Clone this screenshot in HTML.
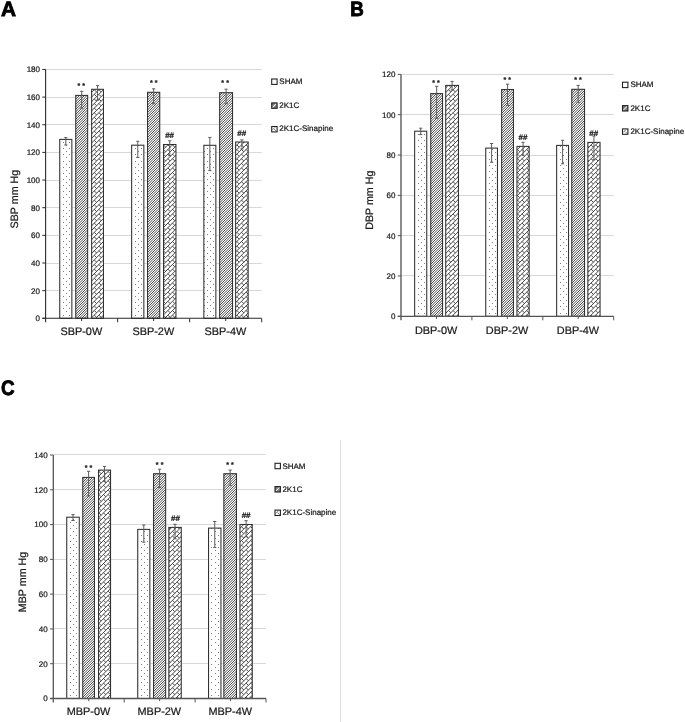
<!DOCTYPE html>
<html><head><meta charset="utf-8"><title>Figure</title>
<style>
html,body{margin:0;padding:0;background:#fff;}
body{width:685px;height:722px;overflow:hidden;}
svg{display:block;text-rendering:geometricPrecision;stroke:none;font-family:"Liberation Sans",Arial,sans-serif;fill:#1a1a1a;}
svg text{stroke:#1a1a1a;stroke-width:0.22px;}
svg text.pl{fill:#000;stroke:#000;stroke-width:0.9px;stroke-linejoin:miter;}
</style></head><body>
<svg width="685" height="722" viewBox="0 0 685 722">

<rect width="685" height="722" fill="#fff"/>
<line x1="45.6" y1="290.50" x2="261.7" y2="290.50" stroke="#d8d8d8" stroke-width="1"/>
<line x1="45.6" y1="263.50" x2="261.7" y2="263.50" stroke="#d8d8d8" stroke-width="1"/>
<line x1="45.6" y1="235.50" x2="261.7" y2="235.50" stroke="#d8d8d8" stroke-width="1"/>
<line x1="45.6" y1="207.50" x2="261.7" y2="207.50" stroke="#d8d8d8" stroke-width="1"/>
<line x1="45.6" y1="180.50" x2="261.7" y2="180.50" stroke="#d8d8d8" stroke-width="1"/>
<line x1="45.6" y1="152.50" x2="261.7" y2="152.50" stroke="#d8d8d8" stroke-width="1"/>
<line x1="45.6" y1="124.50" x2="261.7" y2="124.50" stroke="#d8d8d8" stroke-width="1"/>
<line x1="45.6" y1="97.50" x2="261.7" y2="97.50" stroke="#d8d8d8" stroke-width="1"/>
<line x1="45.6" y1="69.50" x2="261.7" y2="69.50" stroke="#d8d8d8" stroke-width="1"/>
<clipPath id="c1"><rect x="59.75" y="139.40" width="12.10" height="178.90"/></clipPath>
<rect x="59.75" y="139.40" width="12.10" height="178.90" fill="#fff"/>
<g clip-path="url(#c1)"><path d="M59 318.5h1M63 315.5h1M66 318.5h1M69 315.5h1M59 311.5h1M63 308.5h1M66 311.5h1M69 308.5h1M59 305.5h1M63 302.5h1M66 305.5h1M69 302.5h1M59 299.5h1M63 296.5h1M66 299.5h1M69 296.5h1M59 293.5h1M63 290.5h1M66 293.5h1M69 290.5h1M59 287.5h1M63 284.5h1M66 287.5h1M69 284.5h1M59 281.5h1M63 278.5h1M66 281.5h1M69 278.5h1M59 274.5h1M63 271.5h1M66 274.5h1M69 271.5h1M59 268.5h1M63 265.5h1M66 268.5h1M69 265.5h1M59 262.5h1M63 259.5h1M66 262.5h1M69 259.5h1M59 256.5h1M63 253.5h1M66 256.5h1M69 253.5h1M59 250.5h1M63 247.5h1M66 250.5h1M69 247.5h1M59 244.5h1M63 241.5h1M66 244.5h1M69 241.5h1M59 238.5h1M63 234.5h1M66 238.5h1M69 234.5h1M59 231.5h1M63 228.5h1M66 231.5h1M69 228.5h1M59 225.5h1M63 222.5h1M66 225.5h1M69 222.5h1M59 219.5h1M63 216.5h1M66 219.5h1M69 216.5h1M59 213.5h1M63 210.5h1M66 213.5h1M69 210.5h1M59 207.5h1M63 204.5h1M66 207.5h1M69 204.5h1M59 201.5h1M63 197.5h1M66 201.5h1M69 197.5h1M59 194.5h1M63 191.5h1M66 194.5h1M69 191.5h1M59 188.5h1M63 185.5h1M66 188.5h1M69 185.5h1M59 182.5h1M63 179.5h1M66 182.5h1M69 179.5h1M59 176.5h1M63 173.5h1M66 176.5h1M69 173.5h1M59 170.5h1M63 167.5h1M66 170.5h1M69 167.5h1M59 164.5h1M63 161.5h1M66 164.5h1M69 161.5h1M59 157.5h1M63 154.5h1M66 157.5h1M69 154.5h1M59 151.5h1M63 148.5h1M66 151.5h1M69 148.5h1M59 145.5h1M63 142.5h1M66 145.5h1M69 142.5h1M59 139.5h1M63 136.5h1M66 139.5h1M69 136.5h1M59 133.5h1M63 130.5h1M66 133.5h1M69 130.5h1" stroke="#808080" stroke-width="1" fill="none"/></g>
<rect x="59.75" y="139.40" width="12.10" height="178.90" fill="none" stroke="#2e2e2e" stroke-width="1.05"/>
<path d="M65.80 137.60V145.00M64.20 137.60H67.40M64.20 145.00H67.40" stroke="#5c5c5c" stroke-width="1" fill="none"/>
<clipPath id="c2"><rect x="75.75" y="95.40" width="11.90" height="222.90"/></clipPath>
<rect x="75.75" y="95.40" width="11.90" height="222.90" fill="#fff"/>
<g clip-path="url(#c2)"><path d="M74.75 92.75L88.65 78.85M74.75 95.25L88.65 81.35M74.75 97.75L88.65 83.85M74.75 100.25L88.65 86.35M74.75 102.75L88.65 88.85M74.75 105.25L88.65 91.35M74.75 107.75L88.65 93.85M74.75 110.25L88.65 96.35M74.75 112.75L88.65 98.85M74.75 115.25L88.65 101.35M74.75 117.75L88.65 103.85M74.75 120.25L88.65 106.35M74.75 122.75L88.65 108.85M74.75 125.25L88.65 111.35M74.75 127.75L88.65 113.85M74.75 130.25L88.65 116.35M74.75 132.75L88.65 118.85M74.75 135.25L88.65 121.35M74.75 137.75L88.65 123.85M74.75 140.25L88.65 126.35M74.75 142.75L88.65 128.85M74.75 145.25L88.65 131.35M74.75 147.75L88.65 133.85M74.75 150.25L88.65 136.35M74.75 152.75L88.65 138.85M74.75 155.25L88.65 141.35M74.75 157.75L88.65 143.85M74.75 160.25L88.65 146.35M74.75 162.75L88.65 148.85M74.75 165.25L88.65 151.35M74.75 167.75L88.65 153.85M74.75 170.25L88.65 156.35M74.75 172.75L88.65 158.85M74.75 175.25L88.65 161.35M74.75 177.75L88.65 163.85M74.75 180.25L88.65 166.35M74.75 182.75L88.65 168.85M74.75 185.25L88.65 171.35M74.75 187.75L88.65 173.85M74.75 190.25L88.65 176.35M74.75 192.75L88.65 178.85M74.75 195.25L88.65 181.35M74.75 197.75L88.65 183.85M74.75 200.25L88.65 186.35M74.75 202.75L88.65 188.85M74.75 205.25L88.65 191.35M74.75 207.75L88.65 193.85M74.75 210.25L88.65 196.35M74.75 212.75L88.65 198.85M74.75 215.25L88.65 201.35M74.75 217.75L88.65 203.85M74.75 220.25L88.65 206.35M74.75 222.75L88.65 208.85M74.75 225.25L88.65 211.35M74.75 227.75L88.65 213.85M74.75 230.25L88.65 216.35M74.75 232.75L88.65 218.85M74.75 235.25L88.65 221.35M74.75 237.75L88.65 223.85M74.75 240.25L88.65 226.35M74.75 242.75L88.65 228.85M74.75 245.25L88.65 231.35M74.75 247.75L88.65 233.85M74.75 250.25L88.65 236.35M74.75 252.75L88.65 238.85M74.75 255.25L88.65 241.35M74.75 257.75L88.65 243.85M74.75 260.25L88.65 246.35M74.75 262.75L88.65 248.85M74.75 265.25L88.65 251.35M74.75 267.75L88.65 253.85M74.75 270.25L88.65 256.35M74.75 272.75L88.65 258.85M74.75 275.25L88.65 261.35M74.75 277.75L88.65 263.85M74.75 280.25L88.65 266.35M74.75 282.75L88.65 268.85M74.75 285.25L88.65 271.35M74.75 287.75L88.65 273.85M74.75 290.25L88.65 276.35M74.75 292.75L88.65 278.85M74.75 295.25L88.65 281.35M74.75 297.75L88.65 283.85M74.75 300.25L88.65 286.35M74.75 302.75L88.65 288.85M74.75 305.25L88.65 291.35M74.75 307.75L88.65 293.85M74.75 310.25L88.65 296.35M74.75 312.75L88.65 298.85M74.75 315.25L88.65 301.35M74.75 317.75L88.65 303.85M74.75 320.25L88.65 306.35M74.75 322.75L88.65 308.85M74.75 325.25L88.65 311.35M74.75 327.75L88.65 313.85M74.75 330.25L88.65 316.35M74.75 332.75L88.65 318.85M74.75 335.25L88.65 321.35" stroke="#2c2c2c" stroke-width="0.86" fill="none"/></g>
<rect x="75.75" y="95.40" width="11.90" height="222.90" fill="none" stroke="#2e2e2e" stroke-width="1.05"/>
<path d="M81.70 91.30V108.10M80.10 91.30H83.30M80.10 108.10H83.30" stroke="#5c5c5c" stroke-width="1" fill="none"/>
<clipPath id="c3"><rect x="91.65" y="89.30" width="11.80" height="229.00"/></clipPath>
<rect x="91.65" y="89.30" width="11.80" height="229.00" fill="#fff"/>
<g clip-path="url(#c3)"><path d="M90.65 84.15L104.45 70.35M90.65 88.75L104.45 74.95M90.65 93.35L104.45 79.55M90.65 97.95L104.45 84.15M90.65 102.55L104.45 88.75M90.65 107.15L104.45 93.35M90.65 111.75L104.45 97.95M90.65 116.35L104.45 102.55M90.65 120.95L104.45 107.15M90.65 125.55L104.45 111.75M90.65 130.15L104.45 116.35M90.65 134.75L104.45 120.95M90.65 139.35L104.45 125.55M90.65 143.95L104.45 130.15M90.65 148.55L104.45 134.75M90.65 153.15L104.45 139.35M90.65 157.75L104.45 143.95M90.65 162.35L104.45 148.55M90.65 166.95L104.45 153.15M90.65 171.55L104.45 157.75M90.65 176.15L104.45 162.35M90.65 180.75L104.45 166.95M90.65 185.35L104.45 171.55M90.65 189.95L104.45 176.15M90.65 194.55L104.45 180.75M90.65 199.15L104.45 185.35M90.65 203.75L104.45 189.95M90.65 208.35L104.45 194.55M90.65 212.95L104.45 199.15M90.65 217.55L104.45 203.75M90.65 222.15L104.45 208.35M90.65 226.75L104.45 212.95M90.65 231.35L104.45 217.55M90.65 235.95L104.45 222.15M90.65 240.55L104.45 226.75M90.65 245.15L104.45 231.35M90.65 249.75L104.45 235.95M90.65 254.35L104.45 240.55M90.65 258.95L104.45 245.15M90.65 263.55L104.45 249.75M90.65 268.15L104.45 254.35M90.65 272.75L104.45 258.95M90.65 277.35L104.45 263.55M90.65 281.95L104.45 268.15M90.65 286.55L104.45 272.75M90.65 291.15L104.45 277.35M90.65 295.75L104.45 281.95M90.65 300.35L104.45 286.55M90.65 304.95L104.45 291.15M90.65 309.55L104.45 295.75M90.65 314.15L104.45 300.35M90.65 318.75L104.45 304.95M90.65 323.35L104.45 309.55M90.65 327.95L104.45 314.15M90.65 332.55L104.45 318.75M90.65 337.15L104.45 323.35M85.10 85.10l2.30 2.30M85.10 89.70l2.30 2.30M85.10 94.30l2.30 2.30M85.10 98.90l2.30 2.30M85.10 103.50l2.30 2.30M85.10 108.10l2.30 2.30M85.10 112.70l2.30 2.30M85.10 117.30l2.30 2.30M85.10 121.90l2.30 2.30M85.10 126.50l2.30 2.30M85.10 131.10l2.30 2.30M85.10 135.70l2.30 2.30M85.10 140.30l2.30 2.30M85.10 144.90l2.30 2.30M85.10 149.50l2.30 2.30M85.10 154.10l2.30 2.30M85.10 158.70l2.30 2.30M85.10 163.30l2.30 2.30M85.10 167.90l2.30 2.30M85.10 172.50l2.30 2.30M85.10 177.10l2.30 2.30M85.10 181.70l2.30 2.30M85.10 186.30l2.30 2.30M85.10 190.90l2.30 2.30M85.10 195.50l2.30 2.30M85.10 200.10l2.30 2.30M85.10 204.70l2.30 2.30M85.10 209.30l2.30 2.30M85.10 213.90l2.30 2.30M85.10 218.50l2.30 2.30M85.10 223.10l2.30 2.30M85.10 227.70l2.30 2.30M85.10 232.30l2.30 2.30M85.10 236.90l2.30 2.30M85.10 241.50l2.30 2.30M85.10 246.10l2.30 2.30M85.10 250.70l2.30 2.30M85.10 255.30l2.30 2.30M85.10 259.90l2.30 2.30M85.10 264.50l2.30 2.30M85.10 269.10l2.30 2.30M85.10 273.70l2.30 2.30M85.10 278.30l2.30 2.30M85.10 282.90l2.30 2.30M85.10 287.50l2.30 2.30M85.10 292.10l2.30 2.30M85.10 296.70l2.30 2.30M85.10 301.30l2.30 2.30M85.10 305.90l2.30 2.30M85.10 310.50l2.30 2.30M85.10 315.10l2.30 2.30M85.10 319.70l2.30 2.30M85.10 324.30l2.30 2.30M85.10 328.90l2.30 2.30M89.70 85.10l2.30 2.30M89.70 89.70l2.30 2.30M89.70 94.30l2.30 2.30M89.70 98.90l2.30 2.30M89.70 103.50l2.30 2.30M89.70 108.10l2.30 2.30M89.70 112.70l2.30 2.30M89.70 117.30l2.30 2.30M89.70 121.90l2.30 2.30M89.70 126.50l2.30 2.30M89.70 131.10l2.30 2.30M89.70 135.70l2.30 2.30M89.70 140.30l2.30 2.30M89.70 144.90l2.30 2.30M89.70 149.50l2.30 2.30M89.70 154.10l2.30 2.30M89.70 158.70l2.30 2.30M89.70 163.30l2.30 2.30M89.70 167.90l2.30 2.30M89.70 172.50l2.30 2.30M89.70 177.10l2.30 2.30M89.70 181.70l2.30 2.30M89.70 186.30l2.30 2.30M89.70 190.90l2.30 2.30M89.70 195.50l2.30 2.30M89.70 200.10l2.30 2.30M89.70 204.70l2.30 2.30M89.70 209.30l2.30 2.30M89.70 213.90l2.30 2.30M89.70 218.50l2.30 2.30M89.70 223.10l2.30 2.30M89.70 227.70l2.30 2.30M89.70 232.30l2.30 2.30M89.70 236.90l2.30 2.30M89.70 241.50l2.30 2.30M89.70 246.10l2.30 2.30M89.70 250.70l2.30 2.30M89.70 255.30l2.30 2.30M89.70 259.90l2.30 2.30M89.70 264.50l2.30 2.30M89.70 269.10l2.30 2.30M89.70 273.70l2.30 2.30M89.70 278.30l2.30 2.30M89.70 282.90l2.30 2.30M89.70 287.50l2.30 2.30M89.70 292.10l2.30 2.30M89.70 296.70l2.30 2.30M89.70 301.30l2.30 2.30M89.70 305.90l2.30 2.30M89.70 310.50l2.30 2.30M89.70 315.10l2.30 2.30M89.70 319.70l2.30 2.30M89.70 324.30l2.30 2.30M89.70 328.90l2.30 2.30M94.30 85.10l2.30 2.30M94.30 89.70l2.30 2.30M94.30 94.30l2.30 2.30M94.30 98.90l2.30 2.30M94.30 103.50l2.30 2.30M94.30 108.10l2.30 2.30M94.30 112.70l2.30 2.30M94.30 117.30l2.30 2.30M94.30 121.90l2.30 2.30M94.30 126.50l2.30 2.30M94.30 131.10l2.30 2.30M94.30 135.70l2.30 2.30M94.30 140.30l2.30 2.30M94.30 144.90l2.30 2.30M94.30 149.50l2.30 2.30M94.30 154.10l2.30 2.30M94.30 158.70l2.30 2.30M94.30 163.30l2.30 2.30M94.30 167.90l2.30 2.30M94.30 172.50l2.30 2.30M94.30 177.10l2.30 2.30M94.30 181.70l2.30 2.30M94.30 186.30l2.30 2.30M94.30 190.90l2.30 2.30M94.30 195.50l2.30 2.30M94.30 200.10l2.30 2.30M94.30 204.70l2.30 2.30M94.30 209.30l2.30 2.30M94.30 213.90l2.30 2.30M94.30 218.50l2.30 2.30M94.30 223.10l2.30 2.30M94.30 227.70l2.30 2.30M94.30 232.30l2.30 2.30M94.30 236.90l2.30 2.30M94.30 241.50l2.30 2.30M94.30 246.10l2.30 2.30M94.30 250.70l2.30 2.30M94.30 255.30l2.30 2.30M94.30 259.90l2.30 2.30M94.30 264.50l2.30 2.30M94.30 269.10l2.30 2.30M94.30 273.70l2.30 2.30M94.30 278.30l2.30 2.30M94.30 282.90l2.30 2.30M94.30 287.50l2.30 2.30M94.30 292.10l2.30 2.30M94.30 296.70l2.30 2.30M94.30 301.30l2.30 2.30M94.30 305.90l2.30 2.30M94.30 310.50l2.30 2.30M94.30 315.10l2.30 2.30M94.30 319.70l2.30 2.30M94.30 324.30l2.30 2.30M94.30 328.90l2.30 2.30M98.90 85.10l2.30 2.30M98.90 89.70l2.30 2.30M98.90 94.30l2.30 2.30M98.90 98.90l2.30 2.30M98.90 103.50l2.30 2.30M98.90 108.10l2.30 2.30M98.90 112.70l2.30 2.30M98.90 117.30l2.30 2.30M98.90 121.90l2.30 2.30M98.90 126.50l2.30 2.30M98.90 131.10l2.30 2.30M98.90 135.70l2.30 2.30M98.90 140.30l2.30 2.30M98.90 144.90l2.30 2.30M98.90 149.50l2.30 2.30M98.90 154.10l2.30 2.30M98.90 158.70l2.30 2.30M98.90 163.30l2.30 2.30M98.90 167.90l2.30 2.30M98.90 172.50l2.30 2.30M98.90 177.10l2.30 2.30M98.90 181.70l2.30 2.30M98.90 186.30l2.30 2.30M98.90 190.90l2.30 2.30M98.90 195.50l2.30 2.30M98.90 200.10l2.30 2.30M98.90 204.70l2.30 2.30M98.90 209.30l2.30 2.30M98.90 213.90l2.30 2.30M98.90 218.50l2.30 2.30M98.90 223.10l2.30 2.30M98.90 227.70l2.30 2.30M98.90 232.30l2.30 2.30M98.90 236.90l2.30 2.30M98.90 241.50l2.30 2.30M98.90 246.10l2.30 2.30M98.90 250.70l2.30 2.30M98.90 255.30l2.30 2.30M98.90 259.90l2.30 2.30M98.90 264.50l2.30 2.30M98.90 269.10l2.30 2.30M98.90 273.70l2.30 2.30M98.90 278.30l2.30 2.30M98.90 282.90l2.30 2.30M98.90 287.50l2.30 2.30M98.90 292.10l2.30 2.30M98.90 296.70l2.30 2.30M98.90 301.30l2.30 2.30M98.90 305.90l2.30 2.30M98.90 310.50l2.30 2.30M98.90 315.10l2.30 2.30M98.90 319.70l2.30 2.30M98.90 324.30l2.30 2.30M98.90 328.90l2.30 2.30M103.50 85.10l2.30 2.30M103.50 89.70l2.30 2.30M103.50 94.30l2.30 2.30M103.50 98.90l2.30 2.30M103.50 103.50l2.30 2.30M103.50 108.10l2.30 2.30M103.50 112.70l2.30 2.30M103.50 117.30l2.30 2.30M103.50 121.90l2.30 2.30M103.50 126.50l2.30 2.30M103.50 131.10l2.30 2.30M103.50 135.70l2.30 2.30M103.50 140.30l2.30 2.30M103.50 144.90l2.30 2.30M103.50 149.50l2.30 2.30M103.50 154.10l2.30 2.30M103.50 158.70l2.30 2.30M103.50 163.30l2.30 2.30M103.50 167.90l2.30 2.30M103.50 172.50l2.30 2.30M103.50 177.10l2.30 2.30M103.50 181.70l2.30 2.30M103.50 186.30l2.30 2.30M103.50 190.90l2.30 2.30M103.50 195.50l2.30 2.30M103.50 200.10l2.30 2.30M103.50 204.70l2.30 2.30M103.50 209.30l2.30 2.30M103.50 213.90l2.30 2.30M103.50 218.50l2.30 2.30M103.50 223.10l2.30 2.30M103.50 227.70l2.30 2.30M103.50 232.30l2.30 2.30M103.50 236.90l2.30 2.30M103.50 241.50l2.30 2.30M103.50 246.10l2.30 2.30M103.50 250.70l2.30 2.30M103.50 255.30l2.30 2.30M103.50 259.90l2.30 2.30M103.50 264.50l2.30 2.30M103.50 269.10l2.30 2.30M103.50 273.70l2.30 2.30M103.50 278.30l2.30 2.30M103.50 282.90l2.30 2.30M103.50 287.50l2.30 2.30M103.50 292.10l2.30 2.30M103.50 296.70l2.30 2.30M103.50 301.30l2.30 2.30M103.50 305.90l2.30 2.30M103.50 310.50l2.30 2.30M103.50 315.10l2.30 2.30M103.50 319.70l2.30 2.30M103.50 324.30l2.30 2.30M103.50 328.90l2.30 2.30M108.10 85.10l2.30 2.30M108.10 89.70l2.30 2.30M108.10 94.30l2.30 2.30M108.10 98.90l2.30 2.30M108.10 103.50l2.30 2.30M108.10 108.10l2.30 2.30M108.10 112.70l2.30 2.30M108.10 117.30l2.30 2.30M108.10 121.90l2.30 2.30M108.10 126.50l2.30 2.30M108.10 131.10l2.30 2.30M108.10 135.70l2.30 2.30M108.10 140.30l2.30 2.30M108.10 144.90l2.30 2.30M108.10 149.50l2.30 2.30M108.10 154.10l2.30 2.30M108.10 158.70l2.30 2.30M108.10 163.30l2.30 2.30M108.10 167.90l2.30 2.30M108.10 172.50l2.30 2.30M108.10 177.10l2.30 2.30M108.10 181.70l2.30 2.30M108.10 186.30l2.30 2.30M108.10 190.90l2.30 2.30M108.10 195.50l2.30 2.30M108.10 200.10l2.30 2.30M108.10 204.70l2.30 2.30M108.10 209.30l2.30 2.30M108.10 213.90l2.30 2.30M108.10 218.50l2.30 2.30M108.10 223.10l2.30 2.30M108.10 227.70l2.30 2.30M108.10 232.30l2.30 2.30M108.10 236.90l2.30 2.30M108.10 241.50l2.30 2.30M108.10 246.10l2.30 2.30M108.10 250.70l2.30 2.30M108.10 255.30l2.30 2.30M108.10 259.90l2.30 2.30M108.10 264.50l2.30 2.30M108.10 269.10l2.30 2.30M108.10 273.70l2.30 2.30M108.10 278.30l2.30 2.30M108.10 282.90l2.30 2.30M108.10 287.50l2.30 2.30M108.10 292.10l2.30 2.30M108.10 296.70l2.30 2.30M108.10 301.30l2.30 2.30M108.10 305.90l2.30 2.30M108.10 310.50l2.30 2.30M108.10 315.10l2.30 2.30M108.10 319.70l2.30 2.30M108.10 324.30l2.30 2.30M108.10 328.90l2.30 2.30M112.70 85.10l2.30 2.30M112.70 89.70l2.30 2.30M112.70 94.30l2.30 2.30M112.70 98.90l2.30 2.30M112.70 103.50l2.30 2.30M112.70 108.10l2.30 2.30M112.70 112.70l2.30 2.30M112.70 117.30l2.30 2.30M112.70 121.90l2.30 2.30M112.70 126.50l2.30 2.30M112.70 131.10l2.30 2.30M112.70 135.70l2.30 2.30M112.70 140.30l2.30 2.30M112.70 144.90l2.30 2.30M112.70 149.50l2.30 2.30M112.70 154.10l2.30 2.30M112.70 158.70l2.30 2.30M112.70 163.30l2.30 2.30M112.70 167.90l2.30 2.30M112.70 172.50l2.30 2.30M112.70 177.10l2.30 2.30M112.70 181.70l2.30 2.30M112.70 186.30l2.30 2.30M112.70 190.90l2.30 2.30M112.70 195.50l2.30 2.30M112.70 200.10l2.30 2.30M112.70 204.70l2.30 2.30M112.70 209.30l2.30 2.30M112.70 213.90l2.30 2.30M112.70 218.50l2.30 2.30M112.70 223.10l2.30 2.30M112.70 227.70l2.30 2.30M112.70 232.30l2.30 2.30M112.70 236.90l2.30 2.30M112.70 241.50l2.30 2.30M112.70 246.10l2.30 2.30M112.70 250.70l2.30 2.30M112.70 255.30l2.30 2.30M112.70 259.90l2.30 2.30M112.70 264.50l2.30 2.30M112.70 269.10l2.30 2.30M112.70 273.70l2.30 2.30M112.70 278.30l2.30 2.30M112.70 282.90l2.30 2.30M112.70 287.50l2.30 2.30M112.70 292.10l2.30 2.30M112.70 296.70l2.30 2.30M112.70 301.30l2.30 2.30M112.70 305.90l2.30 2.30M112.70 310.50l2.30 2.30M112.70 315.10l2.30 2.30M112.70 319.70l2.30 2.30M112.70 324.30l2.30 2.30M112.70 328.90l2.30 2.30" stroke="#404040" stroke-width="0.95" fill="none"/></g>
<rect x="91.65" y="89.30" width="11.80" height="229.00" fill="none" stroke="#2e2e2e" stroke-width="1.05"/>
<path d="M97.55 85.60V100.20M95.95 85.60H99.15M95.95 100.20H99.15" stroke="#5c5c5c" stroke-width="1" fill="none"/>
<clipPath id="c4"><rect x="131.65" y="145.20" width="12.20" height="173.10"/></clipPath>
<rect x="131.65" y="145.20" width="12.20" height="173.10" fill="#fff"/>
<g clip-path="url(#c4)"><path d="M131 318.5h1M135 315.5h1M138 318.5h1M141 315.5h1M144 318.5h1M148 315.5h1M131 311.5h1M135 308.5h1M138 311.5h1M141 308.5h1M144 311.5h1M148 308.5h1M131 305.5h1M135 302.5h1M138 305.5h1M141 302.5h1M144 305.5h1M148 302.5h1M131 299.5h1M135 296.5h1M138 299.5h1M141 296.5h1M144 299.5h1M148 296.5h1M131 293.5h1M135 290.5h1M138 293.5h1M141 290.5h1M144 293.5h1M148 290.5h1M131 287.5h1M135 284.5h1M138 287.5h1M141 284.5h1M144 287.5h1M148 284.5h1M131 281.5h1M135 278.5h1M138 281.5h1M141 278.5h1M144 281.5h1M148 278.5h1M131 274.5h1M135 271.5h1M138 274.5h1M141 271.5h1M144 274.5h1M148 271.5h1M131 268.5h1M135 265.5h1M138 268.5h1M141 265.5h1M144 268.5h1M148 265.5h1M131 262.5h1M135 259.5h1M138 262.5h1M141 259.5h1M144 262.5h1M148 259.5h1M131 256.5h1M135 253.5h1M138 256.5h1M141 253.5h1M144 256.5h1M148 253.5h1M131 250.5h1M135 247.5h1M138 250.5h1M141 247.5h1M144 250.5h1M148 247.5h1M131 244.5h1M135 241.5h1M138 244.5h1M141 241.5h1M144 244.5h1M148 241.5h1M131 238.5h1M135 234.5h1M138 238.5h1M141 234.5h1M144 238.5h1M148 234.5h1M131 231.5h1M135 228.5h1M138 231.5h1M141 228.5h1M144 231.5h1M148 228.5h1M131 225.5h1M135 222.5h1M138 225.5h1M141 222.5h1M144 225.5h1M148 222.5h1M131 219.5h1M135 216.5h1M138 219.5h1M141 216.5h1M144 219.5h1M148 216.5h1M131 213.5h1M135 210.5h1M138 213.5h1M141 210.5h1M144 213.5h1M148 210.5h1M131 207.5h1M135 204.5h1M138 207.5h1M141 204.5h1M144 207.5h1M148 204.5h1M131 201.5h1M135 197.5h1M138 201.5h1M141 197.5h1M144 201.5h1M148 197.5h1M131 194.5h1M135 191.5h1M138 194.5h1M141 191.5h1M144 194.5h1M148 191.5h1M131 188.5h1M135 185.5h1M138 188.5h1M141 185.5h1M144 188.5h1M148 185.5h1M131 182.5h1M135 179.5h1M138 182.5h1M141 179.5h1M144 182.5h1M148 179.5h1M131 176.5h1M135 173.5h1M138 176.5h1M141 173.5h1M144 176.5h1M148 173.5h1M131 170.5h1M135 167.5h1M138 170.5h1M141 167.5h1M144 170.5h1M148 167.5h1M131 164.5h1M135 161.5h1M138 164.5h1M141 161.5h1M144 164.5h1M148 161.5h1M131 157.5h1M135 154.5h1M138 157.5h1M141 154.5h1M144 157.5h1M148 154.5h1M131 151.5h1M135 148.5h1M138 151.5h1M141 148.5h1M144 151.5h1M148 148.5h1M131 145.5h1M135 142.5h1M138 145.5h1M141 142.5h1M144 145.5h1M148 142.5h1M131 139.5h1M135 136.5h1M138 139.5h1M141 136.5h1M144 139.5h1M148 136.5h1" stroke="#808080" stroke-width="1" fill="none"/></g>
<rect x="131.65" y="145.20" width="12.20" height="173.10" fill="none" stroke="#2e2e2e" stroke-width="1.05"/>
<path d="M137.75 141.30V157.50M136.15 141.30H139.35M136.15 157.50H139.35" stroke="#5c5c5c" stroke-width="1" fill="none"/>
<clipPath id="c5"><rect x="147.55" y="92.30" width="12.20" height="226.00"/></clipPath>
<rect x="147.55" y="92.30" width="12.20" height="226.00" fill="#fff"/>
<g clip-path="url(#c5)"><path d="M146.55 88.45L160.75 74.25M146.55 90.95L160.75 76.75M146.55 93.45L160.75 79.25M146.55 95.95L160.75 81.75M146.55 98.45L160.75 84.25M146.55 100.95L160.75 86.75M146.55 103.45L160.75 89.25M146.55 105.95L160.75 91.75M146.55 108.45L160.75 94.25M146.55 110.95L160.75 96.75M146.55 113.45L160.75 99.25M146.55 115.95L160.75 101.75M146.55 118.45L160.75 104.25M146.55 120.95L160.75 106.75M146.55 123.45L160.75 109.25M146.55 125.95L160.75 111.75M146.55 128.45L160.75 114.25M146.55 130.95L160.75 116.75M146.55 133.45L160.75 119.25M146.55 135.95L160.75 121.75M146.55 138.45L160.75 124.25M146.55 140.95L160.75 126.75M146.55 143.45L160.75 129.25M146.55 145.95L160.75 131.75M146.55 148.45L160.75 134.25M146.55 150.95L160.75 136.75M146.55 153.45L160.75 139.25M146.55 155.95L160.75 141.75M146.55 158.45L160.75 144.25M146.55 160.95L160.75 146.75M146.55 163.45L160.75 149.25M146.55 165.95L160.75 151.75M146.55 168.45L160.75 154.25M146.55 170.95L160.75 156.75M146.55 173.45L160.75 159.25M146.55 175.95L160.75 161.75M146.55 178.45L160.75 164.25M146.55 180.95L160.75 166.75M146.55 183.45L160.75 169.25M146.55 185.95L160.75 171.75M146.55 188.45L160.75 174.25M146.55 190.95L160.75 176.75M146.55 193.45L160.75 179.25M146.55 195.95L160.75 181.75M146.55 198.45L160.75 184.25M146.55 200.95L160.75 186.75M146.55 203.45L160.75 189.25M146.55 205.95L160.75 191.75M146.55 208.45L160.75 194.25M146.55 210.95L160.75 196.75M146.55 213.45L160.75 199.25M146.55 215.95L160.75 201.75M146.55 218.45L160.75 204.25M146.55 220.95L160.75 206.75M146.55 223.45L160.75 209.25M146.55 225.95L160.75 211.75M146.55 228.45L160.75 214.25M146.55 230.95L160.75 216.75M146.55 233.45L160.75 219.25M146.55 235.95L160.75 221.75M146.55 238.45L160.75 224.25M146.55 240.95L160.75 226.75M146.55 243.45L160.75 229.25M146.55 245.95L160.75 231.75M146.55 248.45L160.75 234.25M146.55 250.95L160.75 236.75M146.55 253.45L160.75 239.25M146.55 255.95L160.75 241.75M146.55 258.45L160.75 244.25M146.55 260.95L160.75 246.75M146.55 263.45L160.75 249.25M146.55 265.95L160.75 251.75M146.55 268.45L160.75 254.25M146.55 270.95L160.75 256.75M146.55 273.45L160.75 259.25M146.55 275.95L160.75 261.75M146.55 278.45L160.75 264.25M146.55 280.95L160.75 266.75M146.55 283.45L160.75 269.25M146.55 285.95L160.75 271.75M146.55 288.45L160.75 274.25M146.55 290.95L160.75 276.75M146.55 293.45L160.75 279.25M146.55 295.95L160.75 281.75M146.55 298.45L160.75 284.25M146.55 300.95L160.75 286.75M146.55 303.45L160.75 289.25M146.55 305.95L160.75 291.75M146.55 308.45L160.75 294.25M146.55 310.95L160.75 296.75M146.55 313.45L160.75 299.25M146.55 315.95L160.75 301.75M146.55 318.45L160.75 304.25M146.55 320.95L160.75 306.75M146.55 323.45L160.75 309.25M146.55 325.95L160.75 311.75M146.55 328.45L160.75 314.25M146.55 330.95L160.75 316.75M146.55 333.45L160.75 319.25M146.55 335.95L160.75 321.75" stroke="#2c2c2c" stroke-width="0.86" fill="none"/></g>
<rect x="147.55" y="92.30" width="12.20" height="226.00" fill="none" stroke="#2e2e2e" stroke-width="1.05"/>
<path d="M153.65 88.80V103.70M152.05 88.80H155.25M152.05 103.70H155.25" stroke="#5c5c5c" stroke-width="1" fill="none"/>
<clipPath id="c6"><rect x="163.55" y="144.50" width="12.40" height="173.80"/></clipPath>
<rect x="163.55" y="144.50" width="12.40" height="173.80" fill="#fff"/>
<g clip-path="url(#c6)"><path d="M162.55 136.45L176.95 122.05M162.55 141.05L176.95 126.65M162.55 145.65L176.95 131.25M162.55 150.25L176.95 135.85M162.55 154.85L176.95 140.45M162.55 159.45L176.95 145.05M162.55 164.05L176.95 149.65M162.55 168.65L176.95 154.25M162.55 173.25L176.95 158.85M162.55 177.85L176.95 163.45M162.55 182.45L176.95 168.05M162.55 187.05L176.95 172.65M162.55 191.65L176.95 177.25M162.55 196.25L176.95 181.85M162.55 200.85L176.95 186.45M162.55 205.45L176.95 191.05M162.55 210.05L176.95 195.65M162.55 214.65L176.95 200.25M162.55 219.25L176.95 204.85M162.55 223.85L176.95 209.45M162.55 228.45L176.95 214.05M162.55 233.05L176.95 218.65M162.55 237.65L176.95 223.25M162.55 242.25L176.95 227.85M162.55 246.85L176.95 232.45M162.55 251.45L176.95 237.05M162.55 256.05L176.95 241.65M162.55 260.65L176.95 246.25M162.55 265.25L176.95 250.85M162.55 269.85L176.95 255.45M162.55 274.45L176.95 260.05M162.55 279.05L176.95 264.65M162.55 283.65L176.95 269.25M162.55 288.25L176.95 273.85M162.55 292.85L176.95 278.45M162.55 297.45L176.95 283.05M162.55 302.05L176.95 287.65M162.55 306.65L176.95 292.25M162.55 311.25L176.95 296.85M162.55 315.85L176.95 301.45M162.55 320.45L176.95 306.05M162.55 325.05L176.95 310.65M162.55 329.65L176.95 315.25M162.55 334.25L176.95 319.85M162.55 338.85L176.95 324.45M158.70 140.30l2.30 2.30M158.70 144.90l2.30 2.30M158.70 149.50l2.30 2.30M158.70 154.10l2.30 2.30M158.70 158.70l2.30 2.30M158.70 163.30l2.30 2.30M158.70 167.90l2.30 2.30M158.70 172.50l2.30 2.30M158.70 177.10l2.30 2.30M158.70 181.70l2.30 2.30M158.70 186.30l2.30 2.30M158.70 190.90l2.30 2.30M158.70 195.50l2.30 2.30M158.70 200.10l2.30 2.30M158.70 204.70l2.30 2.30M158.70 209.30l2.30 2.30M158.70 213.90l2.30 2.30M158.70 218.50l2.30 2.30M158.70 223.10l2.30 2.30M158.70 227.70l2.30 2.30M158.70 232.30l2.30 2.30M158.70 236.90l2.30 2.30M158.70 241.50l2.30 2.30M158.70 246.10l2.30 2.30M158.70 250.70l2.30 2.30M158.70 255.30l2.30 2.30M158.70 259.90l2.30 2.30M158.70 264.50l2.30 2.30M158.70 269.10l2.30 2.30M158.70 273.70l2.30 2.30M158.70 278.30l2.30 2.30M158.70 282.90l2.30 2.30M158.70 287.50l2.30 2.30M158.70 292.10l2.30 2.30M158.70 296.70l2.30 2.30M158.70 301.30l2.30 2.30M158.70 305.90l2.30 2.30M158.70 310.50l2.30 2.30M158.70 315.10l2.30 2.30M158.70 319.70l2.30 2.30M158.70 324.30l2.30 2.30M158.70 328.90l2.30 2.30M163.30 140.30l2.30 2.30M163.30 144.90l2.30 2.30M163.30 149.50l2.30 2.30M163.30 154.10l2.30 2.30M163.30 158.70l2.30 2.30M163.30 163.30l2.30 2.30M163.30 167.90l2.30 2.30M163.30 172.50l2.30 2.30M163.30 177.10l2.30 2.30M163.30 181.70l2.30 2.30M163.30 186.30l2.30 2.30M163.30 190.90l2.30 2.30M163.30 195.50l2.30 2.30M163.30 200.10l2.30 2.30M163.30 204.70l2.30 2.30M163.30 209.30l2.30 2.30M163.30 213.90l2.30 2.30M163.30 218.50l2.30 2.30M163.30 223.10l2.30 2.30M163.30 227.70l2.30 2.30M163.30 232.30l2.30 2.30M163.30 236.90l2.30 2.30M163.30 241.50l2.30 2.30M163.30 246.10l2.30 2.30M163.30 250.70l2.30 2.30M163.30 255.30l2.30 2.30M163.30 259.90l2.30 2.30M163.30 264.50l2.30 2.30M163.30 269.10l2.30 2.30M163.30 273.70l2.30 2.30M163.30 278.30l2.30 2.30M163.30 282.90l2.30 2.30M163.30 287.50l2.30 2.30M163.30 292.10l2.30 2.30M163.30 296.70l2.30 2.30M163.30 301.30l2.30 2.30M163.30 305.90l2.30 2.30M163.30 310.50l2.30 2.30M163.30 315.10l2.30 2.30M163.30 319.70l2.30 2.30M163.30 324.30l2.30 2.30M163.30 328.90l2.30 2.30M167.90 140.30l2.30 2.30M167.90 144.90l2.30 2.30M167.90 149.50l2.30 2.30M167.90 154.10l2.30 2.30M167.90 158.70l2.30 2.30M167.90 163.30l2.30 2.30M167.90 167.90l2.30 2.30M167.90 172.50l2.30 2.30M167.90 177.10l2.30 2.30M167.90 181.70l2.30 2.30M167.90 186.30l2.30 2.30M167.90 190.90l2.30 2.30M167.90 195.50l2.30 2.30M167.90 200.10l2.30 2.30M167.90 204.70l2.30 2.30M167.90 209.30l2.30 2.30M167.90 213.90l2.30 2.30M167.90 218.50l2.30 2.30M167.90 223.10l2.30 2.30M167.90 227.70l2.30 2.30M167.90 232.30l2.30 2.30M167.90 236.90l2.30 2.30M167.90 241.50l2.30 2.30M167.90 246.10l2.30 2.30M167.90 250.70l2.30 2.30M167.90 255.30l2.30 2.30M167.90 259.90l2.30 2.30M167.90 264.50l2.30 2.30M167.90 269.10l2.30 2.30M167.90 273.70l2.30 2.30M167.90 278.30l2.30 2.30M167.90 282.90l2.30 2.30M167.90 287.50l2.30 2.30M167.90 292.10l2.30 2.30M167.90 296.70l2.30 2.30M167.90 301.30l2.30 2.30M167.90 305.90l2.30 2.30M167.90 310.50l2.30 2.30M167.90 315.10l2.30 2.30M167.90 319.70l2.30 2.30M167.90 324.30l2.30 2.30M167.90 328.90l2.30 2.30M172.50 140.30l2.30 2.30M172.50 144.90l2.30 2.30M172.50 149.50l2.30 2.30M172.50 154.10l2.30 2.30M172.50 158.70l2.30 2.30M172.50 163.30l2.30 2.30M172.50 167.90l2.30 2.30M172.50 172.50l2.30 2.30M172.50 177.10l2.30 2.30M172.50 181.70l2.30 2.30M172.50 186.30l2.30 2.30M172.50 190.90l2.30 2.30M172.50 195.50l2.30 2.30M172.50 200.10l2.30 2.30M172.50 204.70l2.30 2.30M172.50 209.30l2.30 2.30M172.50 213.90l2.30 2.30M172.50 218.50l2.30 2.30M172.50 223.10l2.30 2.30M172.50 227.70l2.30 2.30M172.50 232.30l2.30 2.30M172.50 236.90l2.30 2.30M172.50 241.50l2.30 2.30M172.50 246.10l2.30 2.30M172.50 250.70l2.30 2.30M172.50 255.30l2.30 2.30M172.50 259.90l2.30 2.30M172.50 264.50l2.30 2.30M172.50 269.10l2.30 2.30M172.50 273.70l2.30 2.30M172.50 278.30l2.30 2.30M172.50 282.90l2.30 2.30M172.50 287.50l2.30 2.30M172.50 292.10l2.30 2.30M172.50 296.70l2.30 2.30M172.50 301.30l2.30 2.30M172.50 305.90l2.30 2.30M172.50 310.50l2.30 2.30M172.50 315.10l2.30 2.30M172.50 319.70l2.30 2.30M172.50 324.30l2.30 2.30M172.50 328.90l2.30 2.30M177.10 140.30l2.30 2.30M177.10 144.90l2.30 2.30M177.10 149.50l2.30 2.30M177.10 154.10l2.30 2.30M177.10 158.70l2.30 2.30M177.10 163.30l2.30 2.30M177.10 167.90l2.30 2.30M177.10 172.50l2.30 2.30M177.10 177.10l2.30 2.30M177.10 181.70l2.30 2.30M177.10 186.30l2.30 2.30M177.10 190.90l2.30 2.30M177.10 195.50l2.30 2.30M177.10 200.10l2.30 2.30M177.10 204.70l2.30 2.30M177.10 209.30l2.30 2.30M177.10 213.90l2.30 2.30M177.10 218.50l2.30 2.30M177.10 223.10l2.30 2.30M177.10 227.70l2.30 2.30M177.10 232.30l2.30 2.30M177.10 236.90l2.30 2.30M177.10 241.50l2.30 2.30M177.10 246.10l2.30 2.30M177.10 250.70l2.30 2.30M177.10 255.30l2.30 2.30M177.10 259.90l2.30 2.30M177.10 264.50l2.30 2.30M177.10 269.10l2.30 2.30M177.10 273.70l2.30 2.30M177.10 278.30l2.30 2.30M177.10 282.90l2.30 2.30M177.10 287.50l2.30 2.30M177.10 292.10l2.30 2.30M177.10 296.70l2.30 2.30M177.10 301.30l2.30 2.30M177.10 305.90l2.30 2.30M177.10 310.50l2.30 2.30M177.10 315.10l2.30 2.30M177.10 319.70l2.30 2.30M177.10 324.30l2.30 2.30M177.10 328.90l2.30 2.30M181.70 140.30l2.30 2.30M181.70 144.90l2.30 2.30M181.70 149.50l2.30 2.30M181.70 154.10l2.30 2.30M181.70 158.70l2.30 2.30M181.70 163.30l2.30 2.30M181.70 167.90l2.30 2.30M181.70 172.50l2.30 2.30M181.70 177.10l2.30 2.30M181.70 181.70l2.30 2.30M181.70 186.30l2.30 2.30M181.70 190.90l2.30 2.30M181.70 195.50l2.30 2.30M181.70 200.10l2.30 2.30M181.70 204.70l2.30 2.30M181.70 209.30l2.30 2.30M181.70 213.90l2.30 2.30M181.70 218.50l2.30 2.30M181.70 223.10l2.30 2.30M181.70 227.70l2.30 2.30M181.70 232.30l2.30 2.30M181.70 236.90l2.30 2.30M181.70 241.50l2.30 2.30M181.70 246.10l2.30 2.30M181.70 250.70l2.30 2.30M181.70 255.30l2.30 2.30M181.70 259.90l2.30 2.30M181.70 264.50l2.30 2.30M181.70 269.10l2.30 2.30M181.70 273.70l2.30 2.30M181.70 278.30l2.30 2.30M181.70 282.90l2.30 2.30M181.70 287.50l2.30 2.30M181.70 292.10l2.30 2.30M181.70 296.70l2.30 2.30M181.70 301.30l2.30 2.30M181.70 305.90l2.30 2.30M181.70 310.50l2.30 2.30M181.70 315.10l2.30 2.30M181.70 319.70l2.30 2.30M181.70 324.30l2.30 2.30M181.70 328.90l2.30 2.30M186.30 140.30l2.30 2.30M186.30 144.90l2.30 2.30M186.30 149.50l2.30 2.30M186.30 154.10l2.30 2.30M186.30 158.70l2.30 2.30M186.30 163.30l2.30 2.30M186.30 167.90l2.30 2.30M186.30 172.50l2.30 2.30M186.30 177.10l2.30 2.30M186.30 181.70l2.30 2.30M186.30 186.30l2.30 2.30M186.30 190.90l2.30 2.30M186.30 195.50l2.30 2.30M186.30 200.10l2.30 2.30M186.30 204.70l2.30 2.30M186.30 209.30l2.30 2.30M186.30 213.90l2.30 2.30M186.30 218.50l2.30 2.30M186.30 223.10l2.30 2.30M186.30 227.70l2.30 2.30M186.30 232.30l2.30 2.30M186.30 236.90l2.30 2.30M186.30 241.50l2.30 2.30M186.30 246.10l2.30 2.30M186.30 250.70l2.30 2.30M186.30 255.30l2.30 2.30M186.30 259.90l2.30 2.30M186.30 264.50l2.30 2.30M186.30 269.10l2.30 2.30M186.30 273.70l2.30 2.30M186.30 278.30l2.30 2.30M186.30 282.90l2.30 2.30M186.30 287.50l2.30 2.30M186.30 292.10l2.30 2.30M186.30 296.70l2.30 2.30M186.30 301.30l2.30 2.30M186.30 305.90l2.30 2.30M186.30 310.50l2.30 2.30M186.30 315.10l2.30 2.30M186.30 319.70l2.30 2.30M186.30 324.30l2.30 2.30M186.30 328.90l2.30 2.30" stroke="#404040" stroke-width="0.95" fill="none"/></g>
<rect x="163.55" y="144.50" width="12.40" height="173.80" fill="none" stroke="#2e2e2e" stroke-width="1.05"/>
<path d="M169.75 140.80V155.70M168.15 140.80H171.35M168.15 155.70H171.35" stroke="#5c5c5c" stroke-width="1" fill="none"/>
<clipPath id="c7"><rect x="203.85" y="145.30" width="12.00" height="173.00"/></clipPath>
<rect x="203.85" y="145.30" width="12.00" height="173.00" fill="#fff"/>
<g clip-path="url(#c7)"><path d="M204 318.5h1M207 315.5h1M210 318.5h1M213 315.5h1M204 311.5h1M207 308.5h1M210 311.5h1M213 308.5h1M204 305.5h1M207 302.5h1M210 305.5h1M213 302.5h1M204 299.5h1M207 296.5h1M210 299.5h1M213 296.5h1M204 293.5h1M207 290.5h1M210 293.5h1M213 290.5h1M204 287.5h1M207 284.5h1M210 287.5h1M213 284.5h1M204 281.5h1M207 278.5h1M210 281.5h1M213 278.5h1M204 274.5h1M207 271.5h1M210 274.5h1M213 271.5h1M204 268.5h1M207 265.5h1M210 268.5h1M213 265.5h1M204 262.5h1M207 259.5h1M210 262.5h1M213 259.5h1M204 256.5h1M207 253.5h1M210 256.5h1M213 253.5h1M204 250.5h1M207 247.5h1M210 250.5h1M213 247.5h1M204 244.5h1M207 241.5h1M210 244.5h1M213 241.5h1M204 238.5h1M207 234.5h1M210 238.5h1M213 234.5h1M204 231.5h1M207 228.5h1M210 231.5h1M213 228.5h1M204 225.5h1M207 222.5h1M210 225.5h1M213 222.5h1M204 219.5h1M207 216.5h1M210 219.5h1M213 216.5h1M204 213.5h1M207 210.5h1M210 213.5h1M213 210.5h1M204 207.5h1M207 204.5h1M210 207.5h1M213 204.5h1M204 201.5h1M207 197.5h1M210 201.5h1M213 197.5h1M204 194.5h1M207 191.5h1M210 194.5h1M213 191.5h1M204 188.5h1M207 185.5h1M210 188.5h1M213 185.5h1M204 182.5h1M207 179.5h1M210 182.5h1M213 179.5h1M204 176.5h1M207 173.5h1M210 176.5h1M213 173.5h1M204 170.5h1M207 167.5h1M210 170.5h1M213 167.5h1M204 164.5h1M207 161.5h1M210 164.5h1M213 161.5h1M204 157.5h1M207 154.5h1M210 157.5h1M213 154.5h1M204 151.5h1M207 148.5h1M210 151.5h1M213 148.5h1M204 145.5h1M207 142.5h1M210 145.5h1M213 142.5h1M204 139.5h1M207 136.5h1M210 139.5h1M213 136.5h1" stroke="#808080" stroke-width="1" fill="none"/></g>
<rect x="203.85" y="145.30" width="12.00" height="173.00" fill="none" stroke="#2e2e2e" stroke-width="1.05"/>
<path d="M209.85 137.40V170.60M208.25 137.40H211.45M208.25 170.60H211.45" stroke="#5c5c5c" stroke-width="1" fill="none"/>
<clipPath id="c8"><rect x="219.65" y="92.70" width="12.90" height="225.60"/></clipPath>
<rect x="219.65" y="92.70" width="12.90" height="225.60" fill="#fff"/>
<g clip-path="url(#c8)"><path d="M218.65 88.85L233.55 73.95M218.65 91.35L233.55 76.45M218.65 93.85L233.55 78.95M218.65 96.35L233.55 81.45M218.65 98.85L233.55 83.95M218.65 101.35L233.55 86.45M218.65 103.85L233.55 88.95M218.65 106.35L233.55 91.45M218.65 108.85L233.55 93.95M218.65 111.35L233.55 96.45M218.65 113.85L233.55 98.95M218.65 116.35L233.55 101.45M218.65 118.85L233.55 103.95M218.65 121.35L233.55 106.45M218.65 123.85L233.55 108.95M218.65 126.35L233.55 111.45M218.65 128.85L233.55 113.95M218.65 131.35L233.55 116.45M218.65 133.85L233.55 118.95M218.65 136.35L233.55 121.45M218.65 138.85L233.55 123.95M218.65 141.35L233.55 126.45M218.65 143.85L233.55 128.95M218.65 146.35L233.55 131.45M218.65 148.85L233.55 133.95M218.65 151.35L233.55 136.45M218.65 153.85L233.55 138.95M218.65 156.35L233.55 141.45M218.65 158.85L233.55 143.95M218.65 161.35L233.55 146.45M218.65 163.85L233.55 148.95M218.65 166.35L233.55 151.45M218.65 168.85L233.55 153.95M218.65 171.35L233.55 156.45M218.65 173.85L233.55 158.95M218.65 176.35L233.55 161.45M218.65 178.85L233.55 163.95M218.65 181.35L233.55 166.45M218.65 183.85L233.55 168.95M218.65 186.35L233.55 171.45M218.65 188.85L233.55 173.95M218.65 191.35L233.55 176.45M218.65 193.85L233.55 178.95M218.65 196.35L233.55 181.45M218.65 198.85L233.55 183.95M218.65 201.35L233.55 186.45M218.65 203.85L233.55 188.95M218.65 206.35L233.55 191.45M218.65 208.85L233.55 193.95M218.65 211.35L233.55 196.45M218.65 213.85L233.55 198.95M218.65 216.35L233.55 201.45M218.65 218.85L233.55 203.95M218.65 221.35L233.55 206.45M218.65 223.85L233.55 208.95M218.65 226.35L233.55 211.45M218.65 228.85L233.55 213.95M218.65 231.35L233.55 216.45M218.65 233.85L233.55 218.95M218.65 236.35L233.55 221.45M218.65 238.85L233.55 223.95M218.65 241.35L233.55 226.45M218.65 243.85L233.55 228.95M218.65 246.35L233.55 231.45M218.65 248.85L233.55 233.95M218.65 251.35L233.55 236.45M218.65 253.85L233.55 238.95M218.65 256.35L233.55 241.45M218.65 258.85L233.55 243.95M218.65 261.35L233.55 246.45M218.65 263.85L233.55 248.95M218.65 266.35L233.55 251.45M218.65 268.85L233.55 253.95M218.65 271.35L233.55 256.45M218.65 273.85L233.55 258.95M218.65 276.35L233.55 261.45M218.65 278.85L233.55 263.95M218.65 281.35L233.55 266.45M218.65 283.85L233.55 268.95M218.65 286.35L233.55 271.45M218.65 288.85L233.55 273.95M218.65 291.35L233.55 276.45M218.65 293.85L233.55 278.95M218.65 296.35L233.55 281.45M218.65 298.85L233.55 283.95M218.65 301.35L233.55 286.45M218.65 303.85L233.55 288.95M218.65 306.35L233.55 291.45M218.65 308.85L233.55 293.95M218.65 311.35L233.55 296.45M218.65 313.85L233.55 298.95M218.65 316.35L233.55 301.45M218.65 318.85L233.55 303.95M218.65 321.35L233.55 306.45M218.65 323.85L233.55 308.95M218.65 326.35L233.55 311.45M218.65 328.85L233.55 313.95M218.65 331.35L233.55 316.45M218.65 333.85L233.55 318.95M218.65 336.35L233.55 321.45" stroke="#2c2c2c" stroke-width="0.86" fill="none"/></g>
<rect x="219.65" y="92.70" width="12.90" height="225.60" fill="none" stroke="#2e2e2e" stroke-width="1.05"/>
<path d="M226.10 89.20V103.70M224.50 89.20H227.70M224.50 103.70H227.70" stroke="#5c5c5c" stroke-width="1" fill="none"/>
<clipPath id="c9"><rect x="235.65" y="142.00" width="12.50" height="176.30"/></clipPath>
<rect x="235.65" y="142.00" width="12.50" height="176.30" fill="#fff"/>
<g clip-path="url(#c9)"><path d="M234.65 137.95L249.15 123.45M234.65 142.55L249.15 128.05M234.65 147.15L249.15 132.65M234.65 151.75L249.15 137.25M234.65 156.35L249.15 141.85M234.65 160.95L249.15 146.45M234.65 165.55L249.15 151.05M234.65 170.15L249.15 155.65M234.65 174.75L249.15 160.25M234.65 179.35L249.15 164.85M234.65 183.95L249.15 169.45M234.65 188.55L249.15 174.05M234.65 193.15L249.15 178.65M234.65 197.75L249.15 183.25M234.65 202.35L249.15 187.85M234.65 206.95L249.15 192.45M234.65 211.55L249.15 197.05M234.65 216.15L249.15 201.65M234.65 220.75L249.15 206.25M234.65 225.35L249.15 210.85M234.65 229.95L249.15 215.45M234.65 234.55L249.15 220.05M234.65 239.15L249.15 224.65M234.65 243.75L249.15 229.25M234.65 248.35L249.15 233.85M234.65 252.95L249.15 238.45M234.65 257.55L249.15 243.05M234.65 262.15L249.15 247.65M234.65 266.75L249.15 252.25M234.65 271.35L249.15 256.85M234.65 275.95L249.15 261.45M234.65 280.55L249.15 266.05M234.65 285.15L249.15 270.65M234.65 289.75L249.15 275.25M234.65 294.35L249.15 279.85M234.65 298.95L249.15 284.45M234.65 303.55L249.15 289.05M234.65 308.15L249.15 293.65M234.65 312.75L249.15 298.25M234.65 317.35L249.15 302.85M234.65 321.95L249.15 307.45M234.65 326.55L249.15 312.05M234.65 331.15L249.15 316.65M234.65 335.75L249.15 321.25M234.65 340.35L249.15 325.85M232.30 135.70l2.30 2.30M232.30 140.30l2.30 2.30M232.30 144.90l2.30 2.30M232.30 149.50l2.30 2.30M232.30 154.10l2.30 2.30M232.30 158.70l2.30 2.30M232.30 163.30l2.30 2.30M232.30 167.90l2.30 2.30M232.30 172.50l2.30 2.30M232.30 177.10l2.30 2.30M232.30 181.70l2.30 2.30M232.30 186.30l2.30 2.30M232.30 190.90l2.30 2.30M232.30 195.50l2.30 2.30M232.30 200.10l2.30 2.30M232.30 204.70l2.30 2.30M232.30 209.30l2.30 2.30M232.30 213.90l2.30 2.30M232.30 218.50l2.30 2.30M232.30 223.10l2.30 2.30M232.30 227.70l2.30 2.30M232.30 232.30l2.30 2.30M232.30 236.90l2.30 2.30M232.30 241.50l2.30 2.30M232.30 246.10l2.30 2.30M232.30 250.70l2.30 2.30M232.30 255.30l2.30 2.30M232.30 259.90l2.30 2.30M232.30 264.50l2.30 2.30M232.30 269.10l2.30 2.30M232.30 273.70l2.30 2.30M232.30 278.30l2.30 2.30M232.30 282.90l2.30 2.30M232.30 287.50l2.30 2.30M232.30 292.10l2.30 2.30M232.30 296.70l2.30 2.30M232.30 301.30l2.30 2.30M232.30 305.90l2.30 2.30M232.30 310.50l2.30 2.30M232.30 315.10l2.30 2.30M232.30 319.70l2.30 2.30M232.30 324.30l2.30 2.30M232.30 328.90l2.30 2.30M236.90 135.70l2.30 2.30M236.90 140.30l2.30 2.30M236.90 144.90l2.30 2.30M236.90 149.50l2.30 2.30M236.90 154.10l2.30 2.30M236.90 158.70l2.30 2.30M236.90 163.30l2.30 2.30M236.90 167.90l2.30 2.30M236.90 172.50l2.30 2.30M236.90 177.10l2.30 2.30M236.90 181.70l2.30 2.30M236.90 186.30l2.30 2.30M236.90 190.90l2.30 2.30M236.90 195.50l2.30 2.30M236.90 200.10l2.30 2.30M236.90 204.70l2.30 2.30M236.90 209.30l2.30 2.30M236.90 213.90l2.30 2.30M236.90 218.50l2.30 2.30M236.90 223.10l2.30 2.30M236.90 227.70l2.30 2.30M236.90 232.30l2.30 2.30M236.90 236.90l2.30 2.30M236.90 241.50l2.30 2.30M236.90 246.10l2.30 2.30M236.90 250.70l2.30 2.30M236.90 255.30l2.30 2.30M236.90 259.90l2.30 2.30M236.90 264.50l2.30 2.30M236.90 269.10l2.30 2.30M236.90 273.70l2.30 2.30M236.90 278.30l2.30 2.30M236.90 282.90l2.30 2.30M236.90 287.50l2.30 2.30M236.90 292.10l2.30 2.30M236.90 296.70l2.30 2.30M236.90 301.30l2.30 2.30M236.90 305.90l2.30 2.30M236.90 310.50l2.30 2.30M236.90 315.10l2.30 2.30M236.90 319.70l2.30 2.30M236.90 324.30l2.30 2.30M236.90 328.90l2.30 2.30M241.50 135.70l2.30 2.30M241.50 140.30l2.30 2.30M241.50 144.90l2.30 2.30M241.50 149.50l2.30 2.30M241.50 154.10l2.30 2.30M241.50 158.70l2.30 2.30M241.50 163.30l2.30 2.30M241.50 167.90l2.30 2.30M241.50 172.50l2.30 2.30M241.50 177.10l2.30 2.30M241.50 181.70l2.30 2.30M241.50 186.30l2.30 2.30M241.50 190.90l2.30 2.30M241.50 195.50l2.30 2.30M241.50 200.10l2.30 2.30M241.50 204.70l2.30 2.30M241.50 209.30l2.30 2.30M241.50 213.90l2.30 2.30M241.50 218.50l2.30 2.30M241.50 223.10l2.30 2.30M241.50 227.70l2.30 2.30M241.50 232.30l2.30 2.30M241.50 236.90l2.30 2.30M241.50 241.50l2.30 2.30M241.50 246.10l2.30 2.30M241.50 250.70l2.30 2.30M241.50 255.30l2.30 2.30M241.50 259.90l2.30 2.30M241.50 264.50l2.30 2.30M241.50 269.10l2.30 2.30M241.50 273.70l2.30 2.30M241.50 278.30l2.30 2.30M241.50 282.90l2.30 2.30M241.50 287.50l2.30 2.30M241.50 292.10l2.30 2.30M241.50 296.70l2.30 2.30M241.50 301.30l2.30 2.30M241.50 305.90l2.30 2.30M241.50 310.50l2.30 2.30M241.50 315.10l2.30 2.30M241.50 319.70l2.30 2.30M241.50 324.30l2.30 2.30M241.50 328.90l2.30 2.30M246.10 135.70l2.30 2.30M246.10 140.30l2.30 2.30M246.10 144.90l2.30 2.30M246.10 149.50l2.30 2.30M246.10 154.10l2.30 2.30M246.10 158.70l2.30 2.30M246.10 163.30l2.30 2.30M246.10 167.90l2.30 2.30M246.10 172.50l2.30 2.30M246.10 177.10l2.30 2.30M246.10 181.70l2.30 2.30M246.10 186.30l2.30 2.30M246.10 190.90l2.30 2.30M246.10 195.50l2.30 2.30M246.10 200.10l2.30 2.30M246.10 204.70l2.30 2.30M246.10 209.30l2.30 2.30M246.10 213.90l2.30 2.30M246.10 218.50l2.30 2.30M246.10 223.10l2.30 2.30M246.10 227.70l2.30 2.30M246.10 232.30l2.30 2.30M246.10 236.90l2.30 2.30M246.10 241.50l2.30 2.30M246.10 246.10l2.30 2.30M246.10 250.70l2.30 2.30M246.10 255.30l2.30 2.30M246.10 259.90l2.30 2.30M246.10 264.50l2.30 2.30M246.10 269.10l2.30 2.30M246.10 273.70l2.30 2.30M246.10 278.30l2.30 2.30M246.10 282.90l2.30 2.30M246.10 287.50l2.30 2.30M246.10 292.10l2.30 2.30M246.10 296.70l2.30 2.30M246.10 301.30l2.30 2.30M246.10 305.90l2.30 2.30M246.10 310.50l2.30 2.30M246.10 315.10l2.30 2.30M246.10 319.70l2.30 2.30M246.10 324.30l2.30 2.30M246.10 328.90l2.30 2.30M250.70 135.70l2.30 2.30M250.70 140.30l2.30 2.30M250.70 144.90l2.30 2.30M250.70 149.50l2.30 2.30M250.70 154.10l2.30 2.30M250.70 158.70l2.30 2.30M250.70 163.30l2.30 2.30M250.70 167.90l2.30 2.30M250.70 172.50l2.30 2.30M250.70 177.10l2.30 2.30M250.70 181.70l2.30 2.30M250.70 186.30l2.30 2.30M250.70 190.90l2.30 2.30M250.70 195.50l2.30 2.30M250.70 200.10l2.30 2.30M250.70 204.70l2.30 2.30M250.70 209.30l2.30 2.30M250.70 213.90l2.30 2.30M250.70 218.50l2.30 2.30M250.70 223.10l2.30 2.30M250.70 227.70l2.30 2.30M250.70 232.30l2.30 2.30M250.70 236.90l2.30 2.30M250.70 241.50l2.30 2.30M250.70 246.10l2.30 2.30M250.70 250.70l2.30 2.30M250.70 255.30l2.30 2.30M250.70 259.90l2.30 2.30M250.70 264.50l2.30 2.30M250.70 269.10l2.30 2.30M250.70 273.70l2.30 2.30M250.70 278.30l2.30 2.30M250.70 282.90l2.30 2.30M250.70 287.50l2.30 2.30M250.70 292.10l2.30 2.30M250.70 296.70l2.30 2.30M250.70 301.30l2.30 2.30M250.70 305.90l2.30 2.30M250.70 310.50l2.30 2.30M250.70 315.10l2.30 2.30M250.70 319.70l2.30 2.30M250.70 324.30l2.30 2.30M250.70 328.90l2.30 2.30M255.30 135.70l2.30 2.30M255.30 140.30l2.30 2.30M255.30 144.90l2.30 2.30M255.30 149.50l2.30 2.30M255.30 154.10l2.30 2.30M255.30 158.70l2.30 2.30M255.30 163.30l2.30 2.30M255.30 167.90l2.30 2.30M255.30 172.50l2.30 2.30M255.30 177.10l2.30 2.30M255.30 181.70l2.30 2.30M255.30 186.30l2.30 2.30M255.30 190.90l2.30 2.30M255.30 195.50l2.30 2.30M255.30 200.10l2.30 2.30M255.30 204.70l2.30 2.30M255.30 209.30l2.30 2.30M255.30 213.90l2.30 2.30M255.30 218.50l2.30 2.30M255.30 223.10l2.30 2.30M255.30 227.70l2.30 2.30M255.30 232.30l2.30 2.30M255.30 236.90l2.30 2.30M255.30 241.50l2.30 2.30M255.30 246.10l2.30 2.30M255.30 250.70l2.30 2.30M255.30 255.30l2.30 2.30M255.30 259.90l2.30 2.30M255.30 264.50l2.30 2.30M255.30 269.10l2.30 2.30M255.30 273.70l2.30 2.30M255.30 278.30l2.30 2.30M255.30 282.90l2.30 2.30M255.30 287.50l2.30 2.30M255.30 292.10l2.30 2.30M255.30 296.70l2.30 2.30M255.30 301.30l2.30 2.30M255.30 305.90l2.30 2.30M255.30 310.50l2.30 2.30M255.30 315.10l2.30 2.30M255.30 319.70l2.30 2.30M255.30 324.30l2.30 2.30M255.30 328.90l2.30 2.30" stroke="#404040" stroke-width="0.95" fill="none"/></g>
<rect x="235.65" y="142.00" width="12.50" height="176.30" fill="none" stroke="#2e2e2e" stroke-width="1.05"/>
<path d="M241.90 139.90V149.00M240.30 139.90H243.50M240.30 149.00H243.50" stroke="#5c5c5c" stroke-width="1" fill="none"/>
<path d="M45.6 69.45V322.30M42.30 318.3H261.7" stroke="#2b2b2b" stroke-width="1.1" fill="none"/>
<line x1="42.30" y1="318.30" x2="45.6" y2="318.30" stroke="#2b2b2b" stroke-width="1"/>
<text x="40.00" y="321.20" text-anchor="end" font-size="8">0</text>
<line x1="42.30" y1="290.65" x2="45.6" y2="290.65" stroke="#2b2b2b" stroke-width="1"/>
<text x="40.00" y="293.55" text-anchor="end" font-size="8">20</text>
<line x1="42.30" y1="263.00" x2="45.6" y2="263.00" stroke="#2b2b2b" stroke-width="1"/>
<text x="40.00" y="265.90" text-anchor="end" font-size="8">40</text>
<line x1="42.30" y1="235.35" x2="45.6" y2="235.35" stroke="#2b2b2b" stroke-width="1"/>
<text x="40.00" y="238.25" text-anchor="end" font-size="8">60</text>
<line x1="42.30" y1="207.70" x2="45.6" y2="207.70" stroke="#2b2b2b" stroke-width="1"/>
<text x="40.00" y="210.60" text-anchor="end" font-size="8">80</text>
<line x1="42.30" y1="180.05" x2="45.6" y2="180.05" stroke="#2b2b2b" stroke-width="1"/>
<text x="40.00" y="182.95" text-anchor="end" font-size="8">100</text>
<line x1="42.30" y1="152.40" x2="45.6" y2="152.40" stroke="#2b2b2b" stroke-width="1"/>
<text x="40.00" y="155.30" text-anchor="end" font-size="8">120</text>
<line x1="42.30" y1="124.75" x2="45.6" y2="124.75" stroke="#2b2b2b" stroke-width="1"/>
<text x="40.00" y="127.65" text-anchor="end" font-size="8">140</text>
<line x1="42.30" y1="97.10" x2="45.6" y2="97.10" stroke="#2b2b2b" stroke-width="1"/>
<text x="40.00" y="100.00" text-anchor="end" font-size="8">160</text>
<line x1="42.30" y1="69.45" x2="45.6" y2="69.45" stroke="#2b2b2b" stroke-width="1"/>
<text x="40.00" y="72.35" text-anchor="end" font-size="8">180</text>
<line x1="117.63" y1="318.3" x2="117.63" y2="322.30" stroke="#2b2b2b" stroke-width="1"/>
<line x1="189.67" y1="318.3" x2="189.67" y2="322.30" stroke="#2b2b2b" stroke-width="1"/>
<line x1="261.70" y1="318.3" x2="261.70" y2="322.30" stroke="#2b2b2b" stroke-width="1"/>
<line x1="81.62" y1="318.3" x2="81.62" y2="321.00" stroke="#2b2b2b" stroke-width="1"/>
<line x1="153.65" y1="318.3" x2="153.65" y2="321.00" stroke="#2b2b2b" stroke-width="1"/>
<line x1="225.68" y1="318.3" x2="225.68" y2="321.00" stroke="#2b2b2b" stroke-width="1"/>
<text x="81.32" y="335.10" text-anchor="middle" font-size="10.9">SBP-0W</text>
<text x="153.35" y="335.10" text-anchor="middle" font-size="10.9">SBP-2W</text>
<text x="225.38" y="335.10" text-anchor="middle" font-size="10.9">SBP-4W</text>
<text transform="translate(17.8 199.1) rotate(-90)" text-anchor="middle" font-size="10.7">SBP mm Hg</text>
<text x="82.30" y="87.80" text-anchor="middle" font-size="7" font-weight="bold" letter-spacing="2.1">**</text>
<text x="154.80" y="84.90" text-anchor="middle" font-size="7" font-weight="bold" letter-spacing="2.1">**</text>
<text x="226.20" y="84.70" text-anchor="middle" font-size="7" font-weight="bold" letter-spacing="2.1">**</text>
<text x="169.60" y="137.60" text-anchor="middle" font-size="8" font-weight="bold">##</text>
<text x="241.70" y="135.50" text-anchor="middle" font-size="8" font-weight="bold">##</text>
<rect x="271.70" y="79.00" width="5.4" height="5.4" fill="#fff"/>
<rect x="271.70" y="79.00" width="5.4" height="5.4" fill="none" stroke="#222" stroke-width="1.1"/>
<text x="279.30" y="83.90" font-size="8">SHAM</text>
<rect x="271.70" y="102.90" width="5.4" height="5.4" fill="#787878"/><path d="M272.50 107.50L276.30 103.70" stroke="#e8e8e8" stroke-width="1.1"/>
<rect x="271.70" y="102.90" width="5.4" height="5.4" fill="none" stroke="#222" stroke-width="1.1"/>
<text x="279.30" y="107.80" font-size="8">2K1C</text>
<rect x="271.70" y="126.50" width="5.4" height="5.4" fill="#fff"/><path d="M272.50 129.90L275.10 127.30M274.30 129.10L276.30 131.10" stroke="#666" stroke-width="0.9"/>
<rect x="271.70" y="126.50" width="5.4" height="5.4" fill="none" stroke="#222" stroke-width="1.1"/>
<text x="279.30" y="131.40" font-size="8">2K1C-Sinapine</text>
<text transform="translate(0.9 16.05) scale(1.0 1)" font-size="20.8" font-weight="bold" class="pl">A</text>
<line x1="401.0" y1="275.50" x2="613.7" y2="275.50" stroke="#d8d8d8" stroke-width="1"/>
<line x1="401.0" y1="235.50" x2="613.7" y2="235.50" stroke="#d8d8d8" stroke-width="1"/>
<line x1="401.0" y1="195.50" x2="613.7" y2="195.50" stroke="#d8d8d8" stroke-width="1"/>
<line x1="401.0" y1="155.50" x2="613.7" y2="155.50" stroke="#d8d8d8" stroke-width="1"/>
<line x1="401.0" y1="114.50" x2="613.7" y2="114.50" stroke="#d8d8d8" stroke-width="1"/>
<line x1="401.0" y1="74.50" x2="613.7" y2="74.50" stroke="#d8d8d8" stroke-width="1"/>
<clipPath id="c10"><rect x="414.65" y="131.20" width="12.10" height="185.10"/></clipPath>
<rect x="414.65" y="131.20" width="12.10" height="185.10" fill="#fff"/>
<g clip-path="url(#c10)"><path d="M414 316.5h1M418 313.5h1M421 316.5h1M424 313.5h1M414 309.5h1M418 306.5h1M421 309.5h1M424 306.5h1M414 303.5h1M418 300.5h1M421 303.5h1M424 300.5h1M414 297.5h1M418 294.5h1M421 297.5h1M424 294.5h1M414 291.5h1M418 288.5h1M421 291.5h1M424 288.5h1M414 285.5h1M418 282.5h1M421 285.5h1M424 282.5h1M414 279.5h1M418 276.5h1M421 279.5h1M424 276.5h1M414 272.5h1M418 269.5h1M421 272.5h1M424 269.5h1M414 266.5h1M418 263.5h1M421 266.5h1M424 263.5h1M414 260.5h1M418 257.5h1M421 260.5h1M424 257.5h1M414 254.5h1M418 251.5h1M421 254.5h1M424 251.5h1M414 248.5h1M418 245.5h1M421 248.5h1M424 245.5h1M414 242.5h1M418 239.5h1M421 242.5h1M424 239.5h1M414 236.5h1M418 232.5h1M421 236.5h1M424 232.5h1M414 229.5h1M418 226.5h1M421 229.5h1M424 226.5h1M414 223.5h1M418 220.5h1M421 223.5h1M424 220.5h1M414 217.5h1M418 214.5h1M421 217.5h1M424 214.5h1M414 211.5h1M418 208.5h1M421 211.5h1M424 208.5h1M414 205.5h1M418 202.5h1M421 205.5h1M424 202.5h1M414 199.5h1M418 195.5h1M421 199.5h1M424 195.5h1M414 192.5h1M418 189.5h1M421 192.5h1M424 189.5h1M414 186.5h1M418 183.5h1M421 186.5h1M424 183.5h1M414 180.5h1M418 177.5h1M421 180.5h1M424 177.5h1M414 174.5h1M418 171.5h1M421 174.5h1M424 171.5h1M414 168.5h1M418 165.5h1M421 168.5h1M424 165.5h1M414 162.5h1M418 159.5h1M421 162.5h1M424 159.5h1M414 155.5h1M418 152.5h1M421 155.5h1M424 152.5h1M414 149.5h1M418 146.5h1M421 149.5h1M424 146.5h1M414 143.5h1M418 140.5h1M421 143.5h1M424 140.5h1M414 137.5h1M418 134.5h1M421 137.5h1M424 134.5h1M414 131.5h1M418 128.5h1M421 131.5h1M424 128.5h1M414 125.5h1M418 122.5h1M421 125.5h1M424 122.5h1" stroke="#808080" stroke-width="1" fill="none"/></g>
<rect x="414.65" y="131.20" width="12.10" height="185.10" fill="none" stroke="#2e2e2e" stroke-width="1.05"/>
<path d="M420.70 128.20V134.60M419.10 128.20H422.30M419.10 134.60H422.30" stroke="#5c5c5c" stroke-width="1" fill="none"/>
<clipPath id="c11"><rect x="430.75" y="93.60" width="11.80" height="222.70"/></clipPath>
<rect x="430.75" y="93.60" width="11.80" height="222.70" fill="#fff"/>
<g clip-path="url(#c11)"><path d="M429.75 90.25L443.55 76.45M429.75 92.75L443.55 78.95M429.75 95.25L443.55 81.45M429.75 97.75L443.55 83.95M429.75 100.25L443.55 86.45M429.75 102.75L443.55 88.95M429.75 105.25L443.55 91.45M429.75 107.75L443.55 93.95M429.75 110.25L443.55 96.45M429.75 112.75L443.55 98.95M429.75 115.25L443.55 101.45M429.75 117.75L443.55 103.95M429.75 120.25L443.55 106.45M429.75 122.75L443.55 108.95M429.75 125.25L443.55 111.45M429.75 127.75L443.55 113.95M429.75 130.25L443.55 116.45M429.75 132.75L443.55 118.95M429.75 135.25L443.55 121.45M429.75 137.75L443.55 123.95M429.75 140.25L443.55 126.45M429.75 142.75L443.55 128.95M429.75 145.25L443.55 131.45M429.75 147.75L443.55 133.95M429.75 150.25L443.55 136.45M429.75 152.75L443.55 138.95M429.75 155.25L443.55 141.45M429.75 157.75L443.55 143.95M429.75 160.25L443.55 146.45M429.75 162.75L443.55 148.95M429.75 165.25L443.55 151.45M429.75 167.75L443.55 153.95M429.75 170.25L443.55 156.45M429.75 172.75L443.55 158.95M429.75 175.25L443.55 161.45M429.75 177.75L443.55 163.95M429.75 180.25L443.55 166.45M429.75 182.75L443.55 168.95M429.75 185.25L443.55 171.45M429.75 187.75L443.55 173.95M429.75 190.25L443.55 176.45M429.75 192.75L443.55 178.95M429.75 195.25L443.55 181.45M429.75 197.75L443.55 183.95M429.75 200.25L443.55 186.45M429.75 202.75L443.55 188.95M429.75 205.25L443.55 191.45M429.75 207.75L443.55 193.95M429.75 210.25L443.55 196.45M429.75 212.75L443.55 198.95M429.75 215.25L443.55 201.45M429.75 217.75L443.55 203.95M429.75 220.25L443.55 206.45M429.75 222.75L443.55 208.95M429.75 225.25L443.55 211.45M429.75 227.75L443.55 213.95M429.75 230.25L443.55 216.45M429.75 232.75L443.55 218.95M429.75 235.25L443.55 221.45M429.75 237.75L443.55 223.95M429.75 240.25L443.55 226.45M429.75 242.75L443.55 228.95M429.75 245.25L443.55 231.45M429.75 247.75L443.55 233.95M429.75 250.25L443.55 236.45M429.75 252.75L443.55 238.95M429.75 255.25L443.55 241.45M429.75 257.75L443.55 243.95M429.75 260.25L443.55 246.45M429.75 262.75L443.55 248.95M429.75 265.25L443.55 251.45M429.75 267.75L443.55 253.95M429.75 270.25L443.55 256.45M429.75 272.75L443.55 258.95M429.75 275.25L443.55 261.45M429.75 277.75L443.55 263.95M429.75 280.25L443.55 266.45M429.75 282.75L443.55 268.95M429.75 285.25L443.55 271.45M429.75 287.75L443.55 273.95M429.75 290.25L443.55 276.45M429.75 292.75L443.55 278.95M429.75 295.25L443.55 281.45M429.75 297.75L443.55 283.95M429.75 300.25L443.55 286.45M429.75 302.75L443.55 288.95M429.75 305.25L443.55 291.45M429.75 307.75L443.55 293.95M429.75 310.25L443.55 296.45M429.75 312.75L443.55 298.95M429.75 315.25L443.55 301.45M429.75 317.75L443.55 303.95M429.75 320.25L443.55 306.45M429.75 322.75L443.55 308.95M429.75 325.25L443.55 311.45M429.75 327.75L443.55 313.95M429.75 330.25L443.55 316.45M429.75 332.75L443.55 318.95" stroke="#2c2c2c" stroke-width="0.86" fill="none"/></g>
<rect x="430.75" y="93.60" width="11.80" height="222.70" fill="none" stroke="#2e2e2e" stroke-width="1.05"/>
<path d="M436.65 86.30V118.30M435.05 86.30H438.25M435.05 118.30H438.25" stroke="#5c5c5c" stroke-width="1" fill="none"/>
<clipPath id="c12"><rect x="445.75" y="85.40" width="12.70" height="230.90"/></clipPath>
<rect x="445.75" y="85.40" width="12.70" height="230.90" fill="#fff"/>
<g clip-path="url(#c12)"><path d="M444.75 79.65L459.45 64.95M444.75 84.25L459.45 69.55M444.75 88.85L459.45 74.15M444.75 93.45L459.45 78.75M444.75 98.05L459.45 83.35M444.75 102.65L459.45 87.95M444.75 107.25L459.45 92.55M444.75 111.85L459.45 97.15M444.75 116.45L459.45 101.75M444.75 121.05L459.45 106.35M444.75 125.65L459.45 110.95M444.75 130.25L459.45 115.55M444.75 134.85L459.45 120.15M444.75 139.45L459.45 124.75M444.75 144.05L459.45 129.35M444.75 148.65L459.45 133.95M444.75 153.25L459.45 138.55M444.75 157.85L459.45 143.15M444.75 162.45L459.45 147.75M444.75 167.05L459.45 152.35M444.75 171.65L459.45 156.95M444.75 176.25L459.45 161.55M444.75 180.85L459.45 166.15M444.75 185.45L459.45 170.75M444.75 190.05L459.45 175.35M444.75 194.65L459.45 179.95M444.75 199.25L459.45 184.55M444.75 203.85L459.45 189.15M444.75 208.45L459.45 193.75M444.75 213.05L459.45 198.35M444.75 217.65L459.45 202.95M444.75 222.25L459.45 207.55M444.75 226.85L459.45 212.15M444.75 231.45L459.45 216.75M444.75 236.05L459.45 221.35M444.75 240.65L459.45 225.95M444.75 245.25L459.45 230.55M444.75 249.85L459.45 235.15M444.75 254.45L459.45 239.75M444.75 259.05L459.45 244.35M444.75 263.65L459.45 248.95M444.75 268.25L459.45 253.55M444.75 272.85L459.45 258.15M444.75 277.45L459.45 262.75M444.75 282.05L459.45 267.35M444.75 286.65L459.45 271.95M444.75 291.25L459.45 276.55M444.75 295.85L459.45 281.15M444.75 300.45L459.45 285.75M444.75 305.05L459.45 290.35M444.75 309.65L459.45 294.95M444.75 314.25L459.45 299.55M444.75 318.85L459.45 304.15M444.75 323.45L459.45 308.75M444.75 328.05L459.45 313.35M444.75 332.65L459.45 317.95M444.75 337.25L459.45 322.55M439.30 80.50l2.30 2.30M439.30 85.10l2.30 2.30M439.30 89.70l2.30 2.30M439.30 94.30l2.30 2.30M439.30 98.90l2.30 2.30M439.30 103.50l2.30 2.30M439.30 108.10l2.30 2.30M439.30 112.70l2.30 2.30M439.30 117.30l2.30 2.30M439.30 121.90l2.30 2.30M439.30 126.50l2.30 2.30M439.30 131.10l2.30 2.30M439.30 135.70l2.30 2.30M439.30 140.30l2.30 2.30M439.30 144.90l2.30 2.30M439.30 149.50l2.30 2.30M439.30 154.10l2.30 2.30M439.30 158.70l2.30 2.30M439.30 163.30l2.30 2.30M439.30 167.90l2.30 2.30M439.30 172.50l2.30 2.30M439.30 177.10l2.30 2.30M439.30 181.70l2.30 2.30M439.30 186.30l2.30 2.30M439.30 190.90l2.30 2.30M439.30 195.50l2.30 2.30M439.30 200.10l2.30 2.30M439.30 204.70l2.30 2.30M439.30 209.30l2.30 2.30M439.30 213.90l2.30 2.30M439.30 218.50l2.30 2.30M439.30 223.10l2.30 2.30M439.30 227.70l2.30 2.30M439.30 232.30l2.30 2.30M439.30 236.90l2.30 2.30M439.30 241.50l2.30 2.30M439.30 246.10l2.30 2.30M439.30 250.70l2.30 2.30M439.30 255.30l2.30 2.30M439.30 259.90l2.30 2.30M439.30 264.50l2.30 2.30M439.30 269.10l2.30 2.30M439.30 273.70l2.30 2.30M439.30 278.30l2.30 2.30M439.30 282.90l2.30 2.30M439.30 287.50l2.30 2.30M439.30 292.10l2.30 2.30M439.30 296.70l2.30 2.30M439.30 301.30l2.30 2.30M439.30 305.90l2.30 2.30M439.30 310.50l2.30 2.30M439.30 315.10l2.30 2.30M439.30 319.70l2.30 2.30M439.30 324.30l2.30 2.30M443.90 80.50l2.30 2.30M443.90 85.10l2.30 2.30M443.90 89.70l2.30 2.30M443.90 94.30l2.30 2.30M443.90 98.90l2.30 2.30M443.90 103.50l2.30 2.30M443.90 108.10l2.30 2.30M443.90 112.70l2.30 2.30M443.90 117.30l2.30 2.30M443.90 121.90l2.30 2.30M443.90 126.50l2.30 2.30M443.90 131.10l2.30 2.30M443.90 135.70l2.30 2.30M443.90 140.30l2.30 2.30M443.90 144.90l2.30 2.30M443.90 149.50l2.30 2.30M443.90 154.10l2.30 2.30M443.90 158.70l2.30 2.30M443.90 163.30l2.30 2.30M443.90 167.90l2.30 2.30M443.90 172.50l2.30 2.30M443.90 177.10l2.30 2.30M443.90 181.70l2.30 2.30M443.90 186.30l2.30 2.30M443.90 190.90l2.30 2.30M443.90 195.50l2.30 2.30M443.90 200.10l2.30 2.30M443.90 204.70l2.30 2.30M443.90 209.30l2.30 2.30M443.90 213.90l2.30 2.30M443.90 218.50l2.30 2.30M443.90 223.10l2.30 2.30M443.90 227.70l2.30 2.30M443.90 232.30l2.30 2.30M443.90 236.90l2.30 2.30M443.90 241.50l2.30 2.30M443.90 246.10l2.30 2.30M443.90 250.70l2.30 2.30M443.90 255.30l2.30 2.30M443.90 259.90l2.30 2.30M443.90 264.50l2.30 2.30M443.90 269.10l2.30 2.30M443.90 273.70l2.30 2.30M443.90 278.30l2.30 2.30M443.90 282.90l2.30 2.30M443.90 287.50l2.30 2.30M443.90 292.10l2.30 2.30M443.90 296.70l2.30 2.30M443.90 301.30l2.30 2.30M443.90 305.90l2.30 2.30M443.90 310.50l2.30 2.30M443.90 315.10l2.30 2.30M443.90 319.70l2.30 2.30M443.90 324.30l2.30 2.30M448.50 80.50l2.30 2.30M448.50 85.10l2.30 2.30M448.50 89.70l2.30 2.30M448.50 94.30l2.30 2.30M448.50 98.90l2.30 2.30M448.50 103.50l2.30 2.30M448.50 108.10l2.30 2.30M448.50 112.70l2.30 2.30M448.50 117.30l2.30 2.30M448.50 121.90l2.30 2.30M448.50 126.50l2.30 2.30M448.50 131.10l2.30 2.30M448.50 135.70l2.30 2.30M448.50 140.30l2.30 2.30M448.50 144.90l2.30 2.30M448.50 149.50l2.30 2.30M448.50 154.10l2.30 2.30M448.50 158.70l2.30 2.30M448.50 163.30l2.30 2.30M448.50 167.90l2.30 2.30M448.50 172.50l2.30 2.30M448.50 177.10l2.30 2.30M448.50 181.70l2.30 2.30M448.50 186.30l2.30 2.30M448.50 190.90l2.30 2.30M448.50 195.50l2.30 2.30M448.50 200.10l2.30 2.30M448.50 204.70l2.30 2.30M448.50 209.30l2.30 2.30M448.50 213.90l2.30 2.30M448.50 218.50l2.30 2.30M448.50 223.10l2.30 2.30M448.50 227.70l2.30 2.30M448.50 232.30l2.30 2.30M448.50 236.90l2.30 2.30M448.50 241.50l2.30 2.30M448.50 246.10l2.30 2.30M448.50 250.70l2.30 2.30M448.50 255.30l2.30 2.30M448.50 259.90l2.30 2.30M448.50 264.50l2.30 2.30M448.50 269.10l2.30 2.30M448.50 273.70l2.30 2.30M448.50 278.30l2.30 2.30M448.50 282.90l2.30 2.30M448.50 287.50l2.30 2.30M448.50 292.10l2.30 2.30M448.50 296.70l2.30 2.30M448.50 301.30l2.30 2.30M448.50 305.90l2.30 2.30M448.50 310.50l2.30 2.30M448.50 315.10l2.30 2.30M448.50 319.70l2.30 2.30M448.50 324.30l2.30 2.30M453.10 80.50l2.30 2.30M453.10 85.10l2.30 2.30M453.10 89.70l2.30 2.30M453.10 94.30l2.30 2.30M453.10 98.90l2.30 2.30M453.10 103.50l2.30 2.30M453.10 108.10l2.30 2.30M453.10 112.70l2.30 2.30M453.10 117.30l2.30 2.30M453.10 121.90l2.30 2.30M453.10 126.50l2.30 2.30M453.10 131.10l2.30 2.30M453.10 135.70l2.30 2.30M453.10 140.30l2.30 2.30M453.10 144.90l2.30 2.30M453.10 149.50l2.30 2.30M453.10 154.10l2.30 2.30M453.10 158.70l2.30 2.30M453.10 163.30l2.30 2.30M453.10 167.90l2.30 2.30M453.10 172.50l2.30 2.30M453.10 177.10l2.30 2.30M453.10 181.70l2.30 2.30M453.10 186.30l2.30 2.30M453.10 190.90l2.30 2.30M453.10 195.50l2.30 2.30M453.10 200.10l2.30 2.30M453.10 204.70l2.30 2.30M453.10 209.30l2.30 2.30M453.10 213.90l2.30 2.30M453.10 218.50l2.30 2.30M453.10 223.10l2.30 2.30M453.10 227.70l2.30 2.30M453.10 232.30l2.30 2.30M453.10 236.90l2.30 2.30M453.10 241.50l2.30 2.30M453.10 246.10l2.30 2.30M453.10 250.70l2.30 2.30M453.10 255.30l2.30 2.30M453.10 259.90l2.30 2.30M453.10 264.50l2.30 2.30M453.10 269.10l2.30 2.30M453.10 273.70l2.30 2.30M453.10 278.30l2.30 2.30M453.10 282.90l2.30 2.30M453.10 287.50l2.30 2.30M453.10 292.10l2.30 2.30M453.10 296.70l2.30 2.30M453.10 301.30l2.30 2.30M453.10 305.90l2.30 2.30M453.10 310.50l2.30 2.30M453.10 315.10l2.30 2.30M453.10 319.70l2.30 2.30M453.10 324.30l2.30 2.30M457.70 80.50l2.30 2.30M457.70 85.10l2.30 2.30M457.70 89.70l2.30 2.30M457.70 94.30l2.30 2.30M457.70 98.90l2.30 2.30M457.70 103.50l2.30 2.30M457.70 108.10l2.30 2.30M457.70 112.70l2.30 2.30M457.70 117.30l2.30 2.30M457.70 121.90l2.30 2.30M457.70 126.50l2.30 2.30M457.70 131.10l2.30 2.30M457.70 135.70l2.30 2.30M457.70 140.30l2.30 2.30M457.70 144.90l2.30 2.30M457.70 149.50l2.30 2.30M457.70 154.10l2.30 2.30M457.70 158.70l2.30 2.30M457.70 163.30l2.30 2.30M457.70 167.90l2.30 2.30M457.70 172.50l2.30 2.30M457.70 177.10l2.30 2.30M457.70 181.70l2.30 2.30M457.70 186.30l2.30 2.30M457.70 190.90l2.30 2.30M457.70 195.50l2.30 2.30M457.70 200.10l2.30 2.30M457.70 204.70l2.30 2.30M457.70 209.30l2.30 2.30M457.70 213.90l2.30 2.30M457.70 218.50l2.30 2.30M457.70 223.10l2.30 2.30M457.70 227.70l2.30 2.30M457.70 232.30l2.30 2.30M457.70 236.90l2.30 2.30M457.70 241.50l2.30 2.30M457.70 246.10l2.30 2.30M457.70 250.70l2.30 2.30M457.70 255.30l2.30 2.30M457.70 259.90l2.30 2.30M457.70 264.50l2.30 2.30M457.70 269.10l2.30 2.30M457.70 273.70l2.30 2.30M457.70 278.30l2.30 2.30M457.70 282.90l2.30 2.30M457.70 287.50l2.30 2.30M457.70 292.10l2.30 2.30M457.70 296.70l2.30 2.30M457.70 301.30l2.30 2.30M457.70 305.90l2.30 2.30M457.70 310.50l2.30 2.30M457.70 315.10l2.30 2.30M457.70 319.70l2.30 2.30M457.70 324.30l2.30 2.30M462.30 80.50l2.30 2.30M462.30 85.10l2.30 2.30M462.30 89.70l2.30 2.30M462.30 94.30l2.30 2.30M462.30 98.90l2.30 2.30M462.30 103.50l2.30 2.30M462.30 108.10l2.30 2.30M462.30 112.70l2.30 2.30M462.30 117.30l2.30 2.30M462.30 121.90l2.30 2.30M462.30 126.50l2.30 2.30M462.30 131.10l2.30 2.30M462.30 135.70l2.30 2.30M462.30 140.30l2.30 2.30M462.30 144.90l2.30 2.30M462.30 149.50l2.30 2.30M462.30 154.10l2.30 2.30M462.30 158.70l2.30 2.30M462.30 163.30l2.30 2.30M462.30 167.90l2.30 2.30M462.30 172.50l2.30 2.30M462.30 177.10l2.30 2.30M462.30 181.70l2.30 2.30M462.30 186.30l2.30 2.30M462.30 190.90l2.30 2.30M462.30 195.50l2.30 2.30M462.30 200.10l2.30 2.30M462.30 204.70l2.30 2.30M462.30 209.30l2.30 2.30M462.30 213.90l2.30 2.30M462.30 218.50l2.30 2.30M462.30 223.10l2.30 2.30M462.30 227.70l2.30 2.30M462.30 232.30l2.30 2.30M462.30 236.90l2.30 2.30M462.30 241.50l2.30 2.30M462.30 246.10l2.30 2.30M462.30 250.70l2.30 2.30M462.30 255.30l2.30 2.30M462.30 259.90l2.30 2.30M462.30 264.50l2.30 2.30M462.30 269.10l2.30 2.30M462.30 273.70l2.30 2.30M462.30 278.30l2.30 2.30M462.30 282.90l2.30 2.30M462.30 287.50l2.30 2.30M462.30 292.10l2.30 2.30M462.30 296.70l2.30 2.30M462.30 301.30l2.30 2.30M462.30 305.90l2.30 2.30M462.30 310.50l2.30 2.30M462.30 315.10l2.30 2.30M462.30 319.70l2.30 2.30M462.30 324.30l2.30 2.30M466.90 80.50l2.30 2.30M466.90 85.10l2.30 2.30M466.90 89.70l2.30 2.30M466.90 94.30l2.30 2.30M466.90 98.90l2.30 2.30M466.90 103.50l2.30 2.30M466.90 108.10l2.30 2.30M466.90 112.70l2.30 2.30M466.90 117.30l2.30 2.30M466.90 121.90l2.30 2.30M466.90 126.50l2.30 2.30M466.90 131.10l2.30 2.30M466.90 135.70l2.30 2.30M466.90 140.30l2.30 2.30M466.90 144.90l2.30 2.30M466.90 149.50l2.30 2.30M466.90 154.10l2.30 2.30M466.90 158.70l2.30 2.30M466.90 163.30l2.30 2.30M466.90 167.90l2.30 2.30M466.90 172.50l2.30 2.30M466.90 177.10l2.30 2.30M466.90 181.70l2.30 2.30M466.90 186.30l2.30 2.30M466.90 190.90l2.30 2.30M466.90 195.50l2.30 2.30M466.90 200.10l2.30 2.30M466.90 204.70l2.30 2.30M466.90 209.30l2.30 2.30M466.90 213.90l2.30 2.30M466.90 218.50l2.30 2.30M466.90 223.10l2.30 2.30M466.90 227.70l2.30 2.30M466.90 232.30l2.30 2.30M466.90 236.90l2.30 2.30M466.90 241.50l2.30 2.30M466.90 246.10l2.30 2.30M466.90 250.70l2.30 2.30M466.90 255.30l2.30 2.30M466.90 259.90l2.30 2.30M466.90 264.50l2.30 2.30M466.90 269.10l2.30 2.30M466.90 273.70l2.30 2.30M466.90 278.30l2.30 2.30M466.90 282.90l2.30 2.30M466.90 287.50l2.30 2.30M466.90 292.10l2.30 2.30M466.90 296.70l2.30 2.30M466.90 301.30l2.30 2.30M466.90 305.90l2.30 2.30M466.90 310.50l2.30 2.30M466.90 315.10l2.30 2.30M466.90 319.70l2.30 2.30M466.90 324.30l2.30 2.30" stroke="#404040" stroke-width="0.95" fill="none"/></g>
<rect x="445.75" y="85.40" width="12.70" height="230.90" fill="none" stroke="#2e2e2e" stroke-width="1.05"/>
<path d="M452.10 81.40V90.00M450.50 81.40H453.70M450.50 90.00H453.70" stroke="#5c5c5c" stroke-width="1" fill="none"/>
<clipPath id="c13"><rect x="485.75" y="148.10" width="11.70" height="168.20"/></clipPath>
<rect x="485.75" y="148.10" width="11.70" height="168.20" fill="#fff"/>
<g clip-path="url(#c13)"><path d="M485 316.5h1M489 313.5h1M492 316.5h1M495 313.5h1M485 309.5h1M489 306.5h1M492 309.5h1M495 306.5h1M485 303.5h1M489 300.5h1M492 303.5h1M495 300.5h1M485 297.5h1M489 294.5h1M492 297.5h1M495 294.5h1M485 291.5h1M489 288.5h1M492 291.5h1M495 288.5h1M485 285.5h1M489 282.5h1M492 285.5h1M495 282.5h1M485 279.5h1M489 276.5h1M492 279.5h1M495 276.5h1M485 272.5h1M489 269.5h1M492 272.5h1M495 269.5h1M485 266.5h1M489 263.5h1M492 266.5h1M495 263.5h1M485 260.5h1M489 257.5h1M492 260.5h1M495 257.5h1M485 254.5h1M489 251.5h1M492 254.5h1M495 251.5h1M485 248.5h1M489 245.5h1M492 248.5h1M495 245.5h1M485 242.5h1M489 239.5h1M492 242.5h1M495 239.5h1M485 236.5h1M489 232.5h1M492 236.5h1M495 232.5h1M485 229.5h1M489 226.5h1M492 229.5h1M495 226.5h1M485 223.5h1M489 220.5h1M492 223.5h1M495 220.5h1M485 217.5h1M489 214.5h1M492 217.5h1M495 214.5h1M485 211.5h1M489 208.5h1M492 211.5h1M495 208.5h1M485 205.5h1M489 202.5h1M492 205.5h1M495 202.5h1M485 199.5h1M489 195.5h1M492 199.5h1M495 195.5h1M485 192.5h1M489 189.5h1M492 192.5h1M495 189.5h1M485 186.5h1M489 183.5h1M492 186.5h1M495 183.5h1M485 180.5h1M489 177.5h1M492 180.5h1M495 177.5h1M485 174.5h1M489 171.5h1M492 174.5h1M495 171.5h1M485 168.5h1M489 165.5h1M492 168.5h1M495 165.5h1M485 162.5h1M489 159.5h1M492 162.5h1M495 159.5h1M485 155.5h1M489 152.5h1M492 155.5h1M495 152.5h1M485 149.5h1M489 146.5h1M492 149.5h1M495 146.5h1M485 143.5h1M489 140.5h1M492 143.5h1M495 140.5h1" stroke="#808080" stroke-width="1" fill="none"/></g>
<rect x="485.75" y="148.10" width="11.70" height="168.20" fill="none" stroke="#2e2e2e" stroke-width="1.05"/>
<path d="M491.60 143.50V162.20M490.00 143.50H493.20M490.00 162.20H493.20" stroke="#5c5c5c" stroke-width="1" fill="none"/>
<clipPath id="c14"><rect x="501.65" y="89.50" width="11.80" height="226.80"/></clipPath>
<rect x="501.65" y="89.50" width="11.80" height="226.80" fill="#fff"/>
<g clip-path="url(#c14)"><path d="M500.65 86.85L514.45 73.05M500.65 89.35L514.45 75.55M500.65 91.85L514.45 78.05M500.65 94.35L514.45 80.55M500.65 96.85L514.45 83.05M500.65 99.35L514.45 85.55M500.65 101.85L514.45 88.05M500.65 104.35L514.45 90.55M500.65 106.85L514.45 93.05M500.65 109.35L514.45 95.55M500.65 111.85L514.45 98.05M500.65 114.35L514.45 100.55M500.65 116.85L514.45 103.05M500.65 119.35L514.45 105.55M500.65 121.85L514.45 108.05M500.65 124.35L514.45 110.55M500.65 126.85L514.45 113.05M500.65 129.35L514.45 115.55M500.65 131.85L514.45 118.05M500.65 134.35L514.45 120.55M500.65 136.85L514.45 123.05M500.65 139.35L514.45 125.55M500.65 141.85L514.45 128.05M500.65 144.35L514.45 130.55M500.65 146.85L514.45 133.05M500.65 149.35L514.45 135.55M500.65 151.85L514.45 138.05M500.65 154.35L514.45 140.55M500.65 156.85L514.45 143.05M500.65 159.35L514.45 145.55M500.65 161.85L514.45 148.05M500.65 164.35L514.45 150.55M500.65 166.85L514.45 153.05M500.65 169.35L514.45 155.55M500.65 171.85L514.45 158.05M500.65 174.35L514.45 160.55M500.65 176.85L514.45 163.05M500.65 179.35L514.45 165.55M500.65 181.85L514.45 168.05M500.65 184.35L514.45 170.55M500.65 186.85L514.45 173.05M500.65 189.35L514.45 175.55M500.65 191.85L514.45 178.05M500.65 194.35L514.45 180.55M500.65 196.85L514.45 183.05M500.65 199.35L514.45 185.55M500.65 201.85L514.45 188.05M500.65 204.35L514.45 190.55M500.65 206.85L514.45 193.05M500.65 209.35L514.45 195.55M500.65 211.85L514.45 198.05M500.65 214.35L514.45 200.55M500.65 216.85L514.45 203.05M500.65 219.35L514.45 205.55M500.65 221.85L514.45 208.05M500.65 224.35L514.45 210.55M500.65 226.85L514.45 213.05M500.65 229.35L514.45 215.55M500.65 231.85L514.45 218.05M500.65 234.35L514.45 220.55M500.65 236.85L514.45 223.05M500.65 239.35L514.45 225.55M500.65 241.85L514.45 228.05M500.65 244.35L514.45 230.55M500.65 246.85L514.45 233.05M500.65 249.35L514.45 235.55M500.65 251.85L514.45 238.05M500.65 254.35L514.45 240.55M500.65 256.85L514.45 243.05M500.65 259.35L514.45 245.55M500.65 261.85L514.45 248.05M500.65 264.35L514.45 250.55M500.65 266.85L514.45 253.05M500.65 269.35L514.45 255.55M500.65 271.85L514.45 258.05M500.65 274.35L514.45 260.55M500.65 276.85L514.45 263.05M500.65 279.35L514.45 265.55M500.65 281.85L514.45 268.05M500.65 284.35L514.45 270.55M500.65 286.85L514.45 273.05M500.65 289.35L514.45 275.55M500.65 291.85L514.45 278.05M500.65 294.35L514.45 280.55M500.65 296.85L514.45 283.05M500.65 299.35L514.45 285.55M500.65 301.85L514.45 288.05M500.65 304.35L514.45 290.55M500.65 306.85L514.45 293.05M500.65 309.35L514.45 295.55M500.65 311.85L514.45 298.05M500.65 314.35L514.45 300.55M500.65 316.85L514.45 303.05M500.65 319.35L514.45 305.55M500.65 321.85L514.45 308.05M500.65 324.35L514.45 310.55M500.65 326.85L514.45 313.05M500.65 329.35L514.45 315.55M500.65 331.85L514.45 318.05" stroke="#2c2c2c" stroke-width="0.86" fill="none"/></g>
<rect x="501.65" y="89.50" width="11.80" height="226.80" fill="none" stroke="#2e2e2e" stroke-width="1.05"/>
<path d="M507.55 84.20V105.40M505.95 84.20H509.15M505.95 105.40H509.15" stroke="#5c5c5c" stroke-width="1" fill="none"/>
<clipPath id="c15"><rect x="516.95" y="146.40" width="12.20" height="169.90"/></clipPath>
<rect x="516.95" y="146.40" width="12.20" height="169.90" fill="#fff"/>
<g clip-path="url(#c15)"><path d="M515.95 141.85L530.15 127.65M515.95 146.45L530.15 132.25M515.95 151.05L530.15 136.85M515.95 155.65L530.15 141.45M515.95 160.25L530.15 146.05M515.95 164.85L530.15 150.65M515.95 169.45L530.15 155.25M515.95 174.05L530.15 159.85M515.95 178.65L530.15 164.45M515.95 183.25L530.15 169.05M515.95 187.85L530.15 173.65M515.95 192.45L530.15 178.25M515.95 197.05L530.15 182.85M515.95 201.65L530.15 187.45M515.95 206.25L530.15 192.05M515.95 210.85L530.15 196.65M515.95 215.45L530.15 201.25M515.95 220.05L530.15 205.85M515.95 224.65L530.15 210.45M515.95 229.25L530.15 215.05M515.95 233.85L530.15 219.65M515.95 238.45L530.15 224.25M515.95 243.05L530.15 228.85M515.95 247.65L530.15 233.45M515.95 252.25L530.15 238.05M515.95 256.85L530.15 242.65M515.95 261.45L530.15 247.25M515.95 266.05L530.15 251.85M515.95 270.65L530.15 256.45M515.95 275.25L530.15 261.05M515.95 279.85L530.15 265.65M515.95 284.45L530.15 270.25M515.95 289.05L530.15 274.85M515.95 293.65L530.15 279.45M515.95 298.25L530.15 284.05M515.95 302.85L530.15 288.65M515.95 307.45L530.15 293.25M515.95 312.05L530.15 297.85M515.95 316.65L530.15 302.45M515.95 321.25L530.15 307.05M515.95 325.85L530.15 311.65M515.95 330.45L530.15 316.25M515.95 335.05L530.15 320.85M512.90 140.30l2.30 2.30M512.90 144.90l2.30 2.30M512.90 149.50l2.30 2.30M512.90 154.10l2.30 2.30M512.90 158.70l2.30 2.30M512.90 163.30l2.30 2.30M512.90 167.90l2.30 2.30M512.90 172.50l2.30 2.30M512.90 177.10l2.30 2.30M512.90 181.70l2.30 2.30M512.90 186.30l2.30 2.30M512.90 190.90l2.30 2.30M512.90 195.50l2.30 2.30M512.90 200.10l2.30 2.30M512.90 204.70l2.30 2.30M512.90 209.30l2.30 2.30M512.90 213.90l2.30 2.30M512.90 218.50l2.30 2.30M512.90 223.10l2.30 2.30M512.90 227.70l2.30 2.30M512.90 232.30l2.30 2.30M512.90 236.90l2.30 2.30M512.90 241.50l2.30 2.30M512.90 246.10l2.30 2.30M512.90 250.70l2.30 2.30M512.90 255.30l2.30 2.30M512.90 259.90l2.30 2.30M512.90 264.50l2.30 2.30M512.90 269.10l2.30 2.30M512.90 273.70l2.30 2.30M512.90 278.30l2.30 2.30M512.90 282.90l2.30 2.30M512.90 287.50l2.30 2.30M512.90 292.10l2.30 2.30M512.90 296.70l2.30 2.30M512.90 301.30l2.30 2.30M512.90 305.90l2.30 2.30M512.90 310.50l2.30 2.30M512.90 315.10l2.30 2.30M512.90 319.70l2.30 2.30M512.90 324.30l2.30 2.30M517.50 140.30l2.30 2.30M517.50 144.90l2.30 2.30M517.50 149.50l2.30 2.30M517.50 154.10l2.30 2.30M517.50 158.70l2.30 2.30M517.50 163.30l2.30 2.30M517.50 167.90l2.30 2.30M517.50 172.50l2.30 2.30M517.50 177.10l2.30 2.30M517.50 181.70l2.30 2.30M517.50 186.30l2.30 2.30M517.50 190.90l2.30 2.30M517.50 195.50l2.30 2.30M517.50 200.10l2.30 2.30M517.50 204.70l2.30 2.30M517.50 209.30l2.30 2.30M517.50 213.90l2.30 2.30M517.50 218.50l2.30 2.30M517.50 223.10l2.30 2.30M517.50 227.70l2.30 2.30M517.50 232.30l2.30 2.30M517.50 236.90l2.30 2.30M517.50 241.50l2.30 2.30M517.50 246.10l2.30 2.30M517.50 250.70l2.30 2.30M517.50 255.30l2.30 2.30M517.50 259.90l2.30 2.30M517.50 264.50l2.30 2.30M517.50 269.10l2.30 2.30M517.50 273.70l2.30 2.30M517.50 278.30l2.30 2.30M517.50 282.90l2.30 2.30M517.50 287.50l2.30 2.30M517.50 292.10l2.30 2.30M517.50 296.70l2.30 2.30M517.50 301.30l2.30 2.30M517.50 305.90l2.30 2.30M517.50 310.50l2.30 2.30M517.50 315.10l2.30 2.30M517.50 319.70l2.30 2.30M517.50 324.30l2.30 2.30M522.10 140.30l2.30 2.30M522.10 144.90l2.30 2.30M522.10 149.50l2.30 2.30M522.10 154.10l2.30 2.30M522.10 158.70l2.30 2.30M522.10 163.30l2.30 2.30M522.10 167.90l2.30 2.30M522.10 172.50l2.30 2.30M522.10 177.10l2.30 2.30M522.10 181.70l2.30 2.30M522.10 186.30l2.30 2.30M522.10 190.90l2.30 2.30M522.10 195.50l2.30 2.30M522.10 200.10l2.30 2.30M522.10 204.70l2.30 2.30M522.10 209.30l2.30 2.30M522.10 213.90l2.30 2.30M522.10 218.50l2.30 2.30M522.10 223.10l2.30 2.30M522.10 227.70l2.30 2.30M522.10 232.30l2.30 2.30M522.10 236.90l2.30 2.30M522.10 241.50l2.30 2.30M522.10 246.10l2.30 2.30M522.10 250.70l2.30 2.30M522.10 255.30l2.30 2.30M522.10 259.90l2.30 2.30M522.10 264.50l2.30 2.30M522.10 269.10l2.30 2.30M522.10 273.70l2.30 2.30M522.10 278.30l2.30 2.30M522.10 282.90l2.30 2.30M522.10 287.50l2.30 2.30M522.10 292.10l2.30 2.30M522.10 296.70l2.30 2.30M522.10 301.30l2.30 2.30M522.10 305.90l2.30 2.30M522.10 310.50l2.30 2.30M522.10 315.10l2.30 2.30M522.10 319.70l2.30 2.30M522.10 324.30l2.30 2.30M526.70 140.30l2.30 2.30M526.70 144.90l2.30 2.30M526.70 149.50l2.30 2.30M526.70 154.10l2.30 2.30M526.70 158.70l2.30 2.30M526.70 163.30l2.30 2.30M526.70 167.90l2.30 2.30M526.70 172.50l2.30 2.30M526.70 177.10l2.30 2.30M526.70 181.70l2.30 2.30M526.70 186.30l2.30 2.30M526.70 190.90l2.30 2.30M526.70 195.50l2.30 2.30M526.70 200.10l2.30 2.30M526.70 204.70l2.30 2.30M526.70 209.30l2.30 2.30M526.70 213.90l2.30 2.30M526.70 218.50l2.30 2.30M526.70 223.10l2.30 2.30M526.70 227.70l2.30 2.30M526.70 232.30l2.30 2.30M526.70 236.90l2.30 2.30M526.70 241.50l2.30 2.30M526.70 246.10l2.30 2.30M526.70 250.70l2.30 2.30M526.70 255.30l2.30 2.30M526.70 259.90l2.30 2.30M526.70 264.50l2.30 2.30M526.70 269.10l2.30 2.30M526.70 273.70l2.30 2.30M526.70 278.30l2.30 2.30M526.70 282.90l2.30 2.30M526.70 287.50l2.30 2.30M526.70 292.10l2.30 2.30M526.70 296.70l2.30 2.30M526.70 301.30l2.30 2.30M526.70 305.90l2.30 2.30M526.70 310.50l2.30 2.30M526.70 315.10l2.30 2.30M526.70 319.70l2.30 2.30M526.70 324.30l2.30 2.30M531.30 140.30l2.30 2.30M531.30 144.90l2.30 2.30M531.30 149.50l2.30 2.30M531.30 154.10l2.30 2.30M531.30 158.70l2.30 2.30M531.30 163.30l2.30 2.30M531.30 167.90l2.30 2.30M531.30 172.50l2.30 2.30M531.30 177.10l2.30 2.30M531.30 181.70l2.30 2.30M531.30 186.30l2.30 2.30M531.30 190.90l2.30 2.30M531.30 195.50l2.30 2.30M531.30 200.10l2.30 2.30M531.30 204.70l2.30 2.30M531.30 209.30l2.30 2.30M531.30 213.90l2.30 2.30M531.30 218.50l2.30 2.30M531.30 223.10l2.30 2.30M531.30 227.70l2.30 2.30M531.30 232.30l2.30 2.30M531.30 236.90l2.30 2.30M531.30 241.50l2.30 2.30M531.30 246.10l2.30 2.30M531.30 250.70l2.30 2.30M531.30 255.30l2.30 2.30M531.30 259.90l2.30 2.30M531.30 264.50l2.30 2.30M531.30 269.10l2.30 2.30M531.30 273.70l2.30 2.30M531.30 278.30l2.30 2.30M531.30 282.90l2.30 2.30M531.30 287.50l2.30 2.30M531.30 292.10l2.30 2.30M531.30 296.70l2.30 2.30M531.30 301.30l2.30 2.30M531.30 305.90l2.30 2.30M531.30 310.50l2.30 2.30M531.30 315.10l2.30 2.30M531.30 319.70l2.30 2.30M531.30 324.30l2.30 2.30M535.90 140.30l2.30 2.30M535.90 144.90l2.30 2.30M535.90 149.50l2.30 2.30M535.90 154.10l2.30 2.30M535.90 158.70l2.30 2.30M535.90 163.30l2.30 2.30M535.90 167.90l2.30 2.30M535.90 172.50l2.30 2.30M535.90 177.10l2.30 2.30M535.90 181.70l2.30 2.30M535.90 186.30l2.30 2.30M535.90 190.90l2.30 2.30M535.90 195.50l2.30 2.30M535.90 200.10l2.30 2.30M535.90 204.70l2.30 2.30M535.90 209.30l2.30 2.30M535.90 213.90l2.30 2.30M535.90 218.50l2.30 2.30M535.90 223.10l2.30 2.30M535.90 227.70l2.30 2.30M535.90 232.30l2.30 2.30M535.90 236.90l2.30 2.30M535.90 241.50l2.30 2.30M535.90 246.10l2.30 2.30M535.90 250.70l2.30 2.30M535.90 255.30l2.30 2.30M535.90 259.90l2.30 2.30M535.90 264.50l2.30 2.30M535.90 269.10l2.30 2.30M535.90 273.70l2.30 2.30M535.90 278.30l2.30 2.30M535.90 282.90l2.30 2.30M535.90 287.50l2.30 2.30M535.90 292.10l2.30 2.30M535.90 296.70l2.30 2.30M535.90 301.30l2.30 2.30M535.90 305.90l2.30 2.30M535.90 310.50l2.30 2.30M535.90 315.10l2.30 2.30M535.90 319.70l2.30 2.30M535.90 324.30l2.30 2.30M540.50 140.30l2.30 2.30M540.50 144.90l2.30 2.30M540.50 149.50l2.30 2.30M540.50 154.10l2.30 2.30M540.50 158.70l2.30 2.30M540.50 163.30l2.30 2.30M540.50 167.90l2.30 2.30M540.50 172.50l2.30 2.30M540.50 177.10l2.30 2.30M540.50 181.70l2.30 2.30M540.50 186.30l2.30 2.30M540.50 190.90l2.30 2.30M540.50 195.50l2.30 2.30M540.50 200.10l2.30 2.30M540.50 204.70l2.30 2.30M540.50 209.30l2.30 2.30M540.50 213.90l2.30 2.30M540.50 218.50l2.30 2.30M540.50 223.10l2.30 2.30M540.50 227.70l2.30 2.30M540.50 232.30l2.30 2.30M540.50 236.90l2.30 2.30M540.50 241.50l2.30 2.30M540.50 246.10l2.30 2.30M540.50 250.70l2.30 2.30M540.50 255.30l2.30 2.30M540.50 259.90l2.30 2.30M540.50 264.50l2.30 2.30M540.50 269.10l2.30 2.30M540.50 273.70l2.30 2.30M540.50 278.30l2.30 2.30M540.50 282.90l2.30 2.30M540.50 287.50l2.30 2.30M540.50 292.10l2.30 2.30M540.50 296.70l2.30 2.30M540.50 301.30l2.30 2.30M540.50 305.90l2.30 2.30M540.50 310.50l2.30 2.30M540.50 315.10l2.30 2.30M540.50 319.70l2.30 2.30M540.50 324.30l2.30 2.30" stroke="#404040" stroke-width="0.95" fill="none"/></g>
<rect x="516.95" y="146.40" width="12.20" height="169.90" fill="none" stroke="#2e2e2e" stroke-width="1.05"/>
<path d="M523.05 142.30V155.30M521.45 142.30H524.65M521.45 155.30H524.65" stroke="#5c5c5c" stroke-width="1" fill="none"/>
<clipPath id="c16"><rect x="556.65" y="145.40" width="11.90" height="170.90"/></clipPath>
<rect x="556.65" y="145.40" width="11.90" height="170.90" fill="#fff"/>
<g clip-path="url(#c16)"><path d="M556 316.5h1M560 313.5h1M563 316.5h1M566 313.5h1M556 309.5h1M560 306.5h1M563 309.5h1M566 306.5h1M556 303.5h1M560 300.5h1M563 303.5h1M566 300.5h1M556 297.5h1M560 294.5h1M563 297.5h1M566 294.5h1M556 291.5h1M560 288.5h1M563 291.5h1M566 288.5h1M556 285.5h1M560 282.5h1M563 285.5h1M566 282.5h1M556 279.5h1M560 276.5h1M563 279.5h1M566 276.5h1M556 272.5h1M560 269.5h1M563 272.5h1M566 269.5h1M556 266.5h1M560 263.5h1M563 266.5h1M566 263.5h1M556 260.5h1M560 257.5h1M563 260.5h1M566 257.5h1M556 254.5h1M560 251.5h1M563 254.5h1M566 251.5h1M556 248.5h1M560 245.5h1M563 248.5h1M566 245.5h1M556 242.5h1M560 239.5h1M563 242.5h1M566 239.5h1M556 236.5h1M560 232.5h1M563 236.5h1M566 232.5h1M556 229.5h1M560 226.5h1M563 229.5h1M566 226.5h1M556 223.5h1M560 220.5h1M563 223.5h1M566 220.5h1M556 217.5h1M560 214.5h1M563 217.5h1M566 214.5h1M556 211.5h1M560 208.5h1M563 211.5h1M566 208.5h1M556 205.5h1M560 202.5h1M563 205.5h1M566 202.5h1M556 199.5h1M560 195.5h1M563 199.5h1M566 195.5h1M556 192.5h1M560 189.5h1M563 192.5h1M566 189.5h1M556 186.5h1M560 183.5h1M563 186.5h1M566 183.5h1M556 180.5h1M560 177.5h1M563 180.5h1M566 177.5h1M556 174.5h1M560 171.5h1M563 174.5h1M566 171.5h1M556 168.5h1M560 165.5h1M563 168.5h1M566 165.5h1M556 162.5h1M560 159.5h1M563 162.5h1M566 159.5h1M556 155.5h1M560 152.5h1M563 155.5h1M566 152.5h1M556 149.5h1M560 146.5h1M563 149.5h1M566 146.5h1M556 143.5h1M560 140.5h1M563 143.5h1M566 140.5h1" stroke="#808080" stroke-width="1" fill="none"/></g>
<rect x="556.65" y="145.40" width="11.90" height="170.90" fill="none" stroke="#2e2e2e" stroke-width="1.05"/>
<path d="M562.60 140.30V163.80M561.00 140.30H564.20M561.00 163.80H564.20" stroke="#5c5c5c" stroke-width="1" fill="none"/>
<clipPath id="c17"><rect x="571.75" y="89.30" width="12.80" height="227.00"/></clipPath>
<rect x="571.75" y="89.30" width="12.80" height="227.00" fill="#fff"/>
<g clip-path="url(#c17)"><path d="M570.75 86.75L585.55 71.95M570.75 89.25L585.55 74.45M570.75 91.75L585.55 76.95M570.75 94.25L585.55 79.45M570.75 96.75L585.55 81.95M570.75 99.25L585.55 84.45M570.75 101.75L585.55 86.95M570.75 104.25L585.55 89.45M570.75 106.75L585.55 91.95M570.75 109.25L585.55 94.45M570.75 111.75L585.55 96.95M570.75 114.25L585.55 99.45M570.75 116.75L585.55 101.95M570.75 119.25L585.55 104.45M570.75 121.75L585.55 106.95M570.75 124.25L585.55 109.45M570.75 126.75L585.55 111.95M570.75 129.25L585.55 114.45M570.75 131.75L585.55 116.95M570.75 134.25L585.55 119.45M570.75 136.75L585.55 121.95M570.75 139.25L585.55 124.45M570.75 141.75L585.55 126.95M570.75 144.25L585.55 129.45M570.75 146.75L585.55 131.95M570.75 149.25L585.55 134.45M570.75 151.75L585.55 136.95M570.75 154.25L585.55 139.45M570.75 156.75L585.55 141.95M570.75 159.25L585.55 144.45M570.75 161.75L585.55 146.95M570.75 164.25L585.55 149.45M570.75 166.75L585.55 151.95M570.75 169.25L585.55 154.45M570.75 171.75L585.55 156.95M570.75 174.25L585.55 159.45M570.75 176.75L585.55 161.95M570.75 179.25L585.55 164.45M570.75 181.75L585.55 166.95M570.75 184.25L585.55 169.45M570.75 186.75L585.55 171.95M570.75 189.25L585.55 174.45M570.75 191.75L585.55 176.95M570.75 194.25L585.55 179.45M570.75 196.75L585.55 181.95M570.75 199.25L585.55 184.45M570.75 201.75L585.55 186.95M570.75 204.25L585.55 189.45M570.75 206.75L585.55 191.95M570.75 209.25L585.55 194.45M570.75 211.75L585.55 196.95M570.75 214.25L585.55 199.45M570.75 216.75L585.55 201.95M570.75 219.25L585.55 204.45M570.75 221.75L585.55 206.95M570.75 224.25L585.55 209.45M570.75 226.75L585.55 211.95M570.75 229.25L585.55 214.45M570.75 231.75L585.55 216.95M570.75 234.25L585.55 219.45M570.75 236.75L585.55 221.95M570.75 239.25L585.55 224.45M570.75 241.75L585.55 226.95M570.75 244.25L585.55 229.45M570.75 246.75L585.55 231.95M570.75 249.25L585.55 234.45M570.75 251.75L585.55 236.95M570.75 254.25L585.55 239.45M570.75 256.75L585.55 241.95M570.75 259.25L585.55 244.45M570.75 261.75L585.55 246.95M570.75 264.25L585.55 249.45M570.75 266.75L585.55 251.95M570.75 269.25L585.55 254.45M570.75 271.75L585.55 256.95M570.75 274.25L585.55 259.45M570.75 276.75L585.55 261.95M570.75 279.25L585.55 264.45M570.75 281.75L585.55 266.95M570.75 284.25L585.55 269.45M570.75 286.75L585.55 271.95M570.75 289.25L585.55 274.45M570.75 291.75L585.55 276.95M570.75 294.25L585.55 279.45M570.75 296.75L585.55 281.95M570.75 299.25L585.55 284.45M570.75 301.75L585.55 286.95M570.75 304.25L585.55 289.45M570.75 306.75L585.55 291.95M570.75 309.25L585.55 294.45M570.75 311.75L585.55 296.95M570.75 314.25L585.55 299.45M570.75 316.75L585.55 301.95M570.75 319.25L585.55 304.45M570.75 321.75L585.55 306.95M570.75 324.25L585.55 309.45M570.75 326.75L585.55 311.95M570.75 329.25L585.55 314.45M570.75 331.75L585.55 316.95M570.75 334.25L585.55 319.45" stroke="#2c2c2c" stroke-width="0.86" fill="none"/></g>
<rect x="571.75" y="89.30" width="12.80" height="227.00" fill="none" stroke="#2e2e2e" stroke-width="1.05"/>
<path d="M578.15 85.40V102.40M576.55 85.40H579.75M576.55 102.40H579.75" stroke="#5c5c5c" stroke-width="1" fill="none"/>
<clipPath id="c18"><rect x="587.85" y="142.40" width="12.20" height="173.90"/></clipPath>
<rect x="587.85" y="142.40" width="12.20" height="173.90" fill="#fff"/>
<g clip-path="url(#c18)"><path d="M586.85 135.35L601.05 121.15M586.85 139.95L601.05 125.75M586.85 144.55L601.05 130.35M586.85 149.15L601.05 134.95M586.85 153.75L601.05 139.55M586.85 158.35L601.05 144.15M586.85 162.95L601.05 148.75M586.85 167.55L601.05 153.35M586.85 172.15L601.05 157.95M586.85 176.75L601.05 162.55M586.85 181.35L601.05 167.15M586.85 185.95L601.05 171.75M586.85 190.55L601.05 176.35M586.85 195.15L601.05 180.95M586.85 199.75L601.05 185.55M586.85 204.35L601.05 190.15M586.85 208.95L601.05 194.75M586.85 213.55L601.05 199.35M586.85 218.15L601.05 203.95M586.85 222.75L601.05 208.55M586.85 227.35L601.05 213.15M586.85 231.95L601.05 217.75M586.85 236.55L601.05 222.35M586.85 241.15L601.05 226.95M586.85 245.75L601.05 231.55M586.85 250.35L601.05 236.15M586.85 254.95L601.05 240.75M586.85 259.55L601.05 245.35M586.85 264.15L601.05 249.95M586.85 268.75L601.05 254.55M586.85 273.35L601.05 259.15M586.85 277.95L601.05 263.75M586.85 282.55L601.05 268.35M586.85 287.15L601.05 272.95M586.85 291.75L601.05 277.55M586.85 296.35L601.05 282.15M586.85 300.95L601.05 286.75M586.85 305.55L601.05 291.35M586.85 310.15L601.05 295.95M586.85 314.75L601.05 300.55M586.85 319.35L601.05 305.15M586.85 323.95L601.05 309.75M586.85 328.55L601.05 314.35M586.85 333.15L601.05 318.95M586.85 337.75L601.05 323.55M581.90 135.70l2.30 2.30M581.90 140.30l2.30 2.30M581.90 144.90l2.30 2.30M581.90 149.50l2.30 2.30M581.90 154.10l2.30 2.30M581.90 158.70l2.30 2.30M581.90 163.30l2.30 2.30M581.90 167.90l2.30 2.30M581.90 172.50l2.30 2.30M581.90 177.10l2.30 2.30M581.90 181.70l2.30 2.30M581.90 186.30l2.30 2.30M581.90 190.90l2.30 2.30M581.90 195.50l2.30 2.30M581.90 200.10l2.30 2.30M581.90 204.70l2.30 2.30M581.90 209.30l2.30 2.30M581.90 213.90l2.30 2.30M581.90 218.50l2.30 2.30M581.90 223.10l2.30 2.30M581.90 227.70l2.30 2.30M581.90 232.30l2.30 2.30M581.90 236.90l2.30 2.30M581.90 241.50l2.30 2.30M581.90 246.10l2.30 2.30M581.90 250.70l2.30 2.30M581.90 255.30l2.30 2.30M581.90 259.90l2.30 2.30M581.90 264.50l2.30 2.30M581.90 269.10l2.30 2.30M581.90 273.70l2.30 2.30M581.90 278.30l2.30 2.30M581.90 282.90l2.30 2.30M581.90 287.50l2.30 2.30M581.90 292.10l2.30 2.30M581.90 296.70l2.30 2.30M581.90 301.30l2.30 2.30M581.90 305.90l2.30 2.30M581.90 310.50l2.30 2.30M581.90 315.10l2.30 2.30M581.90 319.70l2.30 2.30M581.90 324.30l2.30 2.30M586.50 135.70l2.30 2.30M586.50 140.30l2.30 2.30M586.50 144.90l2.30 2.30M586.50 149.50l2.30 2.30M586.50 154.10l2.30 2.30M586.50 158.70l2.30 2.30M586.50 163.30l2.30 2.30M586.50 167.90l2.30 2.30M586.50 172.50l2.30 2.30M586.50 177.10l2.30 2.30M586.50 181.70l2.30 2.30M586.50 186.30l2.30 2.30M586.50 190.90l2.30 2.30M586.50 195.50l2.30 2.30M586.50 200.10l2.30 2.30M586.50 204.70l2.30 2.30M586.50 209.30l2.30 2.30M586.50 213.90l2.30 2.30M586.50 218.50l2.30 2.30M586.50 223.10l2.30 2.30M586.50 227.70l2.30 2.30M586.50 232.30l2.30 2.30M586.50 236.90l2.30 2.30M586.50 241.50l2.30 2.30M586.50 246.10l2.30 2.30M586.50 250.70l2.30 2.30M586.50 255.30l2.30 2.30M586.50 259.90l2.30 2.30M586.50 264.50l2.30 2.30M586.50 269.10l2.30 2.30M586.50 273.70l2.30 2.30M586.50 278.30l2.30 2.30M586.50 282.90l2.30 2.30M586.50 287.50l2.30 2.30M586.50 292.10l2.30 2.30M586.50 296.70l2.30 2.30M586.50 301.30l2.30 2.30M586.50 305.90l2.30 2.30M586.50 310.50l2.30 2.30M586.50 315.10l2.30 2.30M586.50 319.70l2.30 2.30M586.50 324.30l2.30 2.30M591.10 135.70l2.30 2.30M591.10 140.30l2.30 2.30M591.10 144.90l2.30 2.30M591.10 149.50l2.30 2.30M591.10 154.10l2.30 2.30M591.10 158.70l2.30 2.30M591.10 163.30l2.30 2.30M591.10 167.90l2.30 2.30M591.10 172.50l2.30 2.30M591.10 177.10l2.30 2.30M591.10 181.70l2.30 2.30M591.10 186.30l2.30 2.30M591.10 190.90l2.30 2.30M591.10 195.50l2.30 2.30M591.10 200.10l2.30 2.30M591.10 204.70l2.30 2.30M591.10 209.30l2.30 2.30M591.10 213.90l2.30 2.30M591.10 218.50l2.30 2.30M591.10 223.10l2.30 2.30M591.10 227.70l2.30 2.30M591.10 232.30l2.30 2.30M591.10 236.90l2.30 2.30M591.10 241.50l2.30 2.30M591.10 246.10l2.30 2.30M591.10 250.70l2.30 2.30M591.10 255.30l2.30 2.30M591.10 259.90l2.30 2.30M591.10 264.50l2.30 2.30M591.10 269.10l2.30 2.30M591.10 273.70l2.30 2.30M591.10 278.30l2.30 2.30M591.10 282.90l2.30 2.30M591.10 287.50l2.30 2.30M591.10 292.10l2.30 2.30M591.10 296.70l2.30 2.30M591.10 301.30l2.30 2.30M591.10 305.90l2.30 2.30M591.10 310.50l2.30 2.30M591.10 315.10l2.30 2.30M591.10 319.70l2.30 2.30M591.10 324.30l2.30 2.30M595.70 135.70l2.30 2.30M595.70 140.30l2.30 2.30M595.70 144.90l2.30 2.30M595.70 149.50l2.30 2.30M595.70 154.10l2.30 2.30M595.70 158.70l2.30 2.30M595.70 163.30l2.30 2.30M595.70 167.90l2.30 2.30M595.70 172.50l2.30 2.30M595.70 177.10l2.30 2.30M595.70 181.70l2.30 2.30M595.70 186.30l2.30 2.30M595.70 190.90l2.30 2.30M595.70 195.50l2.30 2.30M595.70 200.10l2.30 2.30M595.70 204.70l2.30 2.30M595.70 209.30l2.30 2.30M595.70 213.90l2.30 2.30M595.70 218.50l2.30 2.30M595.70 223.10l2.30 2.30M595.70 227.70l2.30 2.30M595.70 232.30l2.30 2.30M595.70 236.90l2.30 2.30M595.70 241.50l2.30 2.30M595.70 246.10l2.30 2.30M595.70 250.70l2.30 2.30M595.70 255.30l2.30 2.30M595.70 259.90l2.30 2.30M595.70 264.50l2.30 2.30M595.70 269.10l2.30 2.30M595.70 273.70l2.30 2.30M595.70 278.30l2.30 2.30M595.70 282.90l2.30 2.30M595.70 287.50l2.30 2.30M595.70 292.10l2.30 2.30M595.70 296.70l2.30 2.30M595.70 301.30l2.30 2.30M595.70 305.90l2.30 2.30M595.70 310.50l2.30 2.30M595.70 315.10l2.30 2.30M595.70 319.70l2.30 2.30M595.70 324.30l2.30 2.30M600.30 135.70l2.30 2.30M600.30 140.30l2.30 2.30M600.30 144.90l2.30 2.30M600.30 149.50l2.30 2.30M600.30 154.10l2.30 2.30M600.30 158.70l2.30 2.30M600.30 163.30l2.30 2.30M600.30 167.90l2.30 2.30M600.30 172.50l2.30 2.30M600.30 177.10l2.30 2.30M600.30 181.70l2.30 2.30M600.30 186.30l2.30 2.30M600.30 190.90l2.30 2.30M600.30 195.50l2.30 2.30M600.30 200.10l2.30 2.30M600.30 204.70l2.30 2.30M600.30 209.30l2.30 2.30M600.30 213.90l2.30 2.30M600.30 218.50l2.30 2.30M600.30 223.10l2.30 2.30M600.30 227.70l2.30 2.30M600.30 232.30l2.30 2.30M600.30 236.90l2.30 2.30M600.30 241.50l2.30 2.30M600.30 246.10l2.30 2.30M600.30 250.70l2.30 2.30M600.30 255.30l2.30 2.30M600.30 259.90l2.30 2.30M600.30 264.50l2.30 2.30M600.30 269.10l2.30 2.30M600.30 273.70l2.30 2.30M600.30 278.30l2.30 2.30M600.30 282.90l2.30 2.30M600.30 287.50l2.30 2.30M600.30 292.10l2.30 2.30M600.30 296.70l2.30 2.30M600.30 301.30l2.30 2.30M600.30 305.90l2.30 2.30M600.30 310.50l2.30 2.30M600.30 315.10l2.30 2.30M600.30 319.70l2.30 2.30M600.30 324.30l2.30 2.30M604.90 135.70l2.30 2.30M604.90 140.30l2.30 2.30M604.90 144.90l2.30 2.30M604.90 149.50l2.30 2.30M604.90 154.10l2.30 2.30M604.90 158.70l2.30 2.30M604.90 163.30l2.30 2.30M604.90 167.90l2.30 2.30M604.90 172.50l2.30 2.30M604.90 177.10l2.30 2.30M604.90 181.70l2.30 2.30M604.90 186.30l2.30 2.30M604.90 190.90l2.30 2.30M604.90 195.50l2.30 2.30M604.90 200.10l2.30 2.30M604.90 204.70l2.30 2.30M604.90 209.30l2.30 2.30M604.90 213.90l2.30 2.30M604.90 218.50l2.30 2.30M604.90 223.10l2.30 2.30M604.90 227.70l2.30 2.30M604.90 232.30l2.30 2.30M604.90 236.90l2.30 2.30M604.90 241.50l2.30 2.30M604.90 246.10l2.30 2.30M604.90 250.70l2.30 2.30M604.90 255.30l2.30 2.30M604.90 259.90l2.30 2.30M604.90 264.50l2.30 2.30M604.90 269.10l2.30 2.30M604.90 273.70l2.30 2.30M604.90 278.30l2.30 2.30M604.90 282.90l2.30 2.30M604.90 287.50l2.30 2.30M604.90 292.10l2.30 2.30M604.90 296.70l2.30 2.30M604.90 301.30l2.30 2.30M604.90 305.90l2.30 2.30M604.90 310.50l2.30 2.30M604.90 315.10l2.30 2.30M604.90 319.70l2.30 2.30M604.90 324.30l2.30 2.30M609.50 135.70l2.30 2.30M609.50 140.30l2.30 2.30M609.50 144.90l2.30 2.30M609.50 149.50l2.30 2.30M609.50 154.10l2.30 2.30M609.50 158.70l2.30 2.30M609.50 163.30l2.30 2.30M609.50 167.90l2.30 2.30M609.50 172.50l2.30 2.30M609.50 177.10l2.30 2.30M609.50 181.70l2.30 2.30M609.50 186.30l2.30 2.30M609.50 190.90l2.30 2.30M609.50 195.50l2.30 2.30M609.50 200.10l2.30 2.30M609.50 204.70l2.30 2.30M609.50 209.30l2.30 2.30M609.50 213.90l2.30 2.30M609.50 218.50l2.30 2.30M609.50 223.10l2.30 2.30M609.50 227.70l2.30 2.30M609.50 232.30l2.30 2.30M609.50 236.90l2.30 2.30M609.50 241.50l2.30 2.30M609.50 246.10l2.30 2.30M609.50 250.70l2.30 2.30M609.50 255.30l2.30 2.30M609.50 259.90l2.30 2.30M609.50 264.50l2.30 2.30M609.50 269.10l2.30 2.30M609.50 273.70l2.30 2.30M609.50 278.30l2.30 2.30M609.50 282.90l2.30 2.30M609.50 287.50l2.30 2.30M609.50 292.10l2.30 2.30M609.50 296.70l2.30 2.30M609.50 301.30l2.30 2.30M609.50 305.90l2.30 2.30M609.50 310.50l2.30 2.30M609.50 315.10l2.30 2.30M609.50 319.70l2.30 2.30M609.50 324.30l2.30 2.30" stroke="#404040" stroke-width="0.95" fill="none"/></g>
<rect x="587.85" y="142.40" width="12.20" height="173.90" fill="none" stroke="#2e2e2e" stroke-width="1.05"/>
<path d="M593.95 136.00V159.70M592.35 136.00H595.55M592.35 159.70H595.55" stroke="#5c5c5c" stroke-width="1" fill="none"/>
<path d="M401.0 74.38V320.30M397.70 316.3H613.7" stroke="#555" stroke-width="1.35" fill="none"/>
<line x1="397.70" y1="316.30" x2="401.0" y2="316.30" stroke="#555" stroke-width="1"/>
<text x="395.40" y="319.20" text-anchor="end" font-size="8">0</text>
<line x1="397.70" y1="275.98" x2="401.0" y2="275.98" stroke="#555" stroke-width="1"/>
<text x="395.40" y="278.88" text-anchor="end" font-size="8">20</text>
<line x1="397.70" y1="235.66" x2="401.0" y2="235.66" stroke="#555" stroke-width="1"/>
<text x="395.40" y="238.56" text-anchor="end" font-size="8">40</text>
<line x1="397.70" y1="195.34" x2="401.0" y2="195.34" stroke="#555" stroke-width="1"/>
<text x="395.40" y="198.24" text-anchor="end" font-size="8">60</text>
<line x1="397.70" y1="155.02" x2="401.0" y2="155.02" stroke="#555" stroke-width="1"/>
<text x="395.40" y="157.92" text-anchor="end" font-size="8">80</text>
<line x1="397.70" y1="114.70" x2="401.0" y2="114.70" stroke="#555" stroke-width="1"/>
<text x="395.40" y="117.60" text-anchor="end" font-size="8">100</text>
<line x1="397.70" y1="74.38" x2="401.0" y2="74.38" stroke="#555" stroke-width="1"/>
<text x="395.40" y="77.28" text-anchor="end" font-size="8">120</text>
<line x1="471.90" y1="316.3" x2="471.90" y2="320.30" stroke="#555" stroke-width="1"/>
<line x1="542.80" y1="316.3" x2="542.80" y2="320.30" stroke="#555" stroke-width="1"/>
<line x1="613.70" y1="316.3" x2="613.70" y2="320.30" stroke="#555" stroke-width="1"/>
<line x1="436.45" y1="316.3" x2="436.45" y2="319.00" stroke="#555" stroke-width="1"/>
<line x1="507.35" y1="316.3" x2="507.35" y2="319.00" stroke="#555" stroke-width="1"/>
<line x1="578.25" y1="316.3" x2="578.25" y2="319.00" stroke="#555" stroke-width="1"/>
<text x="436.15" y="333.90" text-anchor="middle" font-size="10.9">DBP-0W</text>
<text x="507.05" y="333.90" text-anchor="middle" font-size="10.9">DBP-2W</text>
<text x="577.95" y="333.90" text-anchor="middle" font-size="10.9">DBP-4W</text>
<text transform="translate(373.1 200.2) rotate(-90)" text-anchor="middle" font-size="10.7">DBP mm Hg</text>
<text x="437.10" y="84.80" text-anchor="middle" font-size="7" font-weight="bold" letter-spacing="2.1">**</text>
<text x="508.30" y="82.30" text-anchor="middle" font-size="7" font-weight="bold" letter-spacing="2.1">**</text>
<text x="579.00" y="82.10" text-anchor="middle" font-size="7" font-weight="bold" letter-spacing="2.1">**</text>
<text x="523.00" y="139.50" text-anchor="middle" font-size="8" font-weight="bold">##</text>
<text x="593.80" y="135.70" text-anchor="middle" font-size="8" font-weight="bold">##</text>
<rect x="622.50" y="82.20" width="5.4" height="5.4" fill="#fff"/>
<rect x="622.50" y="82.20" width="5.4" height="5.4" fill="none" stroke="#222" stroke-width="1.1"/>
<text x="630.40" y="87.35" font-size="8">SHAM</text>
<rect x="622.50" y="105.60" width="5.4" height="5.4" fill="#787878"/><path d="M623.30 110.20L627.10 106.40" stroke="#e8e8e8" stroke-width="1.1"/>
<rect x="622.50" y="105.60" width="5.4" height="5.4" fill="none" stroke="#222" stroke-width="1.1"/>
<text x="630.40" y="110.75" font-size="8">2K1C</text>
<rect x="622.50" y="128.90" width="5.4" height="5.4" fill="#fff"/><path d="M623.30 132.30L625.90 129.70M625.10 131.50L627.10 133.50" stroke="#666" stroke-width="0.9"/>
<rect x="622.50" y="128.90" width="5.4" height="5.4" fill="none" stroke="#222" stroke-width="1.1"/>
<text x="630.40" y="134.05" font-size="8">2K1C-Sinapine</text>
<text transform="translate(350.3 16.05) scale(0.9 1)" font-size="20.8" font-weight="bold" class="pl">B</text>
<line x1="53.3" y1="663.50" x2="266.0" y2="663.50" stroke="#d8d8d8" stroke-width="1"/>
<line x1="53.3" y1="628.50" x2="266.0" y2="628.50" stroke="#d8d8d8" stroke-width="1"/>
<line x1="53.3" y1="594.50" x2="266.0" y2="594.50" stroke="#d8d8d8" stroke-width="1"/>
<line x1="53.3" y1="559.50" x2="266.0" y2="559.50" stroke="#d8d8d8" stroke-width="1"/>
<line x1="53.3" y1="524.50" x2="266.0" y2="524.50" stroke="#d8d8d8" stroke-width="1"/>
<line x1="53.3" y1="489.50" x2="266.0" y2="489.50" stroke="#d8d8d8" stroke-width="1"/>
<line x1="53.3" y1="454.50" x2="266.0" y2="454.50" stroke="#d8d8d8" stroke-width="1"/>
<clipPath id="c19"><rect x="66.75" y="517.20" width="12.50" height="181.30"/></clipPath>
<rect x="66.75" y="517.20" width="12.50" height="181.30" fill="#fff"/>
<g clip-path="url(#c19)"><path d="M66 698.5h1M70 695.5h1M73 698.5h1M76 695.5h1M79 698.5h1M83 695.5h1M66 692.5h1M70 689.5h1M73 692.5h1M76 689.5h1M79 692.5h1M83 689.5h1M66 685.5h1M70 682.5h1M73 685.5h1M76 682.5h1M79 685.5h1M83 682.5h1M66 679.5h1M70 676.5h1M73 679.5h1M76 676.5h1M79 679.5h1M83 676.5h1M66 673.5h1M70 670.5h1M73 673.5h1M76 670.5h1M79 673.5h1M83 670.5h1M66 667.5h1M70 664.5h1M73 667.5h1M76 664.5h1M79 667.5h1M83 664.5h1M66 661.5h1M70 658.5h1M73 661.5h1M76 658.5h1M79 661.5h1M83 658.5h1M66 655.5h1M70 652.5h1M73 655.5h1M76 652.5h1M79 655.5h1M83 652.5h1M66 649.5h1M70 645.5h1M73 649.5h1M76 645.5h1M79 649.5h1M83 645.5h1M66 642.5h1M70 639.5h1M73 642.5h1M76 639.5h1M79 642.5h1M83 639.5h1M66 636.5h1M70 633.5h1M73 636.5h1M76 633.5h1M79 636.5h1M83 633.5h1M66 630.5h1M70 627.5h1M73 630.5h1M76 627.5h1M79 630.5h1M83 627.5h1M66 624.5h1M70 621.5h1M73 624.5h1M76 621.5h1M79 624.5h1M83 621.5h1M66 618.5h1M70 615.5h1M73 618.5h1M76 615.5h1M79 618.5h1M83 615.5h1M66 612.5h1M70 608.5h1M73 612.5h1M76 608.5h1M79 612.5h1M83 608.5h1M66 605.5h1M70 602.5h1M73 605.5h1M76 602.5h1M79 605.5h1M83 602.5h1M66 599.5h1M70 596.5h1M73 599.5h1M76 596.5h1M79 599.5h1M83 596.5h1M66 593.5h1M70 590.5h1M73 593.5h1M76 590.5h1M79 593.5h1M83 590.5h1M66 587.5h1M70 584.5h1M73 587.5h1M76 584.5h1M79 587.5h1M83 584.5h1M66 581.5h1M70 578.5h1M73 581.5h1M76 578.5h1M79 581.5h1M83 578.5h1M66 575.5h1M70 572.5h1M73 575.5h1M76 572.5h1M79 575.5h1M83 572.5h1M66 568.5h1M70 565.5h1M73 568.5h1M76 565.5h1M79 568.5h1M83 565.5h1M66 562.5h1M70 559.5h1M73 562.5h1M76 559.5h1M79 562.5h1M83 559.5h1M66 556.5h1M70 553.5h1M73 556.5h1M76 553.5h1M79 556.5h1M83 553.5h1M66 550.5h1M70 547.5h1M73 550.5h1M76 547.5h1M79 550.5h1M83 547.5h1M66 544.5h1M70 541.5h1M73 544.5h1M76 541.5h1M79 544.5h1M83 541.5h1M66 538.5h1M70 535.5h1M73 538.5h1M76 535.5h1M79 538.5h1M83 535.5h1M66 531.5h1M70 528.5h1M73 531.5h1M76 528.5h1M79 531.5h1M83 528.5h1M66 525.5h1M70 522.5h1M73 525.5h1M76 522.5h1M79 525.5h1M83 522.5h1M66 519.5h1M70 516.5h1M73 519.5h1M76 516.5h1M79 519.5h1M83 516.5h1M66 513.5h1M70 510.5h1M73 513.5h1M76 510.5h1M79 513.5h1M83 510.5h1" stroke="#808080" stroke-width="1" fill="none"/></g>
<rect x="66.75" y="517.20" width="12.50" height="181.30" fill="none" stroke="#2e2e2e" stroke-width="1.05"/>
<path d="M73.00 514.60V520.50M71.40 514.60H74.60M71.40 520.50H74.60" stroke="#5c5c5c" stroke-width="1" fill="none"/>
<clipPath id="c20"><rect x="82.75" y="477.40" width="11.70" height="221.10"/></clipPath>
<rect x="82.75" y="477.40" width="11.70" height="221.10" fill="#fff"/>
<g clip-path="url(#c20)"><path d="M81.75 475.75L95.45 462.05M81.75 478.25L95.45 464.55M81.75 480.75L95.45 467.05M81.75 483.25L95.45 469.55M81.75 485.75L95.45 472.05M81.75 488.25L95.45 474.55M81.75 490.75L95.45 477.05M81.75 493.25L95.45 479.55M81.75 495.75L95.45 482.05M81.75 498.25L95.45 484.55M81.75 500.75L95.45 487.05M81.75 503.25L95.45 489.55M81.75 505.75L95.45 492.05M81.75 508.25L95.45 494.55M81.75 510.75L95.45 497.05M81.75 513.25L95.45 499.55M81.75 515.75L95.45 502.05M81.75 518.25L95.45 504.55M81.75 520.75L95.45 507.05M81.75 523.25L95.45 509.55M81.75 525.75L95.45 512.05M81.75 528.25L95.45 514.55M81.75 530.75L95.45 517.05M81.75 533.25L95.45 519.55M81.75 535.75L95.45 522.05M81.75 538.25L95.45 524.55M81.75 540.75L95.45 527.05M81.75 543.25L95.45 529.55M81.75 545.75L95.45 532.05M81.75 548.25L95.45 534.55M81.75 550.75L95.45 537.05M81.75 553.25L95.45 539.55M81.75 555.75L95.45 542.05M81.75 558.25L95.45 544.55M81.75 560.75L95.45 547.05M81.75 563.25L95.45 549.55M81.75 565.75L95.45 552.05M81.75 568.25L95.45 554.55M81.75 570.75L95.45 557.05M81.75 573.25L95.45 559.55M81.75 575.75L95.45 562.05M81.75 578.25L95.45 564.55M81.75 580.75L95.45 567.05M81.75 583.25L95.45 569.55M81.75 585.75L95.45 572.05M81.75 588.25L95.45 574.55M81.75 590.75L95.45 577.05M81.75 593.25L95.45 579.55M81.75 595.75L95.45 582.05M81.75 598.25L95.45 584.55M81.75 600.75L95.45 587.05M81.75 603.25L95.45 589.55M81.75 605.75L95.45 592.05M81.75 608.25L95.45 594.55M81.75 610.75L95.45 597.05M81.75 613.25L95.45 599.55M81.75 615.75L95.45 602.05M81.75 618.25L95.45 604.55M81.75 620.75L95.45 607.05M81.75 623.25L95.45 609.55M81.75 625.75L95.45 612.05M81.75 628.25L95.45 614.55M81.75 630.75L95.45 617.05M81.75 633.25L95.45 619.55M81.75 635.75L95.45 622.05M81.75 638.25L95.45 624.55M81.75 640.75L95.45 627.05M81.75 643.25L95.45 629.55M81.75 645.75L95.45 632.05M81.75 648.25L95.45 634.55M81.75 650.75L95.45 637.05M81.75 653.25L95.45 639.55M81.75 655.75L95.45 642.05M81.75 658.25L95.45 644.55M81.75 660.75L95.45 647.05M81.75 663.25L95.45 649.55M81.75 665.75L95.45 652.05M81.75 668.25L95.45 654.55M81.75 670.75L95.45 657.05M81.75 673.25L95.45 659.55M81.75 675.75L95.45 662.05M81.75 678.25L95.45 664.55M81.75 680.75L95.45 667.05M81.75 683.25L95.45 669.55M81.75 685.75L95.45 672.05M81.75 688.25L95.45 674.55M81.75 690.75L95.45 677.05M81.75 693.25L95.45 679.55M81.75 695.75L95.45 682.05M81.75 698.25L95.45 684.55M81.75 700.75L95.45 687.05M81.75 703.25L95.45 689.55M81.75 705.75L95.45 692.05M81.75 708.25L95.45 694.55M81.75 710.75L95.45 697.05M81.75 713.25L95.45 699.55M81.75 715.75L95.45 702.05" stroke="#2c2c2c" stroke-width="0.86" fill="none"/></g>
<rect x="82.75" y="477.40" width="11.70" height="221.10" fill="none" stroke="#2e2e2e" stroke-width="1.05"/>
<path d="M88.60 471.30V496.00M87.00 471.30H90.20M87.00 496.00H90.20" stroke="#5c5c5c" stroke-width="1" fill="none"/>
<clipPath id="c21"><rect x="98.55" y="470.10" width="12.00" height="228.40"/></clipPath>
<rect x="98.55" y="470.10" width="12.00" height="228.40" fill="#fff"/>
<g clip-path="url(#c21)"><path d="M97.55 463.65L111.55 449.65M97.55 468.25L111.55 454.25M97.55 472.85L111.55 458.85M97.55 477.45L111.55 463.45M97.55 482.05L111.55 468.05M97.55 486.65L111.55 472.65M97.55 491.25L111.55 477.25M97.55 495.85L111.55 481.85M97.55 500.45L111.55 486.45M97.55 505.05L111.55 491.05M97.55 509.65L111.55 495.65M97.55 514.25L111.55 500.25M97.55 518.85L111.55 504.85M97.55 523.45L111.55 509.45M97.55 528.05L111.55 514.05M97.55 532.65L111.55 518.65M97.55 537.25L111.55 523.25M97.55 541.85L111.55 527.85M97.55 546.45L111.55 532.45M97.55 551.05L111.55 537.05M97.55 555.65L111.55 541.65M97.55 560.25L111.55 546.25M97.55 564.85L111.55 550.85M97.55 569.45L111.55 555.45M97.55 574.05L111.55 560.05M97.55 578.65L111.55 564.65M97.55 583.25L111.55 569.25M97.55 587.85L111.55 573.85M97.55 592.45L111.55 578.45M97.55 597.05L111.55 583.05M97.55 601.65L111.55 587.65M97.55 606.25L111.55 592.25M97.55 610.85L111.55 596.85M97.55 615.45L111.55 601.45M97.55 620.05L111.55 606.05M97.55 624.65L111.55 610.65M97.55 629.25L111.55 615.25M97.55 633.85L111.55 619.85M97.55 638.45L111.55 624.45M97.55 643.05L111.55 629.05M97.55 647.65L111.55 633.65M97.55 652.25L111.55 638.25M97.55 656.85L111.55 642.85M97.55 661.45L111.55 647.45M97.55 666.05L111.55 652.05M97.55 670.65L111.55 656.65M97.55 675.25L111.55 661.25M97.55 679.85L111.55 665.85M97.55 684.45L111.55 670.45M97.55 689.05L111.55 675.05M97.55 693.65L111.55 679.65M97.55 698.25L111.55 684.25M97.55 702.85L111.55 688.85M97.55 707.45L111.55 693.45M97.55 712.05L111.55 698.05M97.55 716.65L111.55 702.65M94.30 466.90l2.30 2.30M94.30 471.50l2.30 2.30M94.30 476.10l2.30 2.30M94.30 480.70l2.30 2.30M94.30 485.30l2.30 2.30M94.30 489.90l2.30 2.30M94.30 494.50l2.30 2.30M94.30 499.10l2.30 2.30M94.30 503.70l2.30 2.30M94.30 508.30l2.30 2.30M94.30 512.90l2.30 2.30M94.30 517.50l2.30 2.30M94.30 522.10l2.30 2.30M94.30 526.70l2.30 2.30M94.30 531.30l2.30 2.30M94.30 535.90l2.30 2.30M94.30 540.50l2.30 2.30M94.30 545.10l2.30 2.30M94.30 549.70l2.30 2.30M94.30 554.30l2.30 2.30M94.30 558.90l2.30 2.30M94.30 563.50l2.30 2.30M94.30 568.10l2.30 2.30M94.30 572.70l2.30 2.30M94.30 577.30l2.30 2.30M94.30 581.90l2.30 2.30M94.30 586.50l2.30 2.30M94.30 591.10l2.30 2.30M94.30 595.70l2.30 2.30M94.30 600.30l2.30 2.30M94.30 604.90l2.30 2.30M94.30 609.50l2.30 2.30M94.30 614.10l2.30 2.30M94.30 618.70l2.30 2.30M94.30 623.30l2.30 2.30M94.30 627.90l2.30 2.30M94.30 632.50l2.30 2.30M94.30 637.10l2.30 2.30M94.30 641.70l2.30 2.30M94.30 646.30l2.30 2.30M94.30 650.90l2.30 2.30M94.30 655.50l2.30 2.30M94.30 660.10l2.30 2.30M94.30 664.70l2.30 2.30M94.30 669.30l2.30 2.30M94.30 673.90l2.30 2.30M94.30 678.50l2.30 2.30M94.30 683.10l2.30 2.30M94.30 687.70l2.30 2.30M94.30 692.30l2.30 2.30M94.30 696.90l2.30 2.30M94.30 701.50l2.30 2.30M94.30 706.10l2.30 2.30M98.90 466.90l2.30 2.30M98.90 471.50l2.30 2.30M98.90 476.10l2.30 2.30M98.90 480.70l2.30 2.30M98.90 485.30l2.30 2.30M98.90 489.90l2.30 2.30M98.90 494.50l2.30 2.30M98.90 499.10l2.30 2.30M98.90 503.70l2.30 2.30M98.90 508.30l2.30 2.30M98.90 512.90l2.30 2.30M98.90 517.50l2.30 2.30M98.90 522.10l2.30 2.30M98.90 526.70l2.30 2.30M98.90 531.30l2.30 2.30M98.90 535.90l2.30 2.30M98.90 540.50l2.30 2.30M98.90 545.10l2.30 2.30M98.90 549.70l2.30 2.30M98.90 554.30l2.30 2.30M98.90 558.90l2.30 2.30M98.90 563.50l2.30 2.30M98.90 568.10l2.30 2.30M98.90 572.70l2.30 2.30M98.90 577.30l2.30 2.30M98.90 581.90l2.30 2.30M98.90 586.50l2.30 2.30M98.90 591.10l2.30 2.30M98.90 595.70l2.30 2.30M98.90 600.30l2.30 2.30M98.90 604.90l2.30 2.30M98.90 609.50l2.30 2.30M98.90 614.10l2.30 2.30M98.90 618.70l2.30 2.30M98.90 623.30l2.30 2.30M98.90 627.90l2.30 2.30M98.90 632.50l2.30 2.30M98.90 637.10l2.30 2.30M98.90 641.70l2.30 2.30M98.90 646.30l2.30 2.30M98.90 650.90l2.30 2.30M98.90 655.50l2.30 2.30M98.90 660.10l2.30 2.30M98.90 664.70l2.30 2.30M98.90 669.30l2.30 2.30M98.90 673.90l2.30 2.30M98.90 678.50l2.30 2.30M98.90 683.10l2.30 2.30M98.90 687.70l2.30 2.30M98.90 692.30l2.30 2.30M98.90 696.90l2.30 2.30M98.90 701.50l2.30 2.30M98.90 706.10l2.30 2.30M103.50 466.90l2.30 2.30M103.50 471.50l2.30 2.30M103.50 476.10l2.30 2.30M103.50 480.70l2.30 2.30M103.50 485.30l2.30 2.30M103.50 489.90l2.30 2.30M103.50 494.50l2.30 2.30M103.50 499.10l2.30 2.30M103.50 503.70l2.30 2.30M103.50 508.30l2.30 2.30M103.50 512.90l2.30 2.30M103.50 517.50l2.30 2.30M103.50 522.10l2.30 2.30M103.50 526.70l2.30 2.30M103.50 531.30l2.30 2.30M103.50 535.90l2.30 2.30M103.50 540.50l2.30 2.30M103.50 545.10l2.30 2.30M103.50 549.70l2.30 2.30M103.50 554.30l2.30 2.30M103.50 558.90l2.30 2.30M103.50 563.50l2.30 2.30M103.50 568.10l2.30 2.30M103.50 572.70l2.30 2.30M103.50 577.30l2.30 2.30M103.50 581.90l2.30 2.30M103.50 586.50l2.30 2.30M103.50 591.10l2.30 2.30M103.50 595.70l2.30 2.30M103.50 600.30l2.30 2.30M103.50 604.90l2.30 2.30M103.50 609.50l2.30 2.30M103.50 614.10l2.30 2.30M103.50 618.70l2.30 2.30M103.50 623.30l2.30 2.30M103.50 627.90l2.30 2.30M103.50 632.50l2.30 2.30M103.50 637.10l2.30 2.30M103.50 641.70l2.30 2.30M103.50 646.30l2.30 2.30M103.50 650.90l2.30 2.30M103.50 655.50l2.30 2.30M103.50 660.10l2.30 2.30M103.50 664.70l2.30 2.30M103.50 669.30l2.30 2.30M103.50 673.90l2.30 2.30M103.50 678.50l2.30 2.30M103.50 683.10l2.30 2.30M103.50 687.70l2.30 2.30M103.50 692.30l2.30 2.30M103.50 696.90l2.30 2.30M103.50 701.50l2.30 2.30M103.50 706.10l2.30 2.30M108.10 466.90l2.30 2.30M108.10 471.50l2.30 2.30M108.10 476.10l2.30 2.30M108.10 480.70l2.30 2.30M108.10 485.30l2.30 2.30M108.10 489.90l2.30 2.30M108.10 494.50l2.30 2.30M108.10 499.10l2.30 2.30M108.10 503.70l2.30 2.30M108.10 508.30l2.30 2.30M108.10 512.90l2.30 2.30M108.10 517.50l2.30 2.30M108.10 522.10l2.30 2.30M108.10 526.70l2.30 2.30M108.10 531.30l2.30 2.30M108.10 535.90l2.30 2.30M108.10 540.50l2.30 2.30M108.10 545.10l2.30 2.30M108.10 549.70l2.30 2.30M108.10 554.30l2.30 2.30M108.10 558.90l2.30 2.30M108.10 563.50l2.30 2.30M108.10 568.10l2.30 2.30M108.10 572.70l2.30 2.30M108.10 577.30l2.30 2.30M108.10 581.90l2.30 2.30M108.10 586.50l2.30 2.30M108.10 591.10l2.30 2.30M108.10 595.70l2.30 2.30M108.10 600.30l2.30 2.30M108.10 604.90l2.30 2.30M108.10 609.50l2.30 2.30M108.10 614.10l2.30 2.30M108.10 618.70l2.30 2.30M108.10 623.30l2.30 2.30M108.10 627.90l2.30 2.30M108.10 632.50l2.30 2.30M108.10 637.10l2.30 2.30M108.10 641.70l2.30 2.30M108.10 646.30l2.30 2.30M108.10 650.90l2.30 2.30M108.10 655.50l2.30 2.30M108.10 660.10l2.30 2.30M108.10 664.70l2.30 2.30M108.10 669.30l2.30 2.30M108.10 673.90l2.30 2.30M108.10 678.50l2.30 2.30M108.10 683.10l2.30 2.30M108.10 687.70l2.30 2.30M108.10 692.30l2.30 2.30M108.10 696.90l2.30 2.30M108.10 701.50l2.30 2.30M108.10 706.10l2.30 2.30M112.70 466.90l2.30 2.30M112.70 471.50l2.30 2.30M112.70 476.10l2.30 2.30M112.70 480.70l2.30 2.30M112.70 485.30l2.30 2.30M112.70 489.90l2.30 2.30M112.70 494.50l2.30 2.30M112.70 499.10l2.30 2.30M112.70 503.70l2.30 2.30M112.70 508.30l2.30 2.30M112.70 512.90l2.30 2.30M112.70 517.50l2.30 2.30M112.70 522.10l2.30 2.30M112.70 526.70l2.30 2.30M112.70 531.30l2.30 2.30M112.70 535.90l2.30 2.30M112.70 540.50l2.30 2.30M112.70 545.10l2.30 2.30M112.70 549.70l2.30 2.30M112.70 554.30l2.30 2.30M112.70 558.90l2.30 2.30M112.70 563.50l2.30 2.30M112.70 568.10l2.30 2.30M112.70 572.70l2.30 2.30M112.70 577.30l2.30 2.30M112.70 581.90l2.30 2.30M112.70 586.50l2.30 2.30M112.70 591.10l2.30 2.30M112.70 595.70l2.30 2.30M112.70 600.30l2.30 2.30M112.70 604.90l2.30 2.30M112.70 609.50l2.30 2.30M112.70 614.10l2.30 2.30M112.70 618.70l2.30 2.30M112.70 623.30l2.30 2.30M112.70 627.90l2.30 2.30M112.70 632.50l2.30 2.30M112.70 637.10l2.30 2.30M112.70 641.70l2.30 2.30M112.70 646.30l2.30 2.30M112.70 650.90l2.30 2.30M112.70 655.50l2.30 2.30M112.70 660.10l2.30 2.30M112.70 664.70l2.30 2.30M112.70 669.30l2.30 2.30M112.70 673.90l2.30 2.30M112.70 678.50l2.30 2.30M112.70 683.10l2.30 2.30M112.70 687.70l2.30 2.30M112.70 692.30l2.30 2.30M112.70 696.90l2.30 2.30M112.70 701.50l2.30 2.30M112.70 706.10l2.30 2.30M117.30 466.90l2.30 2.30M117.30 471.50l2.30 2.30M117.30 476.10l2.30 2.30M117.30 480.70l2.30 2.30M117.30 485.30l2.30 2.30M117.30 489.90l2.30 2.30M117.30 494.50l2.30 2.30M117.30 499.10l2.30 2.30M117.30 503.70l2.30 2.30M117.30 508.30l2.30 2.30M117.30 512.90l2.30 2.30M117.30 517.50l2.30 2.30M117.30 522.10l2.30 2.30M117.30 526.70l2.30 2.30M117.30 531.30l2.30 2.30M117.30 535.90l2.30 2.30M117.30 540.50l2.30 2.30M117.30 545.10l2.30 2.30M117.30 549.70l2.30 2.30M117.30 554.30l2.30 2.30M117.30 558.90l2.30 2.30M117.30 563.50l2.30 2.30M117.30 568.10l2.30 2.30M117.30 572.70l2.30 2.30M117.30 577.30l2.30 2.30M117.30 581.90l2.30 2.30M117.30 586.50l2.30 2.30M117.30 591.10l2.30 2.30M117.30 595.70l2.30 2.30M117.30 600.30l2.30 2.30M117.30 604.90l2.30 2.30M117.30 609.50l2.30 2.30M117.30 614.10l2.30 2.30M117.30 618.70l2.30 2.30M117.30 623.30l2.30 2.30M117.30 627.90l2.30 2.30M117.30 632.50l2.30 2.30M117.30 637.10l2.30 2.30M117.30 641.70l2.30 2.30M117.30 646.30l2.30 2.30M117.30 650.90l2.30 2.30M117.30 655.50l2.30 2.30M117.30 660.10l2.30 2.30M117.30 664.70l2.30 2.30M117.30 669.30l2.30 2.30M117.30 673.90l2.30 2.30M117.30 678.50l2.30 2.30M117.30 683.10l2.30 2.30M117.30 687.70l2.30 2.30M117.30 692.30l2.30 2.30M117.30 696.90l2.30 2.30M117.30 701.50l2.30 2.30M117.30 706.10l2.30 2.30M121.90 466.90l2.30 2.30M121.90 471.50l2.30 2.30M121.90 476.10l2.30 2.30M121.90 480.70l2.30 2.30M121.90 485.30l2.30 2.30M121.90 489.90l2.30 2.30M121.90 494.50l2.30 2.30M121.90 499.10l2.30 2.30M121.90 503.70l2.30 2.30M121.90 508.30l2.30 2.30M121.90 512.90l2.30 2.30M121.90 517.50l2.30 2.30M121.90 522.10l2.30 2.30M121.90 526.70l2.30 2.30M121.90 531.30l2.30 2.30M121.90 535.90l2.30 2.30M121.90 540.50l2.30 2.30M121.90 545.10l2.30 2.30M121.90 549.70l2.30 2.30M121.90 554.30l2.30 2.30M121.90 558.90l2.30 2.30M121.90 563.50l2.30 2.30M121.90 568.10l2.30 2.30M121.90 572.70l2.30 2.30M121.90 577.30l2.30 2.30M121.90 581.90l2.30 2.30M121.90 586.50l2.30 2.30M121.90 591.10l2.30 2.30M121.90 595.70l2.30 2.30M121.90 600.30l2.30 2.30M121.90 604.90l2.30 2.30M121.90 609.50l2.30 2.30M121.90 614.10l2.30 2.30M121.90 618.70l2.30 2.30M121.90 623.30l2.30 2.30M121.90 627.90l2.30 2.30M121.90 632.50l2.30 2.30M121.90 637.10l2.30 2.30M121.90 641.70l2.30 2.30M121.90 646.30l2.30 2.30M121.90 650.90l2.30 2.30M121.90 655.50l2.30 2.30M121.90 660.10l2.30 2.30M121.90 664.70l2.30 2.30M121.90 669.30l2.30 2.30M121.90 673.90l2.30 2.30M121.90 678.50l2.30 2.30M121.90 683.10l2.30 2.30M121.90 687.70l2.30 2.30M121.90 692.30l2.30 2.30M121.90 696.90l2.30 2.30M121.90 701.50l2.30 2.30M121.90 706.10l2.30 2.30" stroke="#404040" stroke-width="0.95" fill="none"/></g>
<rect x="98.55" y="470.10" width="12.00" height="228.40" fill="none" stroke="#2e2e2e" stroke-width="1.05"/>
<path d="M104.55 466.40V481.20M102.95 466.40H106.15M102.95 481.20H106.15" stroke="#5c5c5c" stroke-width="1" fill="none"/>
<clipPath id="c22"><rect x="137.75" y="529.40" width="12.10" height="169.10"/></clipPath>
<rect x="137.75" y="529.40" width="12.10" height="169.10" fill="#fff"/>
<g clip-path="url(#c22)"><path d="M137 698.5h1M141 695.5h1M144 698.5h1M147 695.5h1M137 692.5h1M141 689.5h1M144 692.5h1M147 689.5h1M137 685.5h1M141 682.5h1M144 685.5h1M147 682.5h1M137 679.5h1M141 676.5h1M144 679.5h1M147 676.5h1M137 673.5h1M141 670.5h1M144 673.5h1M147 670.5h1M137 667.5h1M141 664.5h1M144 667.5h1M147 664.5h1M137 661.5h1M141 658.5h1M144 661.5h1M147 658.5h1M137 655.5h1M141 652.5h1M144 655.5h1M147 652.5h1M137 649.5h1M141 645.5h1M144 649.5h1M147 645.5h1M137 642.5h1M141 639.5h1M144 642.5h1M147 639.5h1M137 636.5h1M141 633.5h1M144 636.5h1M147 633.5h1M137 630.5h1M141 627.5h1M144 630.5h1M147 627.5h1M137 624.5h1M141 621.5h1M144 624.5h1M147 621.5h1M137 618.5h1M141 615.5h1M144 618.5h1M147 615.5h1M137 612.5h1M141 608.5h1M144 612.5h1M147 608.5h1M137 605.5h1M141 602.5h1M144 605.5h1M147 602.5h1M137 599.5h1M141 596.5h1M144 599.5h1M147 596.5h1M137 593.5h1M141 590.5h1M144 593.5h1M147 590.5h1M137 587.5h1M141 584.5h1M144 587.5h1M147 584.5h1M137 581.5h1M141 578.5h1M144 581.5h1M147 578.5h1M137 575.5h1M141 572.5h1M144 575.5h1M147 572.5h1M137 568.5h1M141 565.5h1M144 568.5h1M147 565.5h1M137 562.5h1M141 559.5h1M144 562.5h1M147 559.5h1M137 556.5h1M141 553.5h1M144 556.5h1M147 553.5h1M137 550.5h1M141 547.5h1M144 550.5h1M147 547.5h1M137 544.5h1M141 541.5h1M144 544.5h1M147 541.5h1M137 538.5h1M141 535.5h1M144 538.5h1M147 535.5h1M137 531.5h1M141 528.5h1M144 531.5h1M147 528.5h1M137 525.5h1M141 522.5h1M144 525.5h1M147 522.5h1" stroke="#808080" stroke-width="1" fill="none"/></g>
<rect x="137.75" y="529.40" width="12.10" height="169.10" fill="none" stroke="#2e2e2e" stroke-width="1.05"/>
<path d="M143.80 525.00V542.20M142.20 525.00H145.40M142.20 542.20H145.40" stroke="#5c5c5c" stroke-width="1" fill="none"/>
<clipPath id="c23"><rect x="153.55" y="473.70" width="12.10" height="224.80"/></clipPath>
<rect x="153.55" y="473.70" width="12.10" height="224.80" fill="#fff"/>
<g clip-path="url(#c23)"><path d="M152.55 469.95L166.65 455.85M152.55 472.45L166.65 458.35M152.55 474.95L166.65 460.85M152.55 477.45L166.65 463.35M152.55 479.95L166.65 465.85M152.55 482.45L166.65 468.35M152.55 484.95L166.65 470.85M152.55 487.45L166.65 473.35M152.55 489.95L166.65 475.85M152.55 492.45L166.65 478.35M152.55 494.95L166.65 480.85M152.55 497.45L166.65 483.35M152.55 499.95L166.65 485.85M152.55 502.45L166.65 488.35M152.55 504.95L166.65 490.85M152.55 507.45L166.65 493.35M152.55 509.95L166.65 495.85M152.55 512.45L166.65 498.35M152.55 514.95L166.65 500.85M152.55 517.45L166.65 503.35M152.55 519.95L166.65 505.85M152.55 522.45L166.65 508.35M152.55 524.95L166.65 510.85M152.55 527.45L166.65 513.35M152.55 529.95L166.65 515.85M152.55 532.45L166.65 518.35M152.55 534.95L166.65 520.85M152.55 537.45L166.65 523.35M152.55 539.95L166.65 525.85M152.55 542.45L166.65 528.35M152.55 544.95L166.65 530.85M152.55 547.45L166.65 533.35M152.55 549.95L166.65 535.85M152.55 552.45L166.65 538.35M152.55 554.95L166.65 540.85M152.55 557.45L166.65 543.35M152.55 559.95L166.65 545.85M152.55 562.45L166.65 548.35M152.55 564.95L166.65 550.85M152.55 567.45L166.65 553.35M152.55 569.95L166.65 555.85M152.55 572.45L166.65 558.35M152.55 574.95L166.65 560.85M152.55 577.45L166.65 563.35M152.55 579.95L166.65 565.85M152.55 582.45L166.65 568.35M152.55 584.95L166.65 570.85M152.55 587.45L166.65 573.35M152.55 589.95L166.65 575.85M152.55 592.45L166.65 578.35M152.55 594.95L166.65 580.85M152.55 597.45L166.65 583.35M152.55 599.95L166.65 585.85M152.55 602.45L166.65 588.35M152.55 604.95L166.65 590.85M152.55 607.45L166.65 593.35M152.55 609.95L166.65 595.85M152.55 612.45L166.65 598.35M152.55 614.95L166.65 600.85M152.55 617.45L166.65 603.35M152.55 619.95L166.65 605.85M152.55 622.45L166.65 608.35M152.55 624.95L166.65 610.85M152.55 627.45L166.65 613.35M152.55 629.95L166.65 615.85M152.55 632.45L166.65 618.35M152.55 634.95L166.65 620.85M152.55 637.45L166.65 623.35M152.55 639.95L166.65 625.85M152.55 642.45L166.65 628.35M152.55 644.95L166.65 630.85M152.55 647.45L166.65 633.35M152.55 649.95L166.65 635.85M152.55 652.45L166.65 638.35M152.55 654.95L166.65 640.85M152.55 657.45L166.65 643.35M152.55 659.95L166.65 645.85M152.55 662.45L166.65 648.35M152.55 664.95L166.65 650.85M152.55 667.45L166.65 653.35M152.55 669.95L166.65 655.85M152.55 672.45L166.65 658.35M152.55 674.95L166.65 660.85M152.55 677.45L166.65 663.35M152.55 679.95L166.65 665.85M152.55 682.45L166.65 668.35M152.55 684.95L166.65 670.85M152.55 687.45L166.65 673.35M152.55 689.95L166.65 675.85M152.55 692.45L166.65 678.35M152.55 694.95L166.65 680.85M152.55 697.45L166.65 683.35M152.55 699.95L166.65 685.85M152.55 702.45L166.65 688.35M152.55 704.95L166.65 690.85M152.55 707.45L166.65 693.35M152.55 709.95L166.65 695.85M152.55 712.45L166.65 698.35M152.55 714.95L166.65 700.85" stroke="#2c2c2c" stroke-width="0.86" fill="none"/></g>
<rect x="153.55" y="473.70" width="12.10" height="224.80" fill="none" stroke="#2e2e2e" stroke-width="1.05"/>
<path d="M159.60 469.20V487.60M158.00 469.20H161.20M158.00 487.60H161.20" stroke="#5c5c5c" stroke-width="1" fill="none"/>
<clipPath id="c24"><rect x="168.85" y="527.40" width="12.40" height="171.10"/></clipPath>
<rect x="168.85" y="527.40" width="12.40" height="171.10" fill="#fff"/>
<g clip-path="url(#c24)"><path d="M167.85 522.15L182.25 507.75M167.85 526.75L182.25 512.35M167.85 531.35L182.25 516.95M167.85 535.95L182.25 521.55M167.85 540.55L182.25 526.15M167.85 545.15L182.25 530.75M167.85 549.75L182.25 535.35M167.85 554.35L182.25 539.95M167.85 558.95L182.25 544.55M167.85 563.55L182.25 549.15M167.85 568.15L182.25 553.75M167.85 572.75L182.25 558.35M167.85 577.35L182.25 562.95M167.85 581.95L182.25 567.55M167.85 586.55L182.25 572.15M167.85 591.15L182.25 576.75M167.85 595.75L182.25 581.35M167.85 600.35L182.25 585.95M167.85 604.95L182.25 590.55M167.85 609.55L182.25 595.15M167.85 614.15L182.25 599.75M167.85 618.75L182.25 604.35M167.85 623.35L182.25 608.95M167.85 627.95L182.25 613.55M167.85 632.55L182.25 618.15M167.85 637.15L182.25 622.75M167.85 641.75L182.25 627.35M167.85 646.35L182.25 631.95M167.85 650.95L182.25 636.55M167.85 655.55L182.25 641.15M167.85 660.15L182.25 645.75M167.85 664.75L182.25 650.35M167.85 669.35L182.25 654.95M167.85 673.95L182.25 659.55M167.85 678.55L182.25 664.15M167.85 683.15L182.25 668.75M167.85 687.75L182.25 673.35M167.85 692.35L182.25 677.95M167.85 696.95L182.25 682.55M167.85 701.55L182.25 687.15M167.85 706.15L182.25 691.75M167.85 710.75L182.25 696.35M167.85 715.35L182.25 700.95M167.85 719.95L182.25 705.55M163.30 522.10l2.30 2.30M163.30 526.70l2.30 2.30M163.30 531.30l2.30 2.30M163.30 535.90l2.30 2.30M163.30 540.50l2.30 2.30M163.30 545.10l2.30 2.30M163.30 549.70l2.30 2.30M163.30 554.30l2.30 2.30M163.30 558.90l2.30 2.30M163.30 563.50l2.30 2.30M163.30 568.10l2.30 2.30M163.30 572.70l2.30 2.30M163.30 577.30l2.30 2.30M163.30 581.90l2.30 2.30M163.30 586.50l2.30 2.30M163.30 591.10l2.30 2.30M163.30 595.70l2.30 2.30M163.30 600.30l2.30 2.30M163.30 604.90l2.30 2.30M163.30 609.50l2.30 2.30M163.30 614.10l2.30 2.30M163.30 618.70l2.30 2.30M163.30 623.30l2.30 2.30M163.30 627.90l2.30 2.30M163.30 632.50l2.30 2.30M163.30 637.10l2.30 2.30M163.30 641.70l2.30 2.30M163.30 646.30l2.30 2.30M163.30 650.90l2.30 2.30M163.30 655.50l2.30 2.30M163.30 660.10l2.30 2.30M163.30 664.70l2.30 2.30M163.30 669.30l2.30 2.30M163.30 673.90l2.30 2.30M163.30 678.50l2.30 2.30M163.30 683.10l2.30 2.30M163.30 687.70l2.30 2.30M163.30 692.30l2.30 2.30M163.30 696.90l2.30 2.30M163.30 701.50l2.30 2.30M163.30 706.10l2.30 2.30M167.90 522.10l2.30 2.30M167.90 526.70l2.30 2.30M167.90 531.30l2.30 2.30M167.90 535.90l2.30 2.30M167.90 540.50l2.30 2.30M167.90 545.10l2.30 2.30M167.90 549.70l2.30 2.30M167.90 554.30l2.30 2.30M167.90 558.90l2.30 2.30M167.90 563.50l2.30 2.30M167.90 568.10l2.30 2.30M167.90 572.70l2.30 2.30M167.90 577.30l2.30 2.30M167.90 581.90l2.30 2.30M167.90 586.50l2.30 2.30M167.90 591.10l2.30 2.30M167.90 595.70l2.30 2.30M167.90 600.30l2.30 2.30M167.90 604.90l2.30 2.30M167.90 609.50l2.30 2.30M167.90 614.10l2.30 2.30M167.90 618.70l2.30 2.30M167.90 623.30l2.30 2.30M167.90 627.90l2.30 2.30M167.90 632.50l2.30 2.30M167.90 637.10l2.30 2.30M167.90 641.70l2.30 2.30M167.90 646.30l2.30 2.30M167.90 650.90l2.30 2.30M167.90 655.50l2.30 2.30M167.90 660.10l2.30 2.30M167.90 664.70l2.30 2.30M167.90 669.30l2.30 2.30M167.90 673.90l2.30 2.30M167.90 678.50l2.30 2.30M167.90 683.10l2.30 2.30M167.90 687.70l2.30 2.30M167.90 692.30l2.30 2.30M167.90 696.90l2.30 2.30M167.90 701.50l2.30 2.30M167.90 706.10l2.30 2.30M172.50 522.10l2.30 2.30M172.50 526.70l2.30 2.30M172.50 531.30l2.30 2.30M172.50 535.90l2.30 2.30M172.50 540.50l2.30 2.30M172.50 545.10l2.30 2.30M172.50 549.70l2.30 2.30M172.50 554.30l2.30 2.30M172.50 558.90l2.30 2.30M172.50 563.50l2.30 2.30M172.50 568.10l2.30 2.30M172.50 572.70l2.30 2.30M172.50 577.30l2.30 2.30M172.50 581.90l2.30 2.30M172.50 586.50l2.30 2.30M172.50 591.10l2.30 2.30M172.50 595.70l2.30 2.30M172.50 600.30l2.30 2.30M172.50 604.90l2.30 2.30M172.50 609.50l2.30 2.30M172.50 614.10l2.30 2.30M172.50 618.70l2.30 2.30M172.50 623.30l2.30 2.30M172.50 627.90l2.30 2.30M172.50 632.50l2.30 2.30M172.50 637.10l2.30 2.30M172.50 641.70l2.30 2.30M172.50 646.30l2.30 2.30M172.50 650.90l2.30 2.30M172.50 655.50l2.30 2.30M172.50 660.10l2.30 2.30M172.50 664.70l2.30 2.30M172.50 669.30l2.30 2.30M172.50 673.90l2.30 2.30M172.50 678.50l2.30 2.30M172.50 683.10l2.30 2.30M172.50 687.70l2.30 2.30M172.50 692.30l2.30 2.30M172.50 696.90l2.30 2.30M172.50 701.50l2.30 2.30M172.50 706.10l2.30 2.30M177.10 522.10l2.30 2.30M177.10 526.70l2.30 2.30M177.10 531.30l2.30 2.30M177.10 535.90l2.30 2.30M177.10 540.50l2.30 2.30M177.10 545.10l2.30 2.30M177.10 549.70l2.30 2.30M177.10 554.30l2.30 2.30M177.10 558.90l2.30 2.30M177.10 563.50l2.30 2.30M177.10 568.10l2.30 2.30M177.10 572.70l2.30 2.30M177.10 577.30l2.30 2.30M177.10 581.90l2.30 2.30M177.10 586.50l2.30 2.30M177.10 591.10l2.30 2.30M177.10 595.70l2.30 2.30M177.10 600.30l2.30 2.30M177.10 604.90l2.30 2.30M177.10 609.50l2.30 2.30M177.10 614.10l2.30 2.30M177.10 618.70l2.30 2.30M177.10 623.30l2.30 2.30M177.10 627.90l2.30 2.30M177.10 632.50l2.30 2.30M177.10 637.10l2.30 2.30M177.10 641.70l2.30 2.30M177.10 646.30l2.30 2.30M177.10 650.90l2.30 2.30M177.10 655.50l2.30 2.30M177.10 660.10l2.30 2.30M177.10 664.70l2.30 2.30M177.10 669.30l2.30 2.30M177.10 673.90l2.30 2.30M177.10 678.50l2.30 2.30M177.10 683.10l2.30 2.30M177.10 687.70l2.30 2.30M177.10 692.30l2.30 2.30M177.10 696.90l2.30 2.30M177.10 701.50l2.30 2.30M177.10 706.10l2.30 2.30M181.70 522.10l2.30 2.30M181.70 526.70l2.30 2.30M181.70 531.30l2.30 2.30M181.70 535.90l2.30 2.30M181.70 540.50l2.30 2.30M181.70 545.10l2.30 2.30M181.70 549.70l2.30 2.30M181.70 554.30l2.30 2.30M181.70 558.90l2.30 2.30M181.70 563.50l2.30 2.30M181.70 568.10l2.30 2.30M181.70 572.70l2.30 2.30M181.70 577.30l2.30 2.30M181.70 581.90l2.30 2.30M181.70 586.50l2.30 2.30M181.70 591.10l2.30 2.30M181.70 595.70l2.30 2.30M181.70 600.30l2.30 2.30M181.70 604.90l2.30 2.30M181.70 609.50l2.30 2.30M181.70 614.10l2.30 2.30M181.70 618.70l2.30 2.30M181.70 623.30l2.30 2.30M181.70 627.90l2.30 2.30M181.70 632.50l2.30 2.30M181.70 637.10l2.30 2.30M181.70 641.70l2.30 2.30M181.70 646.30l2.30 2.30M181.70 650.90l2.30 2.30M181.70 655.50l2.30 2.30M181.70 660.10l2.30 2.30M181.70 664.70l2.30 2.30M181.70 669.30l2.30 2.30M181.70 673.90l2.30 2.30M181.70 678.50l2.30 2.30M181.70 683.10l2.30 2.30M181.70 687.70l2.30 2.30M181.70 692.30l2.30 2.30M181.70 696.90l2.30 2.30M181.70 701.50l2.30 2.30M181.70 706.10l2.30 2.30M186.30 522.10l2.30 2.30M186.30 526.70l2.30 2.30M186.30 531.30l2.30 2.30M186.30 535.90l2.30 2.30M186.30 540.50l2.30 2.30M186.30 545.10l2.30 2.30M186.30 549.70l2.30 2.30M186.30 554.30l2.30 2.30M186.30 558.90l2.30 2.30M186.30 563.50l2.30 2.30M186.30 568.10l2.30 2.30M186.30 572.70l2.30 2.30M186.30 577.30l2.30 2.30M186.30 581.90l2.30 2.30M186.30 586.50l2.30 2.30M186.30 591.10l2.30 2.30M186.30 595.70l2.30 2.30M186.30 600.30l2.30 2.30M186.30 604.90l2.30 2.30M186.30 609.50l2.30 2.30M186.30 614.10l2.30 2.30M186.30 618.70l2.30 2.30M186.30 623.30l2.30 2.30M186.30 627.90l2.30 2.30M186.30 632.50l2.30 2.30M186.30 637.10l2.30 2.30M186.30 641.70l2.30 2.30M186.30 646.30l2.30 2.30M186.30 650.90l2.30 2.30M186.30 655.50l2.30 2.30M186.30 660.10l2.30 2.30M186.30 664.70l2.30 2.30M186.30 669.30l2.30 2.30M186.30 673.90l2.30 2.30M186.30 678.50l2.30 2.30M186.30 683.10l2.30 2.30M186.30 687.70l2.30 2.30M186.30 692.30l2.30 2.30M186.30 696.90l2.30 2.30M186.30 701.50l2.30 2.30M186.30 706.10l2.30 2.30M190.90 522.10l2.30 2.30M190.90 526.70l2.30 2.30M190.90 531.30l2.30 2.30M190.90 535.90l2.30 2.30M190.90 540.50l2.30 2.30M190.90 545.10l2.30 2.30M190.90 549.70l2.30 2.30M190.90 554.30l2.30 2.30M190.90 558.90l2.30 2.30M190.90 563.50l2.30 2.30M190.90 568.10l2.30 2.30M190.90 572.70l2.30 2.30M190.90 577.30l2.30 2.30M190.90 581.90l2.30 2.30M190.90 586.50l2.30 2.30M190.90 591.10l2.30 2.30M190.90 595.70l2.30 2.30M190.90 600.30l2.30 2.30M190.90 604.90l2.30 2.30M190.90 609.50l2.30 2.30M190.90 614.10l2.30 2.30M190.90 618.70l2.30 2.30M190.90 623.30l2.30 2.30M190.90 627.90l2.30 2.30M190.90 632.50l2.30 2.30M190.90 637.10l2.30 2.30M190.90 641.70l2.30 2.30M190.90 646.30l2.30 2.30M190.90 650.90l2.30 2.30M190.90 655.50l2.30 2.30M190.90 660.10l2.30 2.30M190.90 664.70l2.30 2.30M190.90 669.30l2.30 2.30M190.90 673.90l2.30 2.30M190.90 678.50l2.30 2.30M190.90 683.10l2.30 2.30M190.90 687.70l2.30 2.30M190.90 692.30l2.30 2.30M190.90 696.90l2.30 2.30M190.90 701.50l2.30 2.30M190.90 706.10l2.30 2.30" stroke="#404040" stroke-width="0.95" fill="none"/></g>
<rect x="168.85" y="527.40" width="12.40" height="171.10" fill="none" stroke="#2e2e2e" stroke-width="1.05"/>
<path d="M175.05 524.30V538.80M173.45 524.30H176.65M173.45 538.80H176.65" stroke="#5c5c5c" stroke-width="1" fill="none"/>
<clipPath id="c25"><rect x="208.55" y="528.10" width="12.40" height="170.40"/></clipPath>
<rect x="208.55" y="528.10" width="12.40" height="170.40" fill="#fff"/>
<g clip-path="url(#c25)"><path d="M208 698.5h1M211 695.5h1M215 698.5h1M218 695.5h1M221 698.5h1M224 695.5h1M208 692.5h1M211 689.5h1M215 692.5h1M218 689.5h1M221 692.5h1M224 689.5h1M208 685.5h1M211 682.5h1M215 685.5h1M218 682.5h1M221 685.5h1M224 682.5h1M208 679.5h1M211 676.5h1M215 679.5h1M218 676.5h1M221 679.5h1M224 676.5h1M208 673.5h1M211 670.5h1M215 673.5h1M218 670.5h1M221 673.5h1M224 670.5h1M208 667.5h1M211 664.5h1M215 667.5h1M218 664.5h1M221 667.5h1M224 664.5h1M208 661.5h1M211 658.5h1M215 661.5h1M218 658.5h1M221 661.5h1M224 658.5h1M208 655.5h1M211 652.5h1M215 655.5h1M218 652.5h1M221 655.5h1M224 652.5h1M208 649.5h1M211 645.5h1M215 649.5h1M218 645.5h1M221 649.5h1M224 645.5h1M208 642.5h1M211 639.5h1M215 642.5h1M218 639.5h1M221 642.5h1M224 639.5h1M208 636.5h1M211 633.5h1M215 636.5h1M218 633.5h1M221 636.5h1M224 633.5h1M208 630.5h1M211 627.5h1M215 630.5h1M218 627.5h1M221 630.5h1M224 627.5h1M208 624.5h1M211 621.5h1M215 624.5h1M218 621.5h1M221 624.5h1M224 621.5h1M208 618.5h1M211 615.5h1M215 618.5h1M218 615.5h1M221 618.5h1M224 615.5h1M208 612.5h1M211 608.5h1M215 612.5h1M218 608.5h1M221 612.5h1M224 608.5h1M208 605.5h1M211 602.5h1M215 605.5h1M218 602.5h1M221 605.5h1M224 602.5h1M208 599.5h1M211 596.5h1M215 599.5h1M218 596.5h1M221 599.5h1M224 596.5h1M208 593.5h1M211 590.5h1M215 593.5h1M218 590.5h1M221 593.5h1M224 590.5h1M208 587.5h1M211 584.5h1M215 587.5h1M218 584.5h1M221 587.5h1M224 584.5h1M208 581.5h1M211 578.5h1M215 581.5h1M218 578.5h1M221 581.5h1M224 578.5h1M208 575.5h1M211 572.5h1M215 575.5h1M218 572.5h1M221 575.5h1M224 572.5h1M208 568.5h1M211 565.5h1M215 568.5h1M218 565.5h1M221 568.5h1M224 565.5h1M208 562.5h1M211 559.5h1M215 562.5h1M218 559.5h1M221 562.5h1M224 559.5h1M208 556.5h1M211 553.5h1M215 556.5h1M218 553.5h1M221 556.5h1M224 553.5h1M208 550.5h1M211 547.5h1M215 550.5h1M218 547.5h1M221 550.5h1M224 547.5h1M208 544.5h1M211 541.5h1M215 544.5h1M218 541.5h1M221 544.5h1M224 541.5h1M208 538.5h1M211 535.5h1M215 538.5h1M218 535.5h1M221 538.5h1M224 535.5h1M208 531.5h1M211 528.5h1M215 531.5h1M218 528.5h1M221 531.5h1M224 528.5h1M208 525.5h1M211 522.5h1M215 525.5h1M218 522.5h1M221 525.5h1M224 522.5h1" stroke="#808080" stroke-width="1" fill="none"/></g>
<rect x="208.55" y="528.10" width="12.40" height="170.40" fill="none" stroke="#2e2e2e" stroke-width="1.05"/>
<path d="M214.75 521.50V547.50M213.15 521.50H216.35M213.15 547.50H216.35" stroke="#5c5c5c" stroke-width="1" fill="none"/>
<clipPath id="c26"><rect x="223.85" y="473.70" width="12.60" height="224.80"/></clipPath>
<rect x="223.85" y="473.70" width="12.60" height="224.80" fill="#fff"/>
<g clip-path="url(#c26)"><path d="M222.85 472.15L237.45 457.55M222.85 474.65L237.45 460.05M222.85 477.15L237.45 462.55M222.85 479.65L237.45 465.05M222.85 482.15L237.45 467.55M222.85 484.65L237.45 470.05M222.85 487.15L237.45 472.55M222.85 489.65L237.45 475.05M222.85 492.15L237.45 477.55M222.85 494.65L237.45 480.05M222.85 497.15L237.45 482.55M222.85 499.65L237.45 485.05M222.85 502.15L237.45 487.55M222.85 504.65L237.45 490.05M222.85 507.15L237.45 492.55M222.85 509.65L237.45 495.05M222.85 512.15L237.45 497.55M222.85 514.65L237.45 500.05M222.85 517.15L237.45 502.55M222.85 519.65L237.45 505.05M222.85 522.15L237.45 507.55M222.85 524.65L237.45 510.05M222.85 527.15L237.45 512.55M222.85 529.65L237.45 515.05M222.85 532.15L237.45 517.55M222.85 534.65L237.45 520.05M222.85 537.15L237.45 522.55M222.85 539.65L237.45 525.05M222.85 542.15L237.45 527.55M222.85 544.65L237.45 530.05M222.85 547.15L237.45 532.55M222.85 549.65L237.45 535.05M222.85 552.15L237.45 537.55M222.85 554.65L237.45 540.05M222.85 557.15L237.45 542.55M222.85 559.65L237.45 545.05M222.85 562.15L237.45 547.55M222.85 564.65L237.45 550.05M222.85 567.15L237.45 552.55M222.85 569.65L237.45 555.05M222.85 572.15L237.45 557.55M222.85 574.65L237.45 560.05M222.85 577.15L237.45 562.55M222.85 579.65L237.45 565.05M222.85 582.15L237.45 567.55M222.85 584.65L237.45 570.05M222.85 587.15L237.45 572.55M222.85 589.65L237.45 575.05M222.85 592.15L237.45 577.55M222.85 594.65L237.45 580.05M222.85 597.15L237.45 582.55M222.85 599.65L237.45 585.05M222.85 602.15L237.45 587.55M222.85 604.65L237.45 590.05M222.85 607.15L237.45 592.55M222.85 609.65L237.45 595.05M222.85 612.15L237.45 597.55M222.85 614.65L237.45 600.05M222.85 617.15L237.45 602.55M222.85 619.65L237.45 605.05M222.85 622.15L237.45 607.55M222.85 624.65L237.45 610.05M222.85 627.15L237.45 612.55M222.85 629.65L237.45 615.05M222.85 632.15L237.45 617.55M222.85 634.65L237.45 620.05M222.85 637.15L237.45 622.55M222.85 639.65L237.45 625.05M222.85 642.15L237.45 627.55M222.85 644.65L237.45 630.05M222.85 647.15L237.45 632.55M222.85 649.65L237.45 635.05M222.85 652.15L237.45 637.55M222.85 654.65L237.45 640.05M222.85 657.15L237.45 642.55M222.85 659.65L237.45 645.05M222.85 662.15L237.45 647.55M222.85 664.65L237.45 650.05M222.85 667.15L237.45 652.55M222.85 669.65L237.45 655.05M222.85 672.15L237.45 657.55M222.85 674.65L237.45 660.05M222.85 677.15L237.45 662.55M222.85 679.65L237.45 665.05M222.85 682.15L237.45 667.55M222.85 684.65L237.45 670.05M222.85 687.15L237.45 672.55M222.85 689.65L237.45 675.05M222.85 692.15L237.45 677.55M222.85 694.65L237.45 680.05M222.85 697.15L237.45 682.55M222.85 699.65L237.45 685.05M222.85 702.15L237.45 687.55M222.85 704.65L237.45 690.05M222.85 707.15L237.45 692.55M222.85 709.65L237.45 695.05M222.85 712.15L237.45 697.55M222.85 714.65L237.45 700.05" stroke="#2c2c2c" stroke-width="0.86" fill="none"/></g>
<rect x="223.85" y="473.70" width="12.60" height="224.80" fill="none" stroke="#2e2e2e" stroke-width="1.05"/>
<path d="M230.15 470.10V485.30M228.55 470.10H231.75M228.55 485.30H231.75" stroke="#5c5c5c" stroke-width="1" fill="none"/>
<clipPath id="c27"><rect x="239.95" y="524.50" width="12.30" height="174.00"/></clipPath>
<rect x="239.95" y="524.50" width="12.30" height="174.00" fill="#fff"/>
<g clip-path="url(#c27)"><path d="M238.95 520.05L253.25 505.75M238.95 524.65L253.25 510.35M238.95 529.25L253.25 514.95M238.95 533.85L253.25 519.55M238.95 538.45L253.25 524.15M238.95 543.05L253.25 528.75M238.95 547.65L253.25 533.35M238.95 552.25L253.25 537.95M238.95 556.85L253.25 542.55M238.95 561.45L253.25 547.15M238.95 566.05L253.25 551.75M238.95 570.65L253.25 556.35M238.95 575.25L253.25 560.95M238.95 579.85L253.25 565.55M238.95 584.45L253.25 570.15M238.95 589.05L253.25 574.75M238.95 593.65L253.25 579.35M238.95 598.25L253.25 583.95M238.95 602.85L253.25 588.55M238.95 607.45L253.25 593.15M238.95 612.05L253.25 597.75M238.95 616.65L253.25 602.35M238.95 621.25L253.25 606.95M238.95 625.85L253.25 611.55M238.95 630.45L253.25 616.15M238.95 635.05L253.25 620.75M238.95 639.65L253.25 625.35M238.95 644.25L253.25 629.95M238.95 648.85L253.25 634.55M238.95 653.45L253.25 639.15M238.95 658.05L253.25 643.75M238.95 662.65L253.25 648.35M238.95 667.25L253.25 652.95M238.95 671.85L253.25 657.55M238.95 676.45L253.25 662.15M238.95 681.05L253.25 666.75M238.95 685.65L253.25 671.35M238.95 690.25L253.25 675.95M238.95 694.85L253.25 680.55M238.95 699.45L253.25 685.15M238.95 704.05L253.25 689.75M238.95 708.65L253.25 694.35M238.95 713.25L253.25 698.95M238.95 717.85L253.25 703.55M236.90 522.10l2.30 2.30M236.90 526.70l2.30 2.30M236.90 531.30l2.30 2.30M236.90 535.90l2.30 2.30M236.90 540.50l2.30 2.30M236.90 545.10l2.30 2.30M236.90 549.70l2.30 2.30M236.90 554.30l2.30 2.30M236.90 558.90l2.30 2.30M236.90 563.50l2.30 2.30M236.90 568.10l2.30 2.30M236.90 572.70l2.30 2.30M236.90 577.30l2.30 2.30M236.90 581.90l2.30 2.30M236.90 586.50l2.30 2.30M236.90 591.10l2.30 2.30M236.90 595.70l2.30 2.30M236.90 600.30l2.30 2.30M236.90 604.90l2.30 2.30M236.90 609.50l2.30 2.30M236.90 614.10l2.30 2.30M236.90 618.70l2.30 2.30M236.90 623.30l2.30 2.30M236.90 627.90l2.30 2.30M236.90 632.50l2.30 2.30M236.90 637.10l2.30 2.30M236.90 641.70l2.30 2.30M236.90 646.30l2.30 2.30M236.90 650.90l2.30 2.30M236.90 655.50l2.30 2.30M236.90 660.10l2.30 2.30M236.90 664.70l2.30 2.30M236.90 669.30l2.30 2.30M236.90 673.90l2.30 2.30M236.90 678.50l2.30 2.30M236.90 683.10l2.30 2.30M236.90 687.70l2.30 2.30M236.90 692.30l2.30 2.30M236.90 696.90l2.30 2.30M236.90 701.50l2.30 2.30M236.90 706.10l2.30 2.30M241.50 522.10l2.30 2.30M241.50 526.70l2.30 2.30M241.50 531.30l2.30 2.30M241.50 535.90l2.30 2.30M241.50 540.50l2.30 2.30M241.50 545.10l2.30 2.30M241.50 549.70l2.30 2.30M241.50 554.30l2.30 2.30M241.50 558.90l2.30 2.30M241.50 563.50l2.30 2.30M241.50 568.10l2.30 2.30M241.50 572.70l2.30 2.30M241.50 577.30l2.30 2.30M241.50 581.90l2.30 2.30M241.50 586.50l2.30 2.30M241.50 591.10l2.30 2.30M241.50 595.70l2.30 2.30M241.50 600.30l2.30 2.30M241.50 604.90l2.30 2.30M241.50 609.50l2.30 2.30M241.50 614.10l2.30 2.30M241.50 618.70l2.30 2.30M241.50 623.30l2.30 2.30M241.50 627.90l2.30 2.30M241.50 632.50l2.30 2.30M241.50 637.10l2.30 2.30M241.50 641.70l2.30 2.30M241.50 646.30l2.30 2.30M241.50 650.90l2.30 2.30M241.50 655.50l2.30 2.30M241.50 660.10l2.30 2.30M241.50 664.70l2.30 2.30M241.50 669.30l2.30 2.30M241.50 673.90l2.30 2.30M241.50 678.50l2.30 2.30M241.50 683.10l2.30 2.30M241.50 687.70l2.30 2.30M241.50 692.30l2.30 2.30M241.50 696.90l2.30 2.30M241.50 701.50l2.30 2.30M241.50 706.10l2.30 2.30M246.10 522.10l2.30 2.30M246.10 526.70l2.30 2.30M246.10 531.30l2.30 2.30M246.10 535.90l2.30 2.30M246.10 540.50l2.30 2.30M246.10 545.10l2.30 2.30M246.10 549.70l2.30 2.30M246.10 554.30l2.30 2.30M246.10 558.90l2.30 2.30M246.10 563.50l2.30 2.30M246.10 568.10l2.30 2.30M246.10 572.70l2.30 2.30M246.10 577.30l2.30 2.30M246.10 581.90l2.30 2.30M246.10 586.50l2.30 2.30M246.10 591.10l2.30 2.30M246.10 595.70l2.30 2.30M246.10 600.30l2.30 2.30M246.10 604.90l2.30 2.30M246.10 609.50l2.30 2.30M246.10 614.10l2.30 2.30M246.10 618.70l2.30 2.30M246.10 623.30l2.30 2.30M246.10 627.90l2.30 2.30M246.10 632.50l2.30 2.30M246.10 637.10l2.30 2.30M246.10 641.70l2.30 2.30M246.10 646.30l2.30 2.30M246.10 650.90l2.30 2.30M246.10 655.50l2.30 2.30M246.10 660.10l2.30 2.30M246.10 664.70l2.30 2.30M246.10 669.30l2.30 2.30M246.10 673.90l2.30 2.30M246.10 678.50l2.30 2.30M246.10 683.10l2.30 2.30M246.10 687.70l2.30 2.30M246.10 692.30l2.30 2.30M246.10 696.90l2.30 2.30M246.10 701.50l2.30 2.30M246.10 706.10l2.30 2.30M250.70 522.10l2.30 2.30M250.70 526.70l2.30 2.30M250.70 531.30l2.30 2.30M250.70 535.90l2.30 2.30M250.70 540.50l2.30 2.30M250.70 545.10l2.30 2.30M250.70 549.70l2.30 2.30M250.70 554.30l2.30 2.30M250.70 558.90l2.30 2.30M250.70 563.50l2.30 2.30M250.70 568.10l2.30 2.30M250.70 572.70l2.30 2.30M250.70 577.30l2.30 2.30M250.70 581.90l2.30 2.30M250.70 586.50l2.30 2.30M250.70 591.10l2.30 2.30M250.70 595.70l2.30 2.30M250.70 600.30l2.30 2.30M250.70 604.90l2.30 2.30M250.70 609.50l2.30 2.30M250.70 614.10l2.30 2.30M250.70 618.70l2.30 2.30M250.70 623.30l2.30 2.30M250.70 627.90l2.30 2.30M250.70 632.50l2.30 2.30M250.70 637.10l2.30 2.30M250.70 641.70l2.30 2.30M250.70 646.30l2.30 2.30M250.70 650.90l2.30 2.30M250.70 655.50l2.30 2.30M250.70 660.10l2.30 2.30M250.70 664.70l2.30 2.30M250.70 669.30l2.30 2.30M250.70 673.90l2.30 2.30M250.70 678.50l2.30 2.30M250.70 683.10l2.30 2.30M250.70 687.70l2.30 2.30M250.70 692.30l2.30 2.30M250.70 696.90l2.30 2.30M250.70 701.50l2.30 2.30M250.70 706.10l2.30 2.30M255.30 522.10l2.30 2.30M255.30 526.70l2.30 2.30M255.30 531.30l2.30 2.30M255.30 535.90l2.30 2.30M255.30 540.50l2.30 2.30M255.30 545.10l2.30 2.30M255.30 549.70l2.30 2.30M255.30 554.30l2.30 2.30M255.30 558.90l2.30 2.30M255.30 563.50l2.30 2.30M255.30 568.10l2.30 2.30M255.30 572.70l2.30 2.30M255.30 577.30l2.30 2.30M255.30 581.90l2.30 2.30M255.30 586.50l2.30 2.30M255.30 591.10l2.30 2.30M255.30 595.70l2.30 2.30M255.30 600.30l2.30 2.30M255.30 604.90l2.30 2.30M255.30 609.50l2.30 2.30M255.30 614.10l2.30 2.30M255.30 618.70l2.30 2.30M255.30 623.30l2.30 2.30M255.30 627.90l2.30 2.30M255.30 632.50l2.30 2.30M255.30 637.10l2.30 2.30M255.30 641.70l2.30 2.30M255.30 646.30l2.30 2.30M255.30 650.90l2.30 2.30M255.30 655.50l2.30 2.30M255.30 660.10l2.30 2.30M255.30 664.70l2.30 2.30M255.30 669.30l2.30 2.30M255.30 673.90l2.30 2.30M255.30 678.50l2.30 2.30M255.30 683.10l2.30 2.30M255.30 687.70l2.30 2.30M255.30 692.30l2.30 2.30M255.30 696.90l2.30 2.30M255.30 701.50l2.30 2.30M255.30 706.10l2.30 2.30M259.90 522.10l2.30 2.30M259.90 526.70l2.30 2.30M259.90 531.30l2.30 2.30M259.90 535.90l2.30 2.30M259.90 540.50l2.30 2.30M259.90 545.10l2.30 2.30M259.90 549.70l2.30 2.30M259.90 554.30l2.30 2.30M259.90 558.90l2.30 2.30M259.90 563.50l2.30 2.30M259.90 568.10l2.30 2.30M259.90 572.70l2.30 2.30M259.90 577.30l2.30 2.30M259.90 581.90l2.30 2.30M259.90 586.50l2.30 2.30M259.90 591.10l2.30 2.30M259.90 595.70l2.30 2.30M259.90 600.30l2.30 2.30M259.90 604.90l2.30 2.30M259.90 609.50l2.30 2.30M259.90 614.10l2.30 2.30M259.90 618.70l2.30 2.30M259.90 623.30l2.30 2.30M259.90 627.90l2.30 2.30M259.90 632.50l2.30 2.30M259.90 637.10l2.30 2.30M259.90 641.70l2.30 2.30M259.90 646.30l2.30 2.30M259.90 650.90l2.30 2.30M259.90 655.50l2.30 2.30M259.90 660.10l2.30 2.30M259.90 664.70l2.30 2.30M259.90 669.30l2.30 2.30M259.90 673.90l2.30 2.30M259.90 678.50l2.30 2.30M259.90 683.10l2.30 2.30M259.90 687.70l2.30 2.30M259.90 692.30l2.30 2.30M259.90 696.90l2.30 2.30M259.90 701.50l2.30 2.30M259.90 706.10l2.30 2.30" stroke="#404040" stroke-width="0.95" fill="none"/></g>
<rect x="239.95" y="524.50" width="12.30" height="174.00" fill="none" stroke="#2e2e2e" stroke-width="1.05"/>
<path d="M246.10 520.70V536.80M244.50 520.70H247.70M244.50 536.80H247.70" stroke="#5c5c5c" stroke-width="1" fill="none"/>
<path d="M53.3 455.00V702.50M50.00 698.5H266.0" stroke="#555" stroke-width="1.3" fill="none"/>
<line x1="50.00" y1="698.50" x2="53.3" y2="698.50" stroke="#555" stroke-width="1"/>
<text x="47.70" y="701.40" text-anchor="end" font-size="8">0</text>
<line x1="50.00" y1="663.71" x2="53.3" y2="663.71" stroke="#555" stroke-width="1"/>
<text x="47.70" y="666.61" text-anchor="end" font-size="8">20</text>
<line x1="50.00" y1="628.93" x2="53.3" y2="628.93" stroke="#555" stroke-width="1"/>
<text x="47.70" y="631.83" text-anchor="end" font-size="8">40</text>
<line x1="50.00" y1="594.14" x2="53.3" y2="594.14" stroke="#555" stroke-width="1"/>
<text x="47.70" y="597.04" text-anchor="end" font-size="8">60</text>
<line x1="50.00" y1="559.36" x2="53.3" y2="559.36" stroke="#555" stroke-width="1"/>
<text x="47.70" y="562.26" text-anchor="end" font-size="8">80</text>
<line x1="50.00" y1="524.57" x2="53.3" y2="524.57" stroke="#555" stroke-width="1"/>
<text x="47.70" y="527.47" text-anchor="end" font-size="8">100</text>
<line x1="50.00" y1="489.78" x2="53.3" y2="489.78" stroke="#555" stroke-width="1"/>
<text x="47.70" y="492.68" text-anchor="end" font-size="8">120</text>
<line x1="50.00" y1="455.00" x2="53.3" y2="455.00" stroke="#555" stroke-width="1"/>
<text x="47.70" y="457.90" text-anchor="end" font-size="8">140</text>
<line x1="124.20" y1="698.5" x2="124.20" y2="702.50" stroke="#555" stroke-width="1"/>
<line x1="195.10" y1="698.5" x2="195.10" y2="702.50" stroke="#555" stroke-width="1"/>
<line x1="266.00" y1="698.5" x2="266.00" y2="702.50" stroke="#555" stroke-width="1"/>
<line x1="88.75" y1="698.5" x2="88.75" y2="701.20" stroke="#555" stroke-width="1"/>
<line x1="159.65" y1="698.5" x2="159.65" y2="701.20" stroke="#555" stroke-width="1"/>
<line x1="230.55" y1="698.5" x2="230.55" y2="701.20" stroke="#555" stroke-width="1"/>
<text x="88.45" y="715.20" text-anchor="middle" font-size="10.9">MBP-0W</text>
<text x="159.35" y="715.20" text-anchor="middle" font-size="10.9">MBP-2W</text>
<text x="230.25" y="715.20" text-anchor="middle" font-size="10.9">MBP-4W</text>
<text transform="translate(25.7 582.0) rotate(-90)" text-anchor="middle" font-size="10.7">MBP mm Hg</text>
<text x="89.50" y="470.00" text-anchor="middle" font-size="7" font-weight="bold" letter-spacing="2.1">**</text>
<text x="160.70" y="466.50" text-anchor="middle" font-size="7" font-weight="bold" letter-spacing="2.1">**</text>
<text x="231.10" y="466.50" text-anchor="middle" font-size="7" font-weight="bold" letter-spacing="2.1">**</text>
<text x="175.40" y="521.00" text-anchor="middle" font-size="8" font-weight="bold">##</text>
<text x="246.10" y="517.70" text-anchor="middle" font-size="8" font-weight="bold">##</text>
<rect x="275.00" y="463.30" width="5.4" height="5.4" fill="#fff"/>
<rect x="275.00" y="463.30" width="5.4" height="5.4" fill="none" stroke="#222" stroke-width="1.1"/>
<text x="282.40" y="468.55" font-size="8">SHAM</text>
<rect x="275.00" y="486.60" width="5.4" height="5.4" fill="#787878"/><path d="M275.80 491.20L279.60 487.40" stroke="#e8e8e8" stroke-width="1.1"/>
<rect x="275.00" y="486.60" width="5.4" height="5.4" fill="none" stroke="#222" stroke-width="1.1"/>
<text x="282.40" y="491.85" font-size="8">2K1C</text>
<rect x="275.00" y="510.10" width="5.4" height="5.4" fill="#fff"/><path d="M275.80 513.50L278.40 510.90M277.60 512.70L279.60 514.70" stroke="#666" stroke-width="0.9"/>
<rect x="275.00" y="510.10" width="5.4" height="5.4" fill="none" stroke="#222" stroke-width="1.1"/>
<text x="282.40" y="515.35" font-size="8">2K1C-Sinapine</text>
<line x1="340.5" y1="440.4" x2="340.5" y2="722" stroke="#dcdcdc" stroke-width="1"/>
<text transform="translate(0.9 395.3) scale(0.9 1)" font-size="20.8" font-weight="bold" class="pl">C</text>
</svg>
</body></html>
